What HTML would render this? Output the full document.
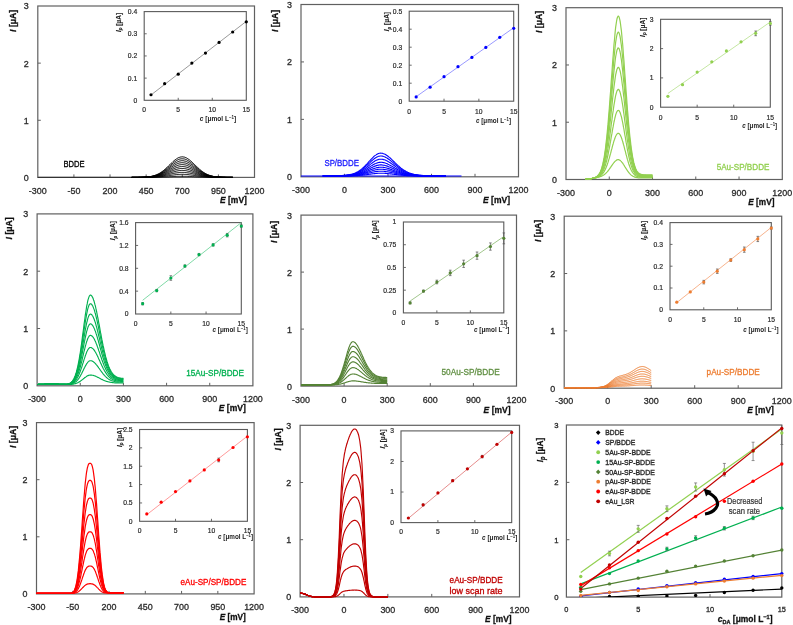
<!DOCTYPE html><html><head><meta charset="utf-8"><style>html,body{margin:0;padding:0;background:#fff;}svg{display:block;filter:blur(0.3px);font-family:"Liberation Sans",sans-serif;}</style></head><body>
<svg width="793" height="625" viewBox="0 0 793 625">
<rect width="793" height="625" fill="#fff"/>
<rect x="37.80" y="6.00" width="216.70" height="171.40" fill="none" stroke="#606060" stroke-width="1.2"/>
<text x="28.80" y="180.84" font-size="9.60" fill="#2c2c2c" font-weight="normal" font-style="normal" text-anchor="end" textLength="4.97" lengthAdjust="spacingAndGlyphs" stroke="#2c2c2c" stroke-width="0.32">0</text>
<line x1="37.80" y1="120.27" x2="40.80" y2="120.27" stroke="#606060" stroke-width="1"/>
<text x="28.80" y="123.70" font-size="9.60" fill="#2c2c2c" font-weight="normal" font-style="normal" text-anchor="end" textLength="4.97" lengthAdjust="spacingAndGlyphs" stroke="#2c2c2c" stroke-width="0.32">1</text>
<line x1="37.80" y1="63.13" x2="40.80" y2="63.13" stroke="#606060" stroke-width="1"/>
<text x="28.80" y="66.57" font-size="9.60" fill="#2c2c2c" font-weight="normal" font-style="normal" text-anchor="end" textLength="4.97" lengthAdjust="spacingAndGlyphs" stroke="#2c2c2c" stroke-width="0.32">2</text>
<text x="28.80" y="9.44" font-size="9.60" fill="#2c2c2c" font-weight="normal" font-style="normal" text-anchor="end" textLength="4.97" lengthAdjust="spacingAndGlyphs" stroke="#2c2c2c" stroke-width="0.32">3</text>
<text x="37.80" y="194.04" font-size="9.60" fill="#2c2c2c" font-weight="normal" font-style="normal" text-anchor="middle" textLength="17.90" lengthAdjust="spacingAndGlyphs" stroke="#2c2c2c" stroke-width="0.32">-300</text>
<line x1="73.92" y1="177.40" x2="73.92" y2="174.40" stroke="#606060" stroke-width="1"/>
<text x="73.92" y="194.04" font-size="9.60" fill="#2c2c2c" font-weight="normal" font-style="normal" text-anchor="middle" textLength="12.94" lengthAdjust="spacingAndGlyphs" stroke="#2c2c2c" stroke-width="0.32">-50</text>
<line x1="110.03" y1="177.40" x2="110.03" y2="174.40" stroke="#606060" stroke-width="1"/>
<text x="110.03" y="194.04" font-size="9.60" fill="#2c2c2c" font-weight="normal" font-style="normal" text-anchor="middle" textLength="14.91" lengthAdjust="spacingAndGlyphs" stroke="#2c2c2c" stroke-width="0.32">200</text>
<line x1="146.15" y1="177.40" x2="146.15" y2="174.40" stroke="#606060" stroke-width="1"/>
<text x="146.15" y="194.04" font-size="9.60" fill="#2c2c2c" font-weight="normal" font-style="normal" text-anchor="middle" textLength="14.91" lengthAdjust="spacingAndGlyphs" stroke="#2c2c2c" stroke-width="0.32">450</text>
<line x1="182.27" y1="177.40" x2="182.27" y2="174.40" stroke="#606060" stroke-width="1"/>
<text x="182.27" y="194.04" font-size="9.60" fill="#2c2c2c" font-weight="normal" font-style="normal" text-anchor="middle" textLength="14.91" lengthAdjust="spacingAndGlyphs" stroke="#2c2c2c" stroke-width="0.32">700</text>
<line x1="218.38" y1="177.40" x2="218.38" y2="174.40" stroke="#606060" stroke-width="1"/>
<text x="218.38" y="194.04" font-size="9.60" fill="#2c2c2c" font-weight="normal" font-style="normal" text-anchor="middle" textLength="14.91" lengthAdjust="spacingAndGlyphs" stroke="#2c2c2c" stroke-width="0.32">950</text>
<text x="254.50" y="194.04" font-size="9.60" fill="#2c2c2c" font-weight="normal" font-style="normal" text-anchor="middle" textLength="19.87" lengthAdjust="spacingAndGlyphs" stroke="#2c2c2c" stroke-width="0.32">1200</text>
<g transform="translate(12.20,20.90) rotate(-90)"><text x="0" y="3.3" font-size="9.2" font-weight="bold" text-anchor="middle" textLength="22" lengthAdjust="spacingAndGlyphs" fill="#111" stroke="#111" stroke-width="0.3"><tspan font-style="italic">I</tspan> [μA]</text></g>
<text x="220.00" y="203.30" font-size="9.2" font-weight="bold" textLength="26.90" lengthAdjust="spacingAndGlyphs" fill="#111" stroke="#111" stroke-width="0.3"><tspan font-style="italic">E</tspan> [mV]</text>
<line x1="37.80" y1="177.30" x2="140.00" y2="177.30" stroke="#222" stroke-width="0.9"/>
<polyline points="131.7,177.4 132.4,177.4 133.1,177.4 133.9,177.4 134.6,177.4 135.3,177.4 136.0,177.4 136.8,177.4 137.5,177.4 138.2,177.3 138.9,177.3 139.6,177.3 140.4,177.3 141.1,177.3 141.8,177.3 142.5,177.2 143.3,177.2 144.0,177.2 144.7,177.1 145.4,177.1 146.1,177.0 146.9,177.0 147.6,176.9 148.3,176.8 149.0,176.7 149.8,176.6 150.5,176.5 151.2,176.4 151.9,176.2 152.7,176.0 153.4,175.8 154.1,175.6 154.8,175.4 155.5,175.1 156.3,174.9 157.0,174.6 157.7,174.2 158.4,173.9 159.2,173.5 159.9,173.0 160.6,172.6 161.3,172.1 162.0,171.6 162.8,171.1 163.5,170.5 164.2,169.9 164.9,169.3 165.7,168.6 166.4,168.0 167.1,167.3 167.8,166.6 168.5,165.9 169.3,165.2 170.0,164.5 170.7,163.8 171.4,163.1 172.2,162.4 172.9,161.7 173.6,161.1 174.3,160.5 175.0,159.9 175.8,159.4 176.5,158.9 177.2,158.4 177.9,158.0 178.7,157.6 179.4,157.4 180.1,157.1 180.8,157.0 181.5,156.9 182.3,156.8 183.0,156.9 183.7,157.0 184.4,157.1 185.2,157.4 185.9,157.6 186.6,158.0 187.3,158.4 188.0,158.9 188.8,159.4 189.5,159.9 190.2,160.5 190.9,161.1 191.7,161.7 192.4,162.4 193.1,163.1 193.8,163.8 194.5,164.5 195.3,165.2 196.0,165.9 196.7,166.6 197.4,167.3 198.2,168.0 198.9,168.6 199.6,169.3 200.3,169.9 201.0,170.5 201.8,171.1 202.5,171.6 203.2,172.1 203.9,172.6 204.7,173.0 205.4,173.5 206.1,173.9 206.8,174.2 207.5,174.6 208.3,174.9 209.0,175.1 209.7,175.4 210.4,175.6 211.2,175.8 211.9,176.0 212.6,176.2 213.3,176.4 214.0,176.5 214.8,176.6 215.5,176.7 216.2,176.8 216.9,176.9 217.7,177.0 218.4,177.0 219.1,177.1 219.8,177.1 220.6,177.2 221.3,177.2 222.0,177.2 222.7,177.3 223.4,177.3 224.2,177.3 224.9,177.3 225.6,177.3 226.3,177.3 227.1,177.4 227.8,177.4 228.5,177.4 229.2,177.4 229.9,177.4 230.7,177.4 231.4,177.4 232.1,177.4 232.8,177.4" fill="none" stroke="#000" stroke-width="1.0" stroke-linejoin="round" opacity="1.0"/>
<polyline points="131.7,177.4 132.4,177.4 133.1,177.4 133.9,177.4 134.6,177.4 135.3,177.4 136.0,177.4 136.8,177.4 137.5,177.4 138.2,177.4 138.9,177.3 139.6,177.3 140.4,177.3 141.1,177.3 141.8,177.3 142.5,177.3 143.3,177.2 144.0,177.2 144.7,177.2 145.4,177.1 146.1,177.1 146.9,177.0 147.6,176.9 148.3,176.9 149.0,176.8 149.8,176.7 150.5,176.6 151.2,176.5 151.9,176.3 152.7,176.2 153.4,176.0 154.1,175.8 154.8,175.6 155.5,175.4 156.3,175.1 157.0,174.8 157.7,174.5 158.4,174.2 159.2,173.8 159.9,173.5 160.6,173.0 161.3,172.6 162.0,172.1 162.8,171.7 163.5,171.1 164.2,170.6 164.9,170.0 165.7,169.5 166.4,168.9 167.1,168.3 167.8,167.6 168.5,167.0 169.3,166.4 170.0,165.7 170.7,165.1 171.4,164.4 172.2,163.8 172.9,163.2 173.6,162.6 174.3,162.1 175.0,161.6 175.8,161.1 176.5,160.6 177.2,160.2 177.9,159.8 178.7,159.5 179.4,159.2 180.1,159.0 180.8,158.9 181.5,158.8 182.3,158.8 183.0,158.8 183.7,158.9 184.4,159.0 185.2,159.2 185.9,159.5 186.6,159.8 187.3,160.2 188.0,160.6 188.8,161.1 189.5,161.6 190.2,162.1 190.9,162.6 191.7,163.2 192.4,163.8 193.1,164.4 193.8,165.1 194.5,165.7 195.3,166.4 196.0,167.0 196.7,167.6 197.4,168.3 198.2,168.9 198.9,169.5 199.6,170.0 200.3,170.6 201.0,171.1 201.8,171.7 202.5,172.1 203.2,172.6 203.9,173.0 204.7,173.5 205.4,173.8 206.1,174.2 206.8,174.5 207.5,174.8 208.3,175.1 209.0,175.4 209.7,175.6 210.4,175.8 211.2,176.0 211.9,176.2 212.6,176.3 213.3,176.5 214.0,176.6 214.8,176.7 215.5,176.8 216.2,176.9 216.9,176.9 217.7,177.0 218.4,177.1 219.1,177.1 219.8,177.2 220.6,177.2 221.3,177.2 222.0,177.3 222.7,177.3 223.4,177.3 224.2,177.3 224.9,177.3 225.6,177.3 226.3,177.4 227.1,177.4 227.8,177.4 228.5,177.4 229.2,177.4 229.9,177.4 230.7,177.4 231.4,177.4 232.1,177.4 232.8,177.4" fill="none" stroke="#000" stroke-width="1.0" stroke-linejoin="round" opacity="1.0"/>
<polyline points="131.7,177.4 132.4,177.4 133.1,177.4 133.9,177.4 134.6,177.4 135.3,177.4 136.0,177.4 136.8,177.4 137.5,177.4 138.2,177.4 138.9,177.4 139.6,177.3 140.4,177.3 141.1,177.3 141.8,177.3 142.5,177.3 143.3,177.2 144.0,177.2 144.7,177.2 145.4,177.1 146.1,177.1 146.9,177.1 147.6,177.0 148.3,176.9 149.0,176.9 149.8,176.8 150.5,176.7 151.2,176.6 151.9,176.4 152.7,176.3 153.4,176.1 154.1,176.0 154.8,175.8 155.5,175.6 156.3,175.3 157.0,175.1 157.7,174.8 158.4,174.5 159.2,174.2 159.9,173.9 160.6,173.5 161.3,173.1 162.0,172.7 162.8,172.3 163.5,171.8 164.2,171.3 164.9,170.8 165.7,170.3 166.4,169.8 167.1,169.2 167.8,168.7 168.5,168.1 169.3,167.5 170.0,166.9 170.7,166.4 171.4,165.8 172.2,165.2 172.9,164.7 173.6,164.2 174.3,163.7 175.0,163.2 175.8,162.8 176.5,162.4 177.2,162.0 177.9,161.7 178.7,161.4 179.4,161.1 180.1,161.0 180.8,160.8 181.5,160.7 182.3,160.7 183.0,160.7 183.7,160.8 184.4,161.0 185.2,161.1 185.9,161.4 186.6,161.7 187.3,162.0 188.0,162.4 188.8,162.8 189.5,163.2 190.2,163.7 190.9,164.2 191.7,164.7 192.4,165.2 193.1,165.8 193.8,166.4 194.5,166.9 195.3,167.5 196.0,168.1 196.7,168.7 197.4,169.2 198.2,169.8 198.9,170.3 199.6,170.8 200.3,171.3 201.0,171.8 201.8,172.3 202.5,172.7 203.2,173.1 203.9,173.5 204.7,173.9 205.4,174.2 206.1,174.5 206.8,174.8 207.5,175.1 208.3,175.3 209.0,175.6 209.7,175.8 210.4,176.0 211.2,176.1 211.9,176.3 212.6,176.4 213.3,176.6 214.0,176.7 214.8,176.8 215.5,176.9 216.2,176.9 216.9,177.0 217.7,177.1 218.4,177.1 219.1,177.1 219.8,177.2 220.6,177.2 221.3,177.2 222.0,177.3 222.7,177.3 223.4,177.3 224.2,177.3 224.9,177.3 225.6,177.4 226.3,177.4 227.1,177.4 227.8,177.4 228.5,177.4 229.2,177.4 229.9,177.4 230.7,177.4 231.4,177.4 232.1,177.4 232.8,177.4" fill="none" stroke="#000" stroke-width="1.0" stroke-linejoin="round" opacity="1.0"/>
<polyline points="131.7,177.4 132.4,177.4 133.1,177.4 133.9,177.4 134.6,177.4 135.3,177.4 136.0,177.4 136.8,177.4 137.5,177.4 138.2,177.4 138.9,177.4 139.6,177.3 140.4,177.3 141.1,177.3 141.8,177.3 142.5,177.3 143.3,177.3 144.0,177.2 144.7,177.2 145.4,177.2 146.1,177.1 146.9,177.1 147.6,177.0 148.3,177.0 149.0,176.9 149.8,176.8 150.5,176.8 151.2,176.7 151.9,176.5 152.7,176.4 153.4,176.3 154.1,176.1 154.8,176.0 155.5,175.8 156.3,175.6 157.0,175.4 157.7,175.1 158.4,174.9 159.2,174.6 159.9,174.3 160.6,174.0 161.3,173.6 162.0,173.2 162.8,172.9 163.5,172.4 164.2,172.0 164.9,171.6 165.7,171.1 166.4,170.7 167.1,170.2 167.8,169.7 168.5,169.2 169.3,168.7 170.0,168.2 170.7,167.6 171.4,167.1 172.2,166.7 172.9,166.2 173.6,165.7 174.3,165.3 175.0,164.9 175.8,164.5 176.5,164.1 177.2,163.8 177.9,163.5 178.7,163.2 179.4,163.0 180.1,162.9 180.8,162.8 181.5,162.7 182.3,162.7 183.0,162.7 183.7,162.8 184.4,162.9 185.2,163.0 185.9,163.2 186.6,163.5 187.3,163.8 188.0,164.1 188.8,164.5 189.5,164.9 190.2,165.3 190.9,165.7 191.7,166.2 192.4,166.7 193.1,167.1 193.8,167.6 194.5,168.2 195.3,168.7 196.0,169.2 196.7,169.7 197.4,170.2 198.2,170.7 198.9,171.1 199.6,171.6 200.3,172.0 201.0,172.4 201.8,172.9 202.5,173.2 203.2,173.6 203.9,174.0 204.7,174.3 205.4,174.6 206.1,174.9 206.8,175.1 207.5,175.4 208.3,175.6 209.0,175.8 209.7,176.0 210.4,176.1 211.2,176.3 211.9,176.4 212.6,176.5 213.3,176.7 214.0,176.8 214.8,176.8 215.5,176.9 216.2,177.0 216.9,177.0 217.7,177.1 218.4,177.1 219.1,177.2 219.8,177.2 220.6,177.2 221.3,177.3 222.0,177.3 222.7,177.3 223.4,177.3 224.2,177.3 224.9,177.3 225.6,177.4 226.3,177.4 227.1,177.4 227.8,177.4 228.5,177.4 229.2,177.4 229.9,177.4 230.7,177.4 231.4,177.4 232.1,177.4 232.8,177.4" fill="none" stroke="#000" stroke-width="1.0" stroke-linejoin="round" opacity="1.0"/>
<polyline points="131.7,177.4 132.4,177.4 133.1,177.4 133.9,177.4 134.6,177.4 135.3,177.4 136.0,177.4 136.8,177.4 137.5,177.4 138.2,177.4 138.9,177.4 139.6,177.4 140.4,177.3 141.1,177.3 141.8,177.3 142.5,177.3 143.3,177.3 144.0,177.3 144.7,177.2 145.4,177.2 146.1,177.2 146.9,177.1 147.6,177.1 148.3,177.0 149.0,177.0 149.8,176.9 150.5,176.8 151.2,176.8 151.9,176.7 152.7,176.6 153.4,176.4 154.1,176.3 154.8,176.2 155.5,176.0 156.3,175.8 157.0,175.6 157.7,175.4 158.4,175.2 159.2,174.9 159.9,174.7 160.6,174.4 161.3,174.1 162.0,173.8 162.8,173.5 163.5,173.1 164.2,172.7 164.9,172.3 165.7,172.0 166.4,171.5 167.1,171.1 167.8,170.7 168.5,170.3 169.3,169.8 170.0,169.4 170.7,168.9 171.4,168.5 172.2,168.1 172.9,167.7 173.6,167.3 174.3,166.9 175.0,166.5 175.8,166.2 176.5,165.9 177.2,165.6 177.9,165.3 178.7,165.1 179.4,164.9 180.1,164.8 180.8,164.7 181.5,164.6 182.3,164.6 183.0,164.6 183.7,164.7 184.4,164.8 185.2,164.9 185.9,165.1 186.6,165.3 187.3,165.6 188.0,165.9 188.8,166.2 189.5,166.5 190.2,166.9 190.9,167.3 191.7,167.7 192.4,168.1 193.1,168.5 193.8,168.9 194.5,169.4 195.3,169.8 196.0,170.3 196.7,170.7 197.4,171.1 198.2,171.5 198.9,172.0 199.6,172.3 200.3,172.7 201.0,173.1 201.8,173.5 202.5,173.8 203.2,174.1 203.9,174.4 204.7,174.7 205.4,174.9 206.1,175.2 206.8,175.4 207.5,175.6 208.3,175.8 209.0,176.0 209.7,176.2 210.4,176.3 211.2,176.4 211.9,176.6 212.6,176.7 213.3,176.8 214.0,176.8 214.8,176.9 215.5,177.0 216.2,177.0 216.9,177.1 217.7,177.1 218.4,177.2 219.1,177.2 219.8,177.2 220.6,177.3 221.3,177.3 222.0,177.3 222.7,177.3 223.4,177.3 224.2,177.3 224.9,177.4 225.6,177.4 226.3,177.4 227.1,177.4 227.8,177.4 228.5,177.4 229.2,177.4 229.9,177.4 230.7,177.4 231.4,177.4 232.1,177.4 232.8,177.4" fill="none" stroke="#000" stroke-width="1.0" stroke-linejoin="round" opacity="1.0"/>
<polyline points="131.7,177.4 132.4,177.4 133.1,177.4 133.9,177.4 134.6,177.4 135.3,177.4 136.0,177.4 136.8,177.4 137.5,177.4 138.2,177.4 138.9,177.4 139.6,177.4 140.4,177.4 141.1,177.3 141.8,177.3 142.5,177.3 143.3,177.3 144.0,177.3 144.7,177.3 145.4,177.2 146.1,177.2 146.9,177.2 147.6,177.1 148.3,177.1 149.0,177.0 149.8,177.0 150.5,176.9 151.2,176.9 151.9,176.8 152.7,176.7 153.4,176.6 154.1,176.5 154.8,176.3 155.5,176.2 156.3,176.1 157.0,175.9 157.7,175.7 158.4,175.5 159.2,175.3 159.9,175.1 160.6,174.9 161.3,174.6 162.0,174.3 162.8,174.1 163.5,173.8 164.2,173.4 164.9,173.1 165.7,172.8 166.4,172.4 167.1,172.1 167.8,171.7 168.5,171.3 169.3,171.0 170.0,170.6 170.7,170.2 171.4,169.9 172.2,169.5 172.9,169.1 173.6,168.8 174.3,168.5 175.0,168.2 175.8,167.9 176.5,167.6 177.2,167.4 177.9,167.2 178.7,167.0 179.4,166.8 180.1,166.7 180.8,166.6 181.5,166.6 182.3,166.5 183.0,166.6 183.7,166.6 184.4,166.7 185.2,166.8 185.9,167.0 186.6,167.2 187.3,167.4 188.0,167.6 188.8,167.9 189.5,168.2 190.2,168.5 190.9,168.8 191.7,169.1 192.4,169.5 193.1,169.9 193.8,170.2 194.5,170.6 195.3,171.0 196.0,171.3 196.7,171.7 197.4,172.1 198.2,172.4 198.9,172.8 199.6,173.1 200.3,173.4 201.0,173.8 201.8,174.1 202.5,174.3 203.2,174.6 203.9,174.9 204.7,175.1 205.4,175.3 206.1,175.5 206.8,175.7 207.5,175.9 208.3,176.1 209.0,176.2 209.7,176.3 210.4,176.5 211.2,176.6 211.9,176.7 212.6,176.8 213.3,176.9 214.0,176.9 214.8,177.0 215.5,177.0 216.2,177.1 216.9,177.1 217.7,177.2 218.4,177.2 219.1,177.2 219.8,177.3 220.6,177.3 221.3,177.3 222.0,177.3 222.7,177.3 223.4,177.3 224.2,177.4 224.9,177.4 225.6,177.4 226.3,177.4 227.1,177.4 227.8,177.4 228.5,177.4 229.2,177.4 229.9,177.4 230.7,177.4 231.4,177.4 232.1,177.4 232.8,177.4" fill="none" stroke="#000" stroke-width="1.0" stroke-linejoin="round" opacity="1.0"/>
<polyline points="131.7,177.4 132.4,177.4 133.1,177.4 133.9,177.4 134.6,177.4 135.3,177.4 136.0,177.4 136.8,177.4 137.5,177.4 138.2,177.4 138.9,177.4 139.6,177.4 140.4,177.4 141.1,177.4 141.8,177.3 142.5,177.3 143.3,177.3 144.0,177.3 144.7,177.3 145.4,177.3 146.1,177.2 146.9,177.2 147.6,177.2 148.3,177.1 149.0,177.1 149.8,177.1 150.5,177.0 151.2,176.9 151.9,176.9 152.7,176.8 153.4,176.7 154.1,176.6 154.8,176.5 155.5,176.4 156.3,176.3 157.0,176.2 157.7,176.0 158.4,175.9 159.2,175.7 159.9,175.5 160.6,175.3 161.3,175.1 162.0,174.9 162.8,174.7 163.5,174.4 164.2,174.2 164.9,173.9 165.7,173.6 166.4,173.3 167.1,173.0 167.8,172.7 168.5,172.4 169.3,172.1 170.0,171.8 170.7,171.5 171.4,171.2 172.2,170.9 172.9,170.6 173.6,170.3 174.3,170.1 175.0,169.8 175.8,169.6 176.5,169.4 177.2,169.2 177.9,169.0 178.7,168.8 179.4,168.7 180.1,168.6 180.8,168.5 181.5,168.5 182.3,168.5 183.0,168.5 183.7,168.5 184.4,168.6 185.2,168.7 185.9,168.8 186.6,169.0 187.3,169.2 188.0,169.4 188.8,169.6 189.5,169.8 190.2,170.1 190.9,170.3 191.7,170.6 192.4,170.9 193.1,171.2 193.8,171.5 194.5,171.8 195.3,172.1 196.0,172.4 196.7,172.7 197.4,173.0 198.2,173.3 198.9,173.6 199.6,173.9 200.3,174.2 201.0,174.4 201.8,174.7 202.5,174.9 203.2,175.1 203.9,175.3 204.7,175.5 205.4,175.7 206.1,175.9 206.8,176.0 207.5,176.2 208.3,176.3 209.0,176.4 209.7,176.5 210.4,176.6 211.2,176.7 211.9,176.8 212.6,176.9 213.3,176.9 214.0,177.0 214.8,177.1 215.5,177.1 216.2,177.1 216.9,177.2 217.7,177.2 218.4,177.2 219.1,177.3 219.8,177.3 220.6,177.3 221.3,177.3 222.0,177.3 222.7,177.3 223.4,177.4 224.2,177.4 224.9,177.4 225.6,177.4 226.3,177.4 227.1,177.4 227.8,177.4 228.5,177.4 229.2,177.4 229.9,177.4 230.7,177.4 231.4,177.4 232.1,177.4 232.8,177.4" fill="none" stroke="#000" stroke-width="1.0" stroke-linejoin="round" opacity="1.0"/>
<polyline points="131.7,177.4 132.4,177.4 133.1,177.4 133.9,177.4 134.6,177.4 135.3,177.4 136.0,177.4 136.8,177.4 137.5,177.4 138.2,177.4 138.9,177.4 139.6,177.4 140.4,177.4 141.1,177.4 141.8,177.4 142.5,177.3 143.3,177.3 144.0,177.3 144.7,177.3 145.4,177.3 146.1,177.3 146.9,177.3 147.6,177.2 148.3,177.2 149.0,177.2 149.8,177.1 150.5,177.1 151.2,177.0 151.9,177.0 152.7,176.9 153.4,176.9 154.1,176.8 154.8,176.7 155.5,176.6 156.3,176.5 157.0,176.4 157.7,176.3 158.4,176.2 159.2,176.1 159.9,175.9 160.6,175.8 161.3,175.6 162.0,175.4 162.8,175.3 163.5,175.1 164.2,174.9 164.9,174.6 165.7,174.4 166.4,174.2 167.1,174.0 167.8,173.7 168.5,173.5 169.3,173.3 170.0,173.0 170.7,172.8 171.4,172.6 172.2,172.3 172.9,172.1 173.6,171.9 174.3,171.7 175.0,171.5 175.8,171.3 176.5,171.1 177.2,171.0 177.9,170.8 178.7,170.7 179.4,170.6 180.1,170.5 180.8,170.5 181.5,170.4 182.3,170.4 183.0,170.4 183.7,170.5 184.4,170.5 185.2,170.6 185.9,170.7 186.6,170.8 187.3,171.0 188.0,171.1 188.8,171.3 189.5,171.5 190.2,171.7 190.9,171.9 191.7,172.1 192.4,172.3 193.1,172.6 193.8,172.8 194.5,173.0 195.3,173.3 196.0,173.5 196.7,173.7 197.4,174.0 198.2,174.2 198.9,174.4 199.6,174.6 200.3,174.9 201.0,175.1 201.8,175.3 202.5,175.4 203.2,175.6 203.9,175.8 204.7,175.9 205.4,176.1 206.1,176.2 206.8,176.3 207.5,176.4 208.3,176.5 209.0,176.6 209.7,176.7 210.4,176.8 211.2,176.9 211.9,176.9 212.6,177.0 213.3,177.0 214.0,177.1 214.8,177.1 215.5,177.2 216.2,177.2 216.9,177.2 217.7,177.3 218.4,177.3 219.1,177.3 219.8,177.3 220.6,177.3 221.3,177.3 222.0,177.3 222.7,177.4 223.4,177.4 224.2,177.4 224.9,177.4 225.6,177.4 226.3,177.4 227.1,177.4 227.8,177.4 228.5,177.4 229.2,177.4 229.9,177.4 230.7,177.4 231.4,177.4 232.1,177.4 232.8,177.4" fill="none" stroke="#000" stroke-width="1.0" stroke-linejoin="round" opacity="1.0"/>
<polyline points="131.7,177.4 132.4,177.4 133.1,177.4 133.9,177.4 134.6,177.4 135.3,177.4 136.0,177.4 136.8,177.4 137.5,177.4 138.2,177.4 138.9,177.4 139.6,177.4 140.4,177.4 141.1,177.4 141.8,177.4 142.5,177.4 143.3,177.4 144.0,177.3 144.7,177.3 145.4,177.3 146.1,177.3 146.9,177.3 147.6,177.3 148.3,177.3 149.0,177.2 149.8,177.2 150.5,177.2 151.2,177.1 151.9,177.1 152.7,177.1 153.4,177.0 154.1,177.0 154.8,176.9 155.5,176.8 156.3,176.8 157.0,176.7 157.7,176.6 158.4,176.5 159.2,176.4 159.9,176.3 160.6,176.2 161.3,176.1 162.0,176.0 162.8,175.9 163.5,175.7 164.2,175.6 164.9,175.4 165.7,175.3 166.4,175.1 167.1,174.9 167.8,174.8 168.5,174.6 169.3,174.4 170.0,174.2 170.7,174.1 171.4,173.9 172.2,173.7 172.9,173.6 173.6,173.4 174.3,173.3 175.0,173.1 175.8,173.0 176.5,172.9 177.2,172.8 177.9,172.7 178.7,172.6 179.4,172.5 180.1,172.4 180.8,172.4 181.5,172.4 182.3,172.4 183.0,172.4 183.7,172.4 184.4,172.4 185.2,172.5 185.9,172.6 186.6,172.7 187.3,172.8 188.0,172.9 188.8,173.0 189.5,173.1 190.2,173.3 190.9,173.4 191.7,173.6 192.4,173.7 193.1,173.9 193.8,174.1 194.5,174.2 195.3,174.4 196.0,174.6 196.7,174.8 197.4,174.9 198.2,175.1 198.9,175.3 199.6,175.4 200.3,175.6 201.0,175.7 201.8,175.9 202.5,176.0 203.2,176.1 203.9,176.2 204.7,176.3 205.4,176.4 206.1,176.5 206.8,176.6 207.5,176.7 208.3,176.8 209.0,176.8 209.7,176.9 210.4,177.0 211.2,177.0 211.9,177.1 212.6,177.1 213.3,177.1 214.0,177.2 214.8,177.2 215.5,177.2 216.2,177.3 216.9,177.3 217.7,177.3 218.4,177.3 219.1,177.3 219.8,177.3 220.6,177.3 221.3,177.4 222.0,177.4 222.7,177.4 223.4,177.4 224.2,177.4 224.9,177.4 225.6,177.4 226.3,177.4 227.1,177.4 227.8,177.4 228.5,177.4 229.2,177.4 229.9,177.4 230.7,177.4 231.4,177.4 232.1,177.4 232.8,177.4" fill="none" stroke="#000" stroke-width="1.0" stroke-linejoin="round" opacity="1.0"/>
<polyline points="131.7,177.4 132.4,177.4 133.1,177.4 133.9,177.4 134.6,177.4 135.3,177.4 136.0,177.4 136.8,177.4 137.5,177.4 138.2,177.4 138.9,177.4 139.6,177.4 140.4,177.4 141.1,177.4 141.8,177.4 142.5,177.4 143.3,177.4 144.0,177.4 144.7,177.4 145.4,177.4 146.1,177.3 146.9,177.3 147.6,177.3 148.3,177.3 149.0,177.3 149.8,177.3 150.5,177.3 151.2,177.2 151.9,177.2 152.7,177.2 153.4,177.2 154.1,177.1 154.8,177.1 155.5,177.1 156.3,177.0 157.0,177.0 157.7,176.9 158.4,176.9 159.2,176.8 159.9,176.7 160.6,176.7 161.3,176.6 162.0,176.5 162.8,176.4 163.5,176.4 164.2,176.3 164.9,176.2 165.7,176.1 166.4,176.0 167.1,175.9 167.8,175.8 168.5,175.7 169.3,175.6 170.0,175.5 170.7,175.4 171.4,175.3 172.2,175.2 172.9,175.1 173.6,175.0 174.3,174.9 175.0,174.8 175.8,174.7 176.5,174.6 177.2,174.5 177.9,174.5 178.7,174.4 179.4,174.4 180.1,174.4 180.8,174.3 181.5,174.3 182.3,174.3 183.0,174.3 183.7,174.3 184.4,174.4 185.2,174.4 185.9,174.4 186.6,174.5 187.3,174.5 188.0,174.6 188.8,174.7 189.5,174.8 190.2,174.9 190.9,175.0 191.7,175.1 192.4,175.2 193.1,175.3 193.8,175.4 194.5,175.5 195.3,175.6 196.0,175.7 196.7,175.8 197.4,175.9 198.2,176.0 198.9,176.1 199.6,176.2 200.3,176.3 201.0,176.4 201.8,176.4 202.5,176.5 203.2,176.6 203.9,176.7 204.7,176.7 205.4,176.8 206.1,176.9 206.8,176.9 207.5,177.0 208.3,177.0 209.0,177.1 209.7,177.1 210.4,177.1 211.2,177.2 211.9,177.2 212.6,177.2 213.3,177.2 214.0,177.3 214.8,177.3 215.5,177.3 216.2,177.3 216.9,177.3 217.7,177.3 218.4,177.3 219.1,177.4 219.8,177.4 220.6,177.4 221.3,177.4 222.0,177.4 222.7,177.4 223.4,177.4 224.2,177.4 224.9,177.4 225.6,177.4 226.3,177.4 227.1,177.4 227.8,177.4 228.5,177.4 229.2,177.4 229.9,177.4 230.7,177.4 231.4,177.4 232.1,177.4 232.8,177.4" fill="none" stroke="#000" stroke-width="1.0" stroke-linejoin="round" opacity="1.0"/>
<polyline points="131.7,177.4 132.4,177.4 133.1,177.4 133.9,177.4 134.6,177.4 135.3,177.4 136.0,177.4 136.8,177.4 137.5,177.4 138.2,177.4 138.9,177.4 139.6,177.4 140.4,177.4 141.1,177.4 141.8,177.4 142.5,177.4 143.3,177.4 144.0,177.4 144.7,177.4 145.4,177.4 146.1,177.4 146.9,177.4 147.6,177.4 148.3,177.4 149.0,177.4 149.8,177.4 150.5,177.3 151.2,177.3 151.9,177.3 152.7,177.3 153.4,177.3 154.1,177.3 154.8,177.3 155.5,177.3 156.3,177.3 157.0,177.2 157.7,177.2 158.4,177.2 159.2,177.2 159.9,177.2 160.6,177.1 161.3,177.1 162.0,177.1 162.8,177.0 163.5,177.0 164.2,177.0 164.9,176.9 165.7,176.9 166.4,176.9 167.1,176.8 167.8,176.8 168.5,176.8 169.3,176.7 170.0,176.7 170.7,176.6 171.4,176.6 172.2,176.6 172.9,176.5 173.6,176.5 174.3,176.5 175.0,176.4 175.8,176.4 176.5,176.4 177.2,176.3 177.9,176.3 178.7,176.3 179.4,176.3 180.1,176.3 180.8,176.3 181.5,176.3 182.3,176.3 183.0,176.3 183.7,176.3 184.4,176.3 185.2,176.3 185.9,176.3 186.6,176.3 187.3,176.3 188.0,176.4 188.8,176.4 189.5,176.4 190.2,176.5 190.9,176.5 191.7,176.5 192.4,176.6 193.1,176.6 193.8,176.6 194.5,176.7 195.3,176.7 196.0,176.8 196.7,176.8 197.4,176.8 198.2,176.9 198.9,176.9 199.6,176.9 200.3,177.0 201.0,177.0 201.8,177.0 202.5,177.1 203.2,177.1 203.9,177.1 204.7,177.2 205.4,177.2 206.1,177.2 206.8,177.2 207.5,177.2 208.3,177.3 209.0,177.3 209.7,177.3 210.4,177.3 211.2,177.3 211.9,177.3 212.6,177.3 213.3,177.3 214.0,177.3 214.8,177.4 215.5,177.4 216.2,177.4 216.9,177.4 217.7,177.4 218.4,177.4 219.1,177.4 219.8,177.4 220.6,177.4 221.3,177.4 222.0,177.4 222.7,177.4 223.4,177.4 224.2,177.4 224.9,177.4 225.6,177.4 226.3,177.4 227.1,177.4 227.8,177.4 228.5,177.4 229.2,177.4 229.9,177.4 230.7,177.4 231.4,177.4 232.1,177.4 232.8,177.4" fill="none" stroke="#000" stroke-width="1.0" stroke-linejoin="round" opacity="1.0"/>
<text x="63.50" y="167.24" font-size="9.60" fill="#000" font-weight="normal" font-style="normal" text-anchor="start" textLength="21.10" lengthAdjust="spacingAndGlyphs" stroke="#000" stroke-width="0.32">BDDE</text>
<rect x="144.20" y="11.60" width="102.10" height="88.70" fill="none" stroke="#5a5a5a" stroke-width="1.1"/>
<text x="137.20" y="102.70" font-size="6.70" fill="#2c2c2c" font-weight="normal" font-style="normal" text-anchor="end" textLength="3.77" lengthAdjust="spacingAndGlyphs" stroke="#2c2c2c" stroke-width="0.2">0</text>
<line x1="144.20" y1="78.12" x2="146.70" y2="78.12" stroke="#5a5a5a" stroke-width="0.9"/>
<text x="137.20" y="80.52" font-size="6.70" fill="#2c2c2c" font-weight="normal" font-style="normal" text-anchor="end" textLength="9.42" lengthAdjust="spacingAndGlyphs" stroke="#2c2c2c" stroke-width="0.2">0.1</text>
<line x1="144.20" y1="55.95" x2="146.70" y2="55.95" stroke="#5a5a5a" stroke-width="0.9"/>
<text x="137.20" y="58.35" font-size="6.70" fill="#2c2c2c" font-weight="normal" font-style="normal" text-anchor="end" textLength="9.42" lengthAdjust="spacingAndGlyphs" stroke="#2c2c2c" stroke-width="0.2">0.2</text>
<line x1="144.20" y1="33.77" x2="146.70" y2="33.77" stroke="#5a5a5a" stroke-width="0.9"/>
<text x="137.20" y="36.17" font-size="6.70" fill="#2c2c2c" font-weight="normal" font-style="normal" text-anchor="end" textLength="9.42" lengthAdjust="spacingAndGlyphs" stroke="#2c2c2c" stroke-width="0.2">0.3</text>
<text x="137.20" y="14.00" font-size="6.70" fill="#2c2c2c" font-weight="normal" font-style="normal" text-anchor="end" textLength="9.42" lengthAdjust="spacingAndGlyphs" stroke="#2c2c2c" stroke-width="0.2">0.4</text>
<text x="144.20" y="112.00" font-size="6.70" fill="#2c2c2c" font-weight="normal" font-style="normal" text-anchor="middle" textLength="3.75" lengthAdjust="spacingAndGlyphs" stroke="#2c2c2c" stroke-width="0.2">0</text>
<line x1="178.23" y1="100.30" x2="178.23" y2="97.80" stroke="#5a5a5a" stroke-width="0.9"/>
<text x="178.23" y="112.00" font-size="6.70" fill="#2c2c2c" font-weight="normal" font-style="normal" text-anchor="middle" textLength="3.75" lengthAdjust="spacingAndGlyphs" stroke="#2c2c2c" stroke-width="0.2">5</text>
<line x1="212.27" y1="100.30" x2="212.27" y2="97.80" stroke="#5a5a5a" stroke-width="0.9"/>
<text x="212.27" y="112.00" font-size="6.70" fill="#2c2c2c" font-weight="normal" font-style="normal" text-anchor="middle" textLength="7.50" lengthAdjust="spacingAndGlyphs" stroke="#2c2c2c" stroke-width="0.2">10</text>
<text x="246.30" y="112.00" font-size="6.70" fill="#2c2c2c" font-weight="normal" font-style="normal" text-anchor="middle" textLength="7.50" lengthAdjust="spacingAndGlyphs" stroke="#2c2c2c" stroke-width="0.2">15</text>
<line x1="151.01" y1="94.98" x2="246.30" y2="21.36" stroke="#808080" stroke-width="0.8"/>
<circle cx="151.01" cy="94.76" r="1.6" fill="#000"/>
<circle cx="164.62" cy="83.67" r="1.6" fill="#000"/>
<circle cx="178.23" cy="74.13" r="1.6" fill="#000"/>
<circle cx="191.85" cy="63.05" r="1.6" fill="#000"/>
<circle cx="205.46" cy="53.07" r="1.6" fill="#000"/>
<circle cx="219.07" cy="42.42" r="1.6" fill="#000"/>
<circle cx="232.69" cy="32.00" r="1.6" fill="#000"/>
<circle cx="246.30" cy="21.80" r="1.6" fill="#000"/>
<g transform="translate(118.50,22.50) rotate(-90)"><text x="0" y="2.4" font-size="6.8" font-weight="bold" text-anchor="middle" textLength="19.2" lengthAdjust="spacingAndGlyphs" fill="#222" stroke="#222" stroke-width="0.1"><tspan font-style="italic">I</tspan><tspan font-size="4.6" dy="1.5" font-style="italic">p</tspan><tspan dy="-1.5"> [μA]</tspan></text></g>
<text x="199.80" y="120.80" font-size="6.8" font-weight="bold" textLength="36.40" lengthAdjust="spacingAndGlyphs" fill="#222"><tspan font-style="italic">c</tspan> [μmol L<tspan font-size="4.6" dy="-2.2">−1</tspan><tspan dy="2.2">]</tspan></text>
<rect x="301.00" y="4.50" width="217.50" height="172.30" fill="none" stroke="#606060" stroke-width="1.2"/>
<text x="292.00" y="180.24" font-size="9.60" fill="#2c2c2c" font-weight="normal" font-style="normal" text-anchor="end" textLength="4.97" lengthAdjust="spacingAndGlyphs" stroke="#2c2c2c" stroke-width="0.32">0</text>
<line x1="301.00" y1="119.37" x2="304.00" y2="119.37" stroke="#606060" stroke-width="1"/>
<text x="292.00" y="122.80" font-size="9.60" fill="#2c2c2c" font-weight="normal" font-style="normal" text-anchor="end" textLength="4.97" lengthAdjust="spacingAndGlyphs" stroke="#2c2c2c" stroke-width="0.32">1</text>
<line x1="301.00" y1="61.93" x2="304.00" y2="61.93" stroke="#606060" stroke-width="1"/>
<text x="292.00" y="65.37" font-size="9.60" fill="#2c2c2c" font-weight="normal" font-style="normal" text-anchor="end" textLength="4.97" lengthAdjust="spacingAndGlyphs" stroke="#2c2c2c" stroke-width="0.32">2</text>
<text x="292.00" y="7.94" font-size="9.60" fill="#2c2c2c" font-weight="normal" font-style="normal" text-anchor="end" textLength="4.97" lengthAdjust="spacingAndGlyphs" stroke="#2c2c2c" stroke-width="0.32">3</text>
<text x="301.00" y="192.74" font-size="9.60" fill="#2c2c2c" font-weight="normal" font-style="normal" text-anchor="middle" textLength="17.90" lengthAdjust="spacingAndGlyphs" stroke="#2c2c2c" stroke-width="0.32">-300</text>
<line x1="344.50" y1="176.80" x2="344.50" y2="173.80" stroke="#606060" stroke-width="1"/>
<text x="344.50" y="192.74" font-size="9.60" fill="#2c2c2c" font-weight="normal" font-style="normal" text-anchor="middle" textLength="4.97" lengthAdjust="spacingAndGlyphs" stroke="#2c2c2c" stroke-width="0.32">0</text>
<line x1="388.00" y1="176.80" x2="388.00" y2="173.80" stroke="#606060" stroke-width="1"/>
<text x="388.00" y="192.74" font-size="9.60" fill="#2c2c2c" font-weight="normal" font-style="normal" text-anchor="middle" textLength="14.91" lengthAdjust="spacingAndGlyphs" stroke="#2c2c2c" stroke-width="0.32">300</text>
<line x1="431.50" y1="176.80" x2="431.50" y2="173.80" stroke="#606060" stroke-width="1"/>
<text x="431.50" y="192.74" font-size="9.60" fill="#2c2c2c" font-weight="normal" font-style="normal" text-anchor="middle" textLength="14.91" lengthAdjust="spacingAndGlyphs" stroke="#2c2c2c" stroke-width="0.32">600</text>
<line x1="475.00" y1="176.80" x2="475.00" y2="173.80" stroke="#606060" stroke-width="1"/>
<text x="475.00" y="192.74" font-size="9.60" fill="#2c2c2c" font-weight="normal" font-style="normal" text-anchor="middle" textLength="14.91" lengthAdjust="spacingAndGlyphs" stroke="#2c2c2c" stroke-width="0.32">900</text>
<text x="518.50" y="192.74" font-size="9.60" fill="#2c2c2c" font-weight="normal" font-style="normal" text-anchor="middle" textLength="19.87" lengthAdjust="spacingAndGlyphs" stroke="#2c2c2c" stroke-width="0.32">1200</text>
<g transform="translate(275.00,21.00) rotate(-90)"><text x="0" y="3.3" font-size="9.2" font-weight="bold" text-anchor="middle" textLength="22" lengthAdjust="spacingAndGlyphs" fill="#111" stroke="#111" stroke-width="0.3"><tspan font-style="italic">I</tspan> [μA]</text></g>
<text x="483.00" y="203.30" font-size="9.2" font-weight="bold" textLength="27.00" lengthAdjust="spacingAndGlyphs" fill="#111" stroke="#111" stroke-width="0.3"><tspan font-style="italic">E</tspan> [mV]</text>
<line x1="301.00" y1="176.00" x2="461.50" y2="176.00" stroke="#0000ff" stroke-width="1.1"/>
<polyline points="322.8,175.9 323.5,175.9 324.2,175.9 324.9,175.9 325.6,175.8 326.4,175.8 327.1,175.8 327.8,175.8 328.6,175.8 329.3,175.8 330.0,175.8 330.7,175.8 331.4,175.8 332.2,175.8 332.9,175.8 333.6,175.7 334.4,175.7 335.1,175.7 335.8,175.7 336.5,175.7 337.2,175.7 338.0,175.6 338.7,175.6 339.4,175.6 340.1,175.6 340.9,175.5 341.6,175.5 342.3,175.5 343.1,175.4 343.8,175.4 344.5,175.3 345.2,175.3 345.9,175.2 346.7,175.1 347.4,175.0 348.1,174.9 348.9,174.8 349.6,174.7 350.3,174.5 351.0,174.3 351.8,174.2 352.5,174.0 353.2,173.7 353.9,173.5 354.6,173.2 355.4,172.9 356.1,172.6 356.8,172.2 357.6,171.8 358.3,171.4 359.0,170.9 359.7,170.5 360.4,169.9 361.2,169.4 361.9,168.8 362.6,168.2 363.4,167.5 364.1,166.8 364.8,166.1 365.5,165.4 366.2,164.6 367.0,163.8 367.7,163.0 368.4,162.3 369.1,161.4 369.9,160.7 370.6,159.9 371.3,159.1 372.1,158.3 372.8,157.6 373.5,156.9 374.2,156.2 374.9,155.6 375.7,155.1 376.4,154.6 377.1,154.2 377.9,153.8 378.6,153.5 379.3,153.3 380.0,153.2 380.8,153.1 381.5,153.2 382.2,153.3 382.9,153.4 383.6,153.7 384.4,154.0 385.1,154.3 385.8,154.7 386.6,155.2 387.3,155.7 388.0,156.2 388.7,156.8 389.4,157.4 390.2,158.0 390.9,158.7 391.6,159.4 392.4,160.1 393.1,160.8 393.8,161.5 394.5,162.2 395.2,162.9 396.0,163.6 396.7,164.3 397.4,164.9 398.1,165.6 398.9,166.2 399.6,166.9 400.3,167.5 401.1,168.1 401.8,168.6 402.5,169.1 403.2,169.7 403.9,170.1 404.7,170.6 405.4,171.0 406.1,171.4 406.9,171.8 407.6,172.2 408.3,172.5 409.0,172.8 409.8,173.1 410.5,173.3 411.2,173.6 411.9,173.8 412.6,174.0 413.4,174.2 414.1,174.4 414.8,174.5 415.5,174.7 416.3,174.8 417.0,174.9 417.7,175.0 418.4,175.1 419.2,175.2 419.9,175.2 420.6,175.3 421.4,175.4 422.1,175.4 422.8,175.5 423.5,175.5 424.2,175.6 425.0,175.6 425.7,175.6 426.4,175.6 427.1,175.7 427.9,175.7 428.6,175.7 429.3,175.7 430.1,175.7 430.8,175.8 431.5,175.8 432.2,175.8 433.0,175.8 433.7,175.8 434.4,175.8 435.1,175.8 435.9,175.8 436.6,175.8 437.3,175.9 438.0,175.9 438.8,175.9 439.5,175.9 440.2,175.9 440.9,175.9 441.6,175.9 442.4,175.9 443.1,175.9 443.8,175.9 444.6,175.9 445.3,175.9 446.0,175.9" fill="none" stroke="#0000ff" stroke-width="1.1" stroke-linejoin="round" opacity="1.0"/>
<polyline points="322.8,175.9 323.5,175.9 324.2,175.9 324.9,175.9 325.6,175.9 326.4,175.9 327.1,175.9 327.8,175.9 328.6,175.9 329.3,175.8 330.0,175.8 330.7,175.8 331.4,175.8 332.2,175.8 332.9,175.8 333.6,175.8 334.4,175.8 335.1,175.8 335.8,175.8 336.5,175.7 337.2,175.7 338.0,175.7 338.7,175.7 339.4,175.7 340.1,175.6 340.9,175.6 341.6,175.6 342.3,175.5 343.1,175.5 343.8,175.5 344.5,175.4 345.2,175.4 345.9,175.3 346.7,175.2 347.4,175.1 348.1,175.1 348.9,175.0 349.6,174.8 350.3,174.7 351.0,174.6 351.8,174.4 352.5,174.2 353.2,174.0 353.9,173.8 354.6,173.6 355.4,173.3 356.1,173.0 356.8,172.7 357.6,172.4 358.3,172.0 359.0,171.6 359.7,171.2 360.4,170.7 361.2,170.2 361.9,169.7 362.6,169.1 363.4,168.6 364.1,168.0 364.8,167.4 365.5,166.7 366.2,166.0 367.0,165.4 367.7,164.7 368.4,164.0 369.1,163.3 369.9,162.6 370.6,161.9 371.3,161.2 372.1,160.5 372.8,159.9 373.5,159.3 374.2,158.7 374.9,158.2 375.7,157.7 376.4,157.3 377.1,156.9 377.9,156.6 378.6,156.3 379.3,156.2 380.0,156.0 380.8,156.0 381.5,156.0 382.2,156.1 382.9,156.3 383.6,156.5 384.4,156.7 385.1,157.0 385.8,157.4 386.6,157.8 387.3,158.2 388.0,158.7 388.7,159.2 389.4,159.7 390.2,160.3 390.9,160.9 391.6,161.5 392.4,162.1 393.1,162.7 393.8,163.3 394.5,163.9 395.2,164.5 396.0,165.1 396.7,165.7 397.4,166.3 398.1,166.9 398.9,167.5 399.6,168.0 400.3,168.6 401.1,169.1 401.8,169.5 402.5,170.0 403.2,170.5 403.9,170.9 404.7,171.3 405.4,171.7 406.1,172.0 406.9,172.3 407.6,172.7 408.3,172.9 409.0,173.2 409.8,173.5 410.5,173.7 411.2,173.9 411.9,174.1 412.6,174.3 413.4,174.4 414.1,174.6 414.8,174.7 415.5,174.8 416.3,174.9 417.0,175.0 417.7,175.1 418.4,175.2 419.2,175.3 419.9,175.4 420.6,175.4 421.4,175.5 422.1,175.5 422.8,175.6 423.5,175.6 424.2,175.6 425.0,175.7 425.7,175.7 426.4,175.7 427.1,175.7 427.9,175.7 428.6,175.8 429.3,175.8 430.1,175.8 430.8,175.8 431.5,175.8 432.2,175.8 433.0,175.8 433.7,175.8 434.4,175.9 435.1,175.9 435.9,175.9 436.6,175.9 437.3,175.9 438.0,175.9 438.8,175.9 439.5,175.9 440.2,175.9 440.9,175.9 441.6,175.9 442.4,175.9 443.1,175.9 443.8,175.9 444.6,175.9 445.3,175.9 446.0,175.9" fill="none" stroke="#0000ff" stroke-width="1.1" stroke-linejoin="round" opacity="1.0"/>
<polyline points="322.8,175.9 323.5,175.9 324.2,175.9 324.9,175.9 325.6,175.9 326.4,175.9 327.1,175.9 327.8,175.9 328.6,175.9 329.3,175.9 330.0,175.9 330.7,175.9 331.4,175.9 332.2,175.9 332.9,175.9 333.6,175.8 334.4,175.8 335.1,175.8 335.8,175.8 336.5,175.8 337.2,175.8 338.0,175.8 338.7,175.8 339.4,175.7 340.1,175.7 340.9,175.7 341.6,175.7 342.3,175.6 343.1,175.6 343.8,175.6 344.5,175.5 345.2,175.5 345.9,175.4 346.7,175.4 347.4,175.3 348.1,175.2 348.9,175.1 349.6,175.0 350.3,174.9 351.0,174.8 351.8,174.7 352.5,174.5 353.2,174.4 353.9,174.2 354.6,174.0 355.4,173.7 356.1,173.5 356.8,173.2 357.6,172.9 358.3,172.6 359.0,172.3 359.7,171.9 360.4,171.5 361.2,171.1 361.9,170.7 362.6,170.2 363.4,169.8 364.1,169.3 364.8,168.7 365.5,168.2 366.2,167.6 367.0,167.1 367.7,166.5 368.4,165.9 369.1,165.3 369.9,164.7 370.6,164.1 371.3,163.6 372.1,163.0 372.8,162.5 373.5,161.9 374.2,161.5 374.9,161.0 375.7,160.6 376.4,160.2 377.1,159.9 377.9,159.7 378.6,159.4 379.3,159.3 380.0,159.2 380.8,159.2 381.5,159.2 382.2,159.3 382.9,159.4 383.6,159.6 384.4,159.8 385.1,160.0 385.8,160.3 386.6,160.7 387.3,161.0 388.0,161.4 388.7,161.9 389.4,162.3 390.2,162.8 390.9,163.3 391.6,163.8 392.4,164.3 393.1,164.8 393.8,165.3 394.5,165.8 395.2,166.3 396.0,166.9 396.7,167.4 397.4,167.9 398.1,168.4 398.9,168.8 399.6,169.3 400.3,169.7 401.1,170.2 401.8,170.6 402.5,171.0 403.2,171.3 403.9,171.7 404.7,172.0 405.4,172.4 406.1,172.7 406.9,172.9 407.6,173.2 408.3,173.4 409.0,173.7 409.8,173.9 410.5,174.1 411.2,174.2 411.9,174.4 412.6,174.6 413.4,174.7 414.1,174.8 414.8,174.9 415.5,175.0 416.3,175.1 417.0,175.2 417.7,175.3 418.4,175.4 419.2,175.4 419.9,175.5 420.6,175.5 421.4,175.6 422.1,175.6 422.8,175.6 423.5,175.7 424.2,175.7 425.0,175.7 425.7,175.7 426.4,175.8 427.1,175.8 427.9,175.8 428.6,175.8 429.3,175.8 430.1,175.8 430.8,175.9 431.5,175.9 432.2,175.9 433.0,175.9 433.7,175.9 434.4,175.9 435.1,175.9 435.9,175.9 436.6,175.9 437.3,175.9 438.0,175.9 438.8,175.9 439.5,175.9 440.2,175.9 440.9,175.9 441.6,175.9 442.4,176.0 443.1,176.0 443.8,176.0 444.6,176.0 445.3,176.0 446.0,176.0" fill="none" stroke="#0000ff" stroke-width="1.1" stroke-linejoin="round" opacity="1.0"/>
<polyline points="322.8,176.0 323.5,176.0 324.2,176.0 324.9,176.0 325.6,176.0 326.4,175.9 327.1,175.9 327.8,175.9 328.6,175.9 329.3,175.9 330.0,175.9 330.7,175.9 331.4,175.9 332.2,175.9 332.9,175.9 333.6,175.9 334.4,175.9 335.1,175.9 335.8,175.9 336.5,175.9 337.2,175.8 338.0,175.8 338.7,175.8 339.4,175.8 340.1,175.8 340.9,175.8 341.6,175.7 342.3,175.7 343.1,175.7 343.8,175.7 344.5,175.6 345.2,175.6 345.9,175.6 346.7,175.5 347.4,175.4 348.1,175.4 348.9,175.3 349.6,175.2 350.3,175.2 351.0,175.1 351.8,174.9 352.5,174.8 353.2,174.7 353.9,174.5 354.6,174.4 355.4,174.2 356.1,174.0 356.8,173.8 357.6,173.5 358.3,173.3 359.0,173.0 359.7,172.7 360.4,172.4 361.2,172.1 361.9,171.7 362.6,171.3 363.4,170.9 364.1,170.5 364.8,170.1 365.5,169.7 366.2,169.2 367.0,168.7 367.7,168.3 368.4,167.8 369.1,167.3 369.9,166.8 370.6,166.4 371.3,165.9 372.1,165.4 372.8,165.0 373.5,164.6 374.2,164.2 374.9,163.8 375.7,163.5 376.4,163.2 377.1,162.9 377.9,162.7 378.6,162.5 379.3,162.4 380.0,162.4 380.8,162.3 381.5,162.3 382.2,162.4 382.9,162.5 383.6,162.6 384.4,162.8 385.1,163.0 385.8,163.3 386.6,163.5 387.3,163.8 388.0,164.2 388.7,164.5 389.4,164.9 390.2,165.3 390.9,165.7 391.6,166.1 392.4,166.5 393.1,166.9 393.8,167.3 394.5,167.7 395.2,168.2 396.0,168.6 396.7,169.0 397.4,169.4 398.1,169.8 398.9,170.2 399.6,170.6 400.3,170.9 401.1,171.3 401.8,171.6 402.5,171.9 403.2,172.2 403.9,172.5 404.7,172.8 405.4,173.1 406.1,173.3 406.9,173.5 407.6,173.7 408.3,173.9 409.0,174.1 409.8,174.3 410.5,174.5 411.2,174.6 411.9,174.7 412.6,174.8 413.4,175.0 414.1,175.1 414.8,175.2 415.5,175.2 416.3,175.3 417.0,175.4 417.7,175.4 418.4,175.5 419.2,175.5 419.9,175.6 420.6,175.6 421.4,175.7 422.1,175.7 422.8,175.7 423.5,175.8 424.2,175.8 425.0,175.8 425.7,175.8 426.4,175.8 427.1,175.8 427.9,175.9 428.6,175.9 429.3,175.9 430.1,175.9 430.8,175.9 431.5,175.9 432.2,175.9 433.0,175.9 433.7,175.9 434.4,175.9 435.1,175.9 435.9,175.9 436.6,176.0 437.3,176.0 438.0,176.0 438.8,176.0 439.5,176.0 440.2,176.0 440.9,176.0 441.6,176.0 442.4,176.0 443.1,176.0 443.8,176.0 444.6,176.0 445.3,176.0 446.0,176.0" fill="none" stroke="#0000ff" stroke-width="1.1" stroke-linejoin="round" opacity="1.0"/>
<polyline points="322.8,176.0 323.5,176.0 324.2,176.0 324.9,176.0 325.6,176.0 326.4,176.0 327.1,176.0 327.8,176.0 328.6,176.0 329.3,176.0 330.0,176.0 330.7,176.0 331.4,175.9 332.2,175.9 332.9,175.9 333.6,175.9 334.4,175.9 335.1,175.9 335.8,175.9 336.5,175.9 337.2,175.9 338.0,175.9 338.7,175.9 339.4,175.9 340.1,175.8 340.9,175.8 341.6,175.8 342.3,175.8 343.1,175.8 343.8,175.8 344.5,175.7 345.2,175.7 345.9,175.7 346.7,175.6 347.4,175.6 348.1,175.5 348.9,175.5 349.6,175.4 350.3,175.3 351.0,175.3 351.8,175.2 352.5,175.1 353.2,175.0 353.9,174.8 354.6,174.7 355.4,174.5 356.1,174.4 356.8,174.2 357.6,174.0 358.3,173.8 359.0,173.6 359.7,173.4 360.4,173.1 361.2,172.8 361.9,172.5 362.6,172.2 363.4,171.9 364.1,171.6 364.8,171.2 365.5,170.9 366.2,170.5 367.0,170.1 367.7,169.7 368.4,169.4 369.1,169.0 369.9,168.6 370.6,168.2 371.3,167.8 372.1,167.4 372.8,167.1 373.5,166.7 374.2,166.4 374.9,166.1 375.7,165.9 376.4,165.6 377.1,165.4 377.9,165.2 378.6,165.1 379.3,165.0 380.0,164.9 380.8,164.9 381.5,164.9 382.2,165.0 382.9,165.1 383.6,165.2 384.4,165.3 385.1,165.5 385.8,165.7 386.6,165.9 387.3,166.1 388.0,166.4 388.7,166.7 389.4,167.0 390.2,167.3 390.9,167.6 391.6,167.9 392.4,168.3 393.1,168.6 393.8,169.0 394.5,169.3 395.2,169.7 396.0,170.0 396.7,170.3 397.4,170.7 398.1,171.0 398.9,171.3 399.6,171.6 400.3,171.9 401.1,172.2 401.8,172.5 402.5,172.7 403.2,173.0 403.9,173.2 404.7,173.4 405.4,173.6 406.1,173.8 406.9,174.0 407.6,174.2 408.3,174.3 409.0,174.5 409.8,174.6 410.5,174.8 411.2,174.9 411.9,175.0 412.6,175.1 413.4,175.2 414.1,175.3 414.8,175.3 415.5,175.4 416.3,175.5 417.0,175.5 417.7,175.6 418.4,175.6 419.2,175.7 419.9,175.7 420.6,175.7 421.4,175.8 422.1,175.8 422.8,175.8 423.5,175.8 424.2,175.8 425.0,175.9 425.7,175.9 426.4,175.9 427.1,175.9 427.9,175.9 428.6,175.9 429.3,175.9 430.1,175.9 430.8,175.9 431.5,175.9 432.2,176.0 433.0,176.0 433.7,176.0 434.4,176.0 435.1,176.0 435.9,176.0 436.6,176.0 437.3,176.0 438.0,176.0 438.8,176.0 439.5,176.0 440.2,176.0 440.9,176.0 441.6,176.0 442.4,176.0 443.1,176.0 443.8,176.0 444.6,176.0 445.3,176.0 446.0,176.0" fill="none" stroke="#0000ff" stroke-width="1.1" stroke-linejoin="round" opacity="1.0"/>
<polyline points="322.8,176.0 323.5,176.0 324.2,176.0 324.9,176.0 325.6,176.0 326.4,176.0 327.1,176.0 327.8,176.0 328.6,176.0 329.3,176.0 330.0,176.0 330.7,176.0 331.4,176.0 332.2,176.0 332.9,176.0 333.6,176.0 334.4,176.0 335.1,176.0 335.8,176.0 336.5,175.9 337.2,175.9 338.0,175.9 338.7,175.9 339.4,175.9 340.1,175.9 340.9,175.9 341.6,175.9 342.3,175.9 343.1,175.8 343.8,175.8 344.5,175.8 345.2,175.8 345.9,175.8 346.7,175.7 347.4,175.7 348.1,175.6 348.9,175.6 349.6,175.5 350.3,175.5 351.0,175.4 351.8,175.4 352.5,175.3 353.2,175.2 353.9,175.1 354.6,175.0 355.4,174.9 356.1,174.7 356.8,174.6 357.6,174.4 358.3,174.3 359.0,174.1 359.7,173.9 360.4,173.7 361.2,173.5 361.9,173.3 362.6,173.0 363.4,172.8 364.1,172.5 364.8,172.2 365.5,171.9 366.2,171.7 367.0,171.4 367.7,171.0 368.4,170.7 369.1,170.4 369.9,170.1 370.6,169.8 371.3,169.5 372.1,169.2 372.8,168.9 373.5,168.7 374.2,168.4 374.9,168.2 375.7,168.0 376.4,167.8 377.1,167.6 377.9,167.5 378.6,167.4 379.3,167.3 380.0,167.2 380.8,167.2 381.5,167.2 382.2,167.3 382.9,167.3 383.6,167.4 384.4,167.5 385.1,167.7 385.8,167.8 386.6,168.0 387.3,168.2 388.0,168.4 388.7,168.6 389.4,168.9 390.2,169.1 390.9,169.4 391.6,169.6 392.4,169.9 393.1,170.2 393.8,170.4 394.5,170.7 395.2,171.0 396.0,171.3 396.7,171.5 397.4,171.8 398.1,172.0 398.9,172.3 399.6,172.5 400.3,172.8 401.1,173.0 401.8,173.2 402.5,173.4 403.2,173.6 403.9,173.8 404.7,174.0 405.4,174.1 406.1,174.3 406.9,174.4 407.6,174.6 408.3,174.7 409.0,174.8 409.8,174.9 410.5,175.0 411.2,175.1 411.9,175.2 412.6,175.3 413.4,175.4 414.1,175.4 414.8,175.5 415.5,175.5 416.3,175.6 417.0,175.6 417.7,175.7 418.4,175.7 419.2,175.7 419.9,175.8 420.6,175.8 421.4,175.8 422.1,175.8 422.8,175.9 423.5,175.9 424.2,175.9 425.0,175.9 425.7,175.9 426.4,175.9 427.1,175.9 427.9,175.9 428.6,176.0 429.3,176.0 430.1,176.0 430.8,176.0 431.5,176.0 432.2,176.0 433.0,176.0 433.7,176.0 434.4,176.0 435.1,176.0 435.9,176.0 436.6,176.0 437.3,176.0 438.0,176.0 438.8,176.0 439.5,176.0 440.2,176.0 440.9,176.0 441.6,176.0 442.4,176.0 443.1,176.0 443.8,176.0 444.6,176.0 445.3,176.0 446.0,176.0" fill="none" stroke="#0000ff" stroke-width="1.1" stroke-linejoin="round" opacity="1.0"/>
<polyline points="322.8,176.0 323.5,176.0 324.2,176.0 324.9,176.0 325.6,176.0 326.4,176.0 327.1,176.0 327.8,176.0 328.6,176.0 329.3,176.0 330.0,176.0 330.7,176.0 331.4,176.0 332.2,176.0 332.9,176.0 333.6,176.0 334.4,176.0 335.1,176.0 335.8,176.0 336.5,176.0 337.2,176.0 338.0,176.0 338.7,176.0 339.4,176.0 340.1,175.9 340.9,175.9 341.6,175.9 342.3,175.9 343.1,175.9 343.8,175.9 344.5,175.9 345.2,175.9 345.9,175.8 346.7,175.8 347.4,175.8 348.1,175.7 348.9,175.7 349.6,175.7 350.3,175.6 351.0,175.6 351.8,175.5 352.5,175.5 353.2,175.4 353.9,175.3 354.6,175.2 355.4,175.1 356.1,175.0 356.8,174.9 357.6,174.8 358.3,174.7 359.0,174.6 359.7,174.4 360.4,174.3 361.2,174.1 361.9,173.9 362.6,173.7 363.4,173.5 364.1,173.3 364.8,173.1 365.5,172.9 366.2,172.7 367.0,172.4 367.7,172.2 368.4,172.0 369.1,171.7 369.9,171.5 370.6,171.2 371.3,171.0 372.1,170.8 372.8,170.6 373.5,170.3 374.2,170.2 374.9,170.0 375.7,169.8 376.4,169.7 377.1,169.5 377.9,169.4 378.6,169.3 379.3,169.3 380.0,169.2 380.8,169.2 381.5,169.2 382.2,169.3 382.9,169.3 383.6,169.4 384.4,169.5 385.1,169.6 385.8,169.7 386.6,169.8 387.3,170.0 388.0,170.1 388.7,170.3 389.4,170.5 390.2,170.7 390.9,170.9 391.6,171.1 392.4,171.3 393.1,171.5 393.8,171.7 394.5,171.9 395.2,172.1 396.0,172.3 396.7,172.6 397.4,172.8 398.1,173.0 398.9,173.1 399.6,173.3 400.3,173.5 401.1,173.7 401.8,173.9 402.5,174.0 403.2,174.2 403.9,174.3 404.7,174.5 405.4,174.6 406.1,174.7 406.9,174.8 407.6,174.9 408.3,175.0 409.0,175.1 409.8,175.2 410.5,175.3 411.2,175.4 411.9,175.4 412.6,175.5 413.4,175.5 414.1,175.6 414.8,175.6 415.5,175.7 416.3,175.7 417.0,175.7 417.7,175.8 418.4,175.8 419.2,175.8 419.9,175.9 420.6,175.9 421.4,175.9 422.1,175.9 422.8,175.9 423.5,175.9 424.2,175.9 425.0,176.0 425.7,176.0 426.4,176.0 427.1,176.0 427.9,176.0 428.6,176.0 429.3,176.0 430.1,176.0 430.8,176.0 431.5,176.0 432.2,176.0 433.0,176.0 433.7,176.0 434.4,176.0 435.1,176.0 435.9,176.0 436.6,176.0 437.3,176.0 438.0,176.0 438.8,176.0 439.5,176.0 440.2,176.0 440.9,176.0 441.6,176.0 442.4,176.0 443.1,176.0 443.8,176.0 444.6,176.0 445.3,176.1 446.0,176.1" fill="none" stroke="#0000ff" stroke-width="1.1" stroke-linejoin="round" opacity="1.0"/>
<polyline points="322.8,176.1 323.5,176.1 324.2,176.1 324.9,176.1 325.6,176.1 326.4,176.1 327.1,176.1 327.8,176.0 328.6,176.0 329.3,176.0 330.0,176.0 330.7,176.0 331.4,176.0 332.2,176.0 332.9,176.0 333.6,176.0 334.4,176.0 335.1,176.0 335.8,176.0 336.5,176.0 337.2,176.0 338.0,176.0 338.7,176.0 339.4,176.0 340.1,176.0 340.9,176.0 341.6,176.0 342.3,176.0 343.1,176.0 343.8,176.0 344.5,175.9 345.2,175.9 345.9,175.9 346.7,175.9 347.4,175.9 348.1,175.9 348.9,175.8 349.6,175.8 350.3,175.8 351.0,175.7 351.8,175.7 352.5,175.7 353.2,175.6 353.9,175.6 354.6,175.5 355.4,175.4 356.1,175.4 356.8,175.3 357.6,175.2 358.3,175.1 359.0,175.0 359.7,174.9 360.4,174.8 361.2,174.7 361.9,174.6 362.6,174.4 363.4,174.3 364.1,174.1 364.8,174.0 365.5,173.8 366.2,173.7 367.0,173.5 367.7,173.3 368.4,173.2 369.1,173.0 369.9,172.8 370.6,172.7 371.3,172.5 372.1,172.3 372.8,172.2 373.5,172.0 374.2,171.9 374.9,171.8 375.7,171.6 376.4,171.5 377.1,171.4 377.9,171.4 378.6,171.3 379.3,171.3 380.0,171.2 380.8,171.2 381.5,171.2 382.2,171.3 382.9,171.3 383.6,171.3 384.4,171.4 385.1,171.5 385.8,171.6 386.6,171.7 387.3,171.8 388.0,171.9 388.7,172.0 389.4,172.1 390.2,172.3 390.9,172.4 391.6,172.6 392.4,172.7 393.1,172.8 393.8,173.0 394.5,173.1 395.2,173.3 396.0,173.4 396.7,173.6 397.4,173.7 398.1,173.9 398.9,174.0 399.6,174.1 400.3,174.3 401.1,174.4 401.8,174.5 402.5,174.6 403.2,174.7 403.9,174.8 404.7,174.9 405.4,175.0 406.1,175.1 406.9,175.2 407.6,175.3 408.3,175.3 409.0,175.4 409.8,175.5 410.5,175.5 411.2,175.6 411.9,175.6 412.6,175.7 413.4,175.7 414.1,175.7 414.8,175.8 415.5,175.8 416.3,175.8 417.0,175.9 417.7,175.9 418.4,175.9 419.2,175.9 419.9,175.9 420.6,175.9 421.4,176.0 422.1,176.0 422.8,176.0 423.5,176.0 424.2,176.0 425.0,176.0 425.7,176.0 426.4,176.0 427.1,176.0 427.9,176.0 428.6,176.0 429.3,176.0 430.1,176.0 430.8,176.0 431.5,176.0 432.2,176.0 433.0,176.0 433.7,176.0 434.4,176.0 435.1,176.1 435.9,176.1 436.6,176.1 437.3,176.1 438.0,176.1 438.8,176.1 439.5,176.1 440.2,176.1 440.9,176.1 441.6,176.1 442.4,176.1 443.1,176.1 443.8,176.1 444.6,176.1 445.3,176.1 446.0,176.1" fill="none" stroke="#0000ff" stroke-width="1.1" stroke-linejoin="round" opacity="1.0"/>
<polyline points="322.8,176.1 323.5,176.1 324.2,176.1 324.9,176.1 325.6,176.1 326.4,176.1 327.1,176.1 327.8,176.1 328.6,176.1 329.3,176.1 330.0,176.1 330.7,176.1 331.4,176.1 332.2,176.1 332.9,176.1 333.6,176.1 334.4,176.1 335.1,176.1 335.8,176.1 336.5,176.1 337.2,176.1 338.0,176.1 338.7,176.1 339.4,176.0 340.1,176.0 340.9,176.0 341.6,176.0 342.3,176.0 343.1,176.0 343.8,176.0 344.5,176.0 345.2,176.0 345.9,176.0 346.7,176.0 347.4,176.0 348.1,176.0 348.9,175.9 349.6,175.9 350.3,175.9 351.0,175.9 351.8,175.9 352.5,175.8 353.2,175.8 353.9,175.8 354.6,175.7 355.4,175.7 356.1,175.7 356.8,175.6 357.6,175.6 358.3,175.5 359.0,175.5 359.7,175.4 360.4,175.3 361.2,175.3 361.9,175.2 362.6,175.1 363.4,175.0 364.1,174.9 364.8,174.9 365.5,174.8 366.2,174.7 367.0,174.6 367.7,174.5 368.4,174.4 369.1,174.3 369.9,174.2 370.6,174.1 371.3,174.0 372.1,173.9 372.8,173.8 373.5,173.7 374.2,173.6 374.9,173.6 375.7,173.5 376.4,173.4 377.1,173.4 377.9,173.3 378.6,173.3 379.3,173.3 380.0,173.2 380.8,173.2 381.5,173.2 382.2,173.3 382.9,173.3 383.6,173.3 384.4,173.3 385.1,173.4 385.8,173.4 386.6,173.5 387.3,173.6 388.0,173.6 388.7,173.7 389.4,173.8 390.2,173.9 390.9,173.9 391.6,174.0 392.4,174.1 393.1,174.2 393.8,174.3 394.5,174.4 395.2,174.5 396.0,174.5 396.7,174.6 397.4,174.7 398.1,174.8 398.9,174.9 399.6,175.0 400.3,175.0 401.1,175.1 401.8,175.2 402.5,175.2 403.2,175.3 403.9,175.4 404.7,175.4 405.4,175.5 406.1,175.5 406.9,175.6 407.6,175.6 408.3,175.7 409.0,175.7 409.8,175.7 410.5,175.8 411.2,175.8 411.9,175.8 412.6,175.8 413.4,175.9 414.1,175.9 414.8,175.9 415.5,175.9 416.3,175.9 417.0,176.0 417.7,176.0 418.4,176.0 419.2,176.0 419.9,176.0 420.6,176.0 421.4,176.0 422.1,176.0 422.8,176.0 423.5,176.0 424.2,176.0 425.0,176.0 425.7,176.0 426.4,176.1 427.1,176.1 427.9,176.1 428.6,176.1 429.3,176.1 430.1,176.1 430.8,176.1 431.5,176.1 432.2,176.1 433.0,176.1 433.7,176.1 434.4,176.1 435.1,176.1 435.9,176.1 436.6,176.1 437.3,176.1 438.0,176.1 438.8,176.1 439.5,176.1 440.2,176.1 440.9,176.1 441.6,176.1 442.4,176.1 443.1,176.1 443.8,176.1 444.6,176.1 445.3,176.1 446.0,176.1" fill="none" stroke="#0000ff" stroke-width="1.1" stroke-linejoin="round" opacity="1.0"/>
<text x="324.40" y="165.74" font-size="9.60" fill="#1a1aff" font-weight="normal" font-style="normal" text-anchor="start" textLength="34.50" lengthAdjust="spacingAndGlyphs" stroke="#1a1aff" stroke-width="0.32">SP/BDDE</text>
<rect x="409.20" y="11.20" width="104.50" height="90.00" fill="none" stroke="#5a5a5a" stroke-width="1.1"/>
<text x="402.20" y="103.60" font-size="6.70" fill="#2c2c2c" font-weight="normal" font-style="normal" text-anchor="end" textLength="3.77" lengthAdjust="spacingAndGlyphs" stroke="#2c2c2c" stroke-width="0.2">0</text>
<line x1="409.20" y1="83.20" x2="411.70" y2="83.20" stroke="#5a5a5a" stroke-width="0.9"/>
<text x="402.20" y="85.60" font-size="6.70" fill="#2c2c2c" font-weight="normal" font-style="normal" text-anchor="end" textLength="9.42" lengthAdjust="spacingAndGlyphs" stroke="#2c2c2c" stroke-width="0.2">0.1</text>
<line x1="409.20" y1="65.20" x2="411.70" y2="65.20" stroke="#5a5a5a" stroke-width="0.9"/>
<text x="402.20" y="67.60" font-size="6.70" fill="#2c2c2c" font-weight="normal" font-style="normal" text-anchor="end" textLength="9.42" lengthAdjust="spacingAndGlyphs" stroke="#2c2c2c" stroke-width="0.2">0.2</text>
<line x1="409.20" y1="47.20" x2="411.70" y2="47.20" stroke="#5a5a5a" stroke-width="0.9"/>
<text x="402.20" y="49.60" font-size="6.70" fill="#2c2c2c" font-weight="normal" font-style="normal" text-anchor="end" textLength="9.42" lengthAdjust="spacingAndGlyphs" stroke="#2c2c2c" stroke-width="0.2">0.3</text>
<line x1="409.20" y1="29.20" x2="411.70" y2="29.20" stroke="#5a5a5a" stroke-width="0.9"/>
<text x="402.20" y="31.60" font-size="6.70" fill="#2c2c2c" font-weight="normal" font-style="normal" text-anchor="end" textLength="9.42" lengthAdjust="spacingAndGlyphs" stroke="#2c2c2c" stroke-width="0.2">0.4</text>
<text x="402.20" y="13.60" font-size="6.70" fill="#2c2c2c" font-weight="normal" font-style="normal" text-anchor="end" textLength="9.42" lengthAdjust="spacingAndGlyphs" stroke="#2c2c2c" stroke-width="0.2">0.5</text>
<text x="409.20" y="113.50" font-size="6.70" fill="#2c2c2c" font-weight="normal" font-style="normal" text-anchor="middle" textLength="3.75" lengthAdjust="spacingAndGlyphs" stroke="#2c2c2c" stroke-width="0.2">0</text>
<line x1="444.03" y1="101.20" x2="444.03" y2="98.70" stroke="#5a5a5a" stroke-width="0.9"/>
<text x="444.03" y="113.50" font-size="6.70" fill="#2c2c2c" font-weight="normal" font-style="normal" text-anchor="middle" textLength="3.75" lengthAdjust="spacingAndGlyphs" stroke="#2c2c2c" stroke-width="0.2">5</text>
<line x1="478.87" y1="101.20" x2="478.87" y2="98.70" stroke="#5a5a5a" stroke-width="0.9"/>
<text x="478.87" y="113.50" font-size="6.70" fill="#2c2c2c" font-weight="normal" font-style="normal" text-anchor="middle" textLength="7.50" lengthAdjust="spacingAndGlyphs" stroke="#2c2c2c" stroke-width="0.2">10</text>
<text x="513.70" y="113.50" font-size="6.70" fill="#2c2c2c" font-weight="normal" font-style="normal" text-anchor="middle" textLength="7.50" lengthAdjust="spacingAndGlyphs" stroke="#2c2c2c" stroke-width="0.2">15</text>
<line x1="416.17" y1="96.70" x2="513.70" y2="27.76" stroke="#8080ff" stroke-width="0.8"/>
<circle cx="416.17" cy="96.88" r="1.6" fill="#0000ff"/>
<circle cx="430.10" cy="87.16" r="1.6" fill="#0000ff"/>
<circle cx="444.03" cy="76.72" r="1.6" fill="#0000ff"/>
<circle cx="457.97" cy="66.64" r="1.6" fill="#0000ff"/>
<circle cx="471.90" cy="57.46" r="1.6" fill="#0000ff"/>
<circle cx="485.83" cy="47.38" r="1.6" fill="#0000ff"/>
<circle cx="499.77" cy="37.30" r="1.6" fill="#0000ff"/>
<circle cx="513.70" cy="28.30" r="1.6" fill="#0000ff"/>
<g transform="translate(386.80,21.60) rotate(-90)"><text x="0" y="2.4" font-size="6.8" font-weight="bold" text-anchor="middle" textLength="19.2" lengthAdjust="spacingAndGlyphs" fill="#222" stroke="#222" stroke-width="0.1"><tspan font-style="italic">I</tspan><tspan font-size="4.6" dy="1.5" font-style="italic">p</tspan><tspan dy="-1.5"> [μA]</tspan></text></g>
<text x="476.00" y="123.10" font-size="6.8" font-weight="bold" textLength="35.00" lengthAdjust="spacingAndGlyphs" fill="#222"><tspan font-style="italic">c</tspan> [μmol L<tspan font-size="4.6" dy="-2.2">−1</tspan><tspan dy="2.2">]</tspan></text>
<rect x="566.00" y="7.70" width="216.30" height="171.80" fill="none" stroke="#606060" stroke-width="1.2"/>
<text x="557.00" y="182.94" font-size="9.60" fill="#2c2c2c" font-weight="normal" font-style="normal" text-anchor="end" textLength="4.97" lengthAdjust="spacingAndGlyphs" stroke="#2c2c2c" stroke-width="0.32">0</text>
<line x1="566.00" y1="122.23" x2="569.00" y2="122.23" stroke="#606060" stroke-width="1"/>
<text x="557.00" y="125.67" font-size="9.60" fill="#2c2c2c" font-weight="normal" font-style="normal" text-anchor="end" textLength="4.97" lengthAdjust="spacingAndGlyphs" stroke="#2c2c2c" stroke-width="0.32">1</text>
<line x1="566.00" y1="64.97" x2="569.00" y2="64.97" stroke="#606060" stroke-width="1"/>
<text x="557.00" y="68.40" font-size="9.60" fill="#2c2c2c" font-weight="normal" font-style="normal" text-anchor="end" textLength="4.97" lengthAdjust="spacingAndGlyphs" stroke="#2c2c2c" stroke-width="0.32">2</text>
<text x="557.00" y="11.14" font-size="9.60" fill="#2c2c2c" font-weight="normal" font-style="normal" text-anchor="end" textLength="4.97" lengthAdjust="spacingAndGlyphs" stroke="#2c2c2c" stroke-width="0.32">3</text>
<text x="566.00" y="195.84" font-size="9.60" fill="#2c2c2c" font-weight="normal" font-style="normal" text-anchor="middle" textLength="17.90" lengthAdjust="spacingAndGlyphs" stroke="#2c2c2c" stroke-width="0.32">-300</text>
<line x1="609.26" y1="179.50" x2="609.26" y2="176.50" stroke="#606060" stroke-width="1"/>
<text x="609.26" y="195.84" font-size="9.60" fill="#2c2c2c" font-weight="normal" font-style="normal" text-anchor="middle" textLength="4.97" lengthAdjust="spacingAndGlyphs" stroke="#2c2c2c" stroke-width="0.32">0</text>
<line x1="652.52" y1="179.50" x2="652.52" y2="176.50" stroke="#606060" stroke-width="1"/>
<text x="652.52" y="195.84" font-size="9.60" fill="#2c2c2c" font-weight="normal" font-style="normal" text-anchor="middle" textLength="14.91" lengthAdjust="spacingAndGlyphs" stroke="#2c2c2c" stroke-width="0.32">300</text>
<line x1="695.78" y1="179.50" x2="695.78" y2="176.50" stroke="#606060" stroke-width="1"/>
<text x="695.78" y="195.84" font-size="9.60" fill="#2c2c2c" font-weight="normal" font-style="normal" text-anchor="middle" textLength="14.91" lengthAdjust="spacingAndGlyphs" stroke="#2c2c2c" stroke-width="0.32">600</text>
<line x1="739.04" y1="179.50" x2="739.04" y2="176.50" stroke="#606060" stroke-width="1"/>
<text x="739.04" y="195.84" font-size="9.60" fill="#2c2c2c" font-weight="normal" font-style="normal" text-anchor="middle" textLength="14.91" lengthAdjust="spacingAndGlyphs" stroke="#2c2c2c" stroke-width="0.32">900</text>
<text x="782.30" y="195.84" font-size="9.60" fill="#2c2c2c" font-weight="normal" font-style="normal" text-anchor="middle" textLength="19.87" lengthAdjust="spacingAndGlyphs" stroke="#2c2c2c" stroke-width="0.32">1200</text>
<g transform="translate(538.60,22.00) rotate(-90)"><text x="0" y="3.3" font-size="9.2" font-weight="bold" text-anchor="middle" textLength="22" lengthAdjust="spacingAndGlyphs" fill="#111" stroke="#111" stroke-width="0.3"><tspan font-style="italic">I</tspan> [μA]</text></g>
<text x="748.30" y="205.20" font-size="9.2" font-weight="bold" textLength="26.10" lengthAdjust="spacingAndGlyphs" fill="#111" stroke="#111" stroke-width="0.3"><tspan font-style="italic">E</tspan> [mV]</text>
<polyline points="585.5,179.2 585.9,179.2 586.3,179.1 586.8,179.1 587.2,179.1 587.6,179.0 588.1,179.0 588.5,179.0 588.9,178.9 589.4,178.9 589.8,178.8 590.2,178.8 590.7,178.7 591.1,178.6 591.5,178.6 592.0,178.5 592.4,178.4 592.8,178.4 593.3,178.3 593.7,178.2 594.1,178.1 594.6,178.1 595.0,178.0 595.4,177.9 595.8,177.8 596.3,177.7 596.7,177.6 597.1,177.5 597.6,177.4 598.0,177.3 598.4,177.2 598.9,177.1 599.3,177.0 599.7,176.8 600.2,176.7 600.6,176.5 601.0,176.4 601.5,176.2 601.9,176.0 602.3,175.8 602.8,175.6 603.2,175.3 603.6,175.1 604.1,174.8 604.5,174.4 604.9,174.1 605.4,173.7 605.8,173.3 606.2,172.9 606.7,172.5 607.1,172.0 607.5,171.5 608.0,171.0 608.4,170.4 608.8,169.8 609.3,169.2 609.7,168.6 610.1,168.0 610.6,167.4 611.0,166.7 611.4,166.1 611.9,165.5 612.3,164.8 612.7,164.2 613.2,163.6 613.6,163.0 614.0,162.5 614.5,162.0 614.9,161.5 615.3,161.1 615.7,160.7 616.2,160.4 616.6,160.1 617.0,159.9 617.5,159.7 617.9,159.7 618.3,159.7 618.8,159.7 619.2,159.9 619.6,160.1 620.1,160.3 620.5,160.7 620.9,161.1 621.4,161.5 621.8,162.1 622.2,162.6 622.7,163.2 623.1,163.8 623.5,164.5 624.0,165.2 624.4,165.9 624.8,166.6 625.3,167.3 625.7,168.0 626.1,168.7 626.6,169.4 627.0,170.0 627.4,170.7 627.9,171.3 628.3,171.9 628.7,172.5 629.2,173.0 629.6,173.5 630.0,174.0 630.5,174.4 630.9,174.8 631.3,175.2 631.8,175.5 632.2,175.8 632.6,176.1 633.1,176.3 633.5,176.5 633.9,176.7 634.4,176.9 634.8,177.1 635.2,177.2 635.6,177.3 636.1,177.4 636.5,177.5 636.9,177.6 637.4,177.7 637.8,177.7 638.2,177.8 638.7,177.8 639.1,177.8 639.5,177.9 640.0,177.9 640.4,177.9 640.8,177.9 641.3,177.9 641.7,177.9 642.1,177.9 642.6,177.9 643.0,177.9 643.4,177.9 643.9,178.0 644.3,178.0 644.7,178.0 645.2,178.0 645.6,178.0 646.0,178.0 646.5,178.0 646.9,178.0 647.3,178.0 647.8,178.0 648.2,178.0 648.6,178.0 649.1,178.0 649.5,177.9 649.9,177.9 650.4,177.9 650.8,177.9 651.2,177.9 651.7,177.9 652.1,177.9 652.5,177.9" fill="none" stroke="#92d050" stroke-width="1.2" stroke-linejoin="round" opacity="1.0"/>
<polyline points="585.5,179.2 585.9,179.2 586.3,179.1 586.8,179.1 587.2,179.1 587.6,179.0 588.1,179.0 588.5,179.0 588.9,178.9 589.4,178.9 589.8,178.8 590.2,178.8 590.7,178.7 591.1,178.6 591.5,178.6 592.0,178.5 592.4,178.4 592.8,178.3 593.3,178.3 593.7,178.2 594.1,178.1 594.6,178.0 595.0,177.9 595.4,177.8 595.8,177.7 596.3,177.6 596.7,177.4 597.1,177.3 597.6,177.1 598.0,177.0 598.4,176.8 598.9,176.6 599.3,176.4 599.7,176.1 600.2,175.9 600.6,175.6 601.0,175.2 601.5,174.9 601.9,174.4 602.3,174.0 602.8,173.5 603.2,172.9 603.6,172.3 604.1,171.6 604.5,170.9 604.9,170.1 605.4,169.2 605.8,168.2 606.2,167.2 606.7,166.1 607.1,165.0 607.5,163.7 608.0,162.4 608.4,161.0 608.8,159.6 609.3,158.1 609.7,156.6 610.1,155.0 610.6,153.4 611.0,151.8 611.4,150.1 611.9,148.5 612.3,146.9 612.7,145.3 613.2,143.7 613.6,142.2 614.0,140.8 614.5,139.5 614.9,138.2 615.3,137.1 615.7,136.1 616.2,135.3 616.6,134.5 617.0,134.0 617.5,133.6 617.9,133.4 618.3,133.3 618.8,133.4 619.2,133.7 619.6,134.2 620.1,134.8 620.5,135.6 620.9,136.5 621.4,137.6 621.8,138.7 622.2,140.1 622.7,141.5 623.1,143.0 623.5,144.5 624.0,146.1 624.4,147.8 624.8,149.5 625.3,151.2 625.7,152.9 626.1,154.5 626.6,156.2 627.0,157.8 627.4,159.4 627.9,160.9 628.3,162.3 628.7,163.7 629.2,165.0 629.6,166.2 630.0,167.3 630.5,168.4 630.9,169.4 631.3,170.3 631.8,171.1 632.2,171.9 632.6,172.5 633.1,173.2 633.5,173.7 633.9,174.2 634.4,174.7 634.8,175.1 635.2,175.4 635.6,175.7 636.1,176.0 636.5,176.2 636.9,176.4 637.4,176.6 637.8,176.7 638.2,176.8 638.7,176.9 639.1,177.0 639.5,177.1 640.0,177.2 640.4,177.2 640.8,177.2 641.3,177.3 641.7,177.3 642.1,177.3 642.6,177.3 643.0,177.4 643.4,177.4 643.9,177.4 644.3,177.4 644.7,177.4 645.2,177.4 645.6,177.4 646.0,177.4 646.5,177.4 646.9,177.4 647.3,177.4 647.8,177.4 648.2,177.4 648.6,177.4 649.1,177.4 649.5,177.4 649.9,177.4 650.4,177.4 650.8,177.4 651.2,177.4 651.7,177.4 652.1,177.4 652.5,177.4" fill="none" stroke="#92d050" stroke-width="1.2" stroke-linejoin="round" opacity="1.0"/>
<polyline points="585.5,179.2 585.9,179.2 586.3,179.1 586.8,179.1 587.2,179.1 587.6,179.0 588.1,179.0 588.5,179.0 588.9,178.9 589.4,178.9 589.8,178.8 590.2,178.7 590.7,178.7 591.1,178.6 591.5,178.6 592.0,178.5 592.4,178.4 592.8,178.3 593.3,178.2 593.7,178.1 594.1,178.0 594.6,177.9 595.0,177.8 595.4,177.7 595.8,177.6 596.3,177.4 596.7,177.3 597.1,177.1 597.6,176.9 598.0,176.7 598.4,176.4 598.9,176.1 599.3,175.8 599.7,175.5 600.2,175.1 600.6,174.7 601.0,174.2 601.5,173.7 601.9,173.1 602.3,172.4 602.8,171.7 603.2,170.8 603.6,169.9 604.1,168.9 604.5,167.8 604.9,166.6 605.4,165.2 605.8,163.8 606.2,162.3 606.7,160.6 607.1,158.8 607.5,157.0 608.0,155.0 608.4,152.9 608.8,150.7 609.3,148.4 609.7,146.1 610.1,143.7 610.6,141.2 611.0,138.7 611.4,136.2 611.9,133.7 612.3,131.2 612.7,128.8 613.2,126.4 613.6,124.1 614.0,122.0 614.5,119.9 614.9,118.0 615.3,116.3 615.7,114.8 616.2,113.4 616.6,112.3 617.0,111.5 617.5,110.8 617.9,110.5 618.3,110.4 618.8,110.5 619.2,110.9 619.6,111.6 620.1,112.5 620.5,113.7 620.9,115.1 621.4,116.7 621.8,118.5 622.2,120.4 622.7,122.6 623.1,124.8 623.5,127.2 624.0,129.6 624.4,132.1 624.8,134.6 625.3,137.2 625.7,139.7 626.1,142.2 626.6,144.7 627.0,147.1 627.4,149.5 627.9,151.8 628.3,153.9 628.7,156.0 629.2,158.0 629.6,159.8 630.0,161.5 630.5,163.2 630.9,164.6 631.3,166.0 631.8,167.3 632.2,168.4 632.6,169.5 633.1,170.4 633.5,171.3 633.9,172.0 634.4,172.7 634.8,173.3 635.2,173.8 635.6,174.3 636.1,174.7 636.5,175.0 636.9,175.3 637.4,175.6 637.8,175.8 638.2,176.0 638.7,176.2 639.1,176.3 639.5,176.4 640.0,176.5 640.4,176.6 640.8,176.7 641.3,176.7 641.7,176.8 642.1,176.8 642.6,176.8 643.0,176.8 643.4,176.9 643.9,176.9 644.3,176.9 644.7,176.9 645.2,176.9 645.6,176.9 646.0,176.9 646.5,176.9 646.9,176.9 647.3,176.9 647.8,176.9 648.2,176.9 648.6,176.9 649.1,176.9 649.5,176.9 649.9,176.9 650.4,176.9 650.8,176.9 651.2,176.9 651.7,176.9 652.1,176.9 652.5,176.9" fill="none" stroke="#92d050" stroke-width="1.2" stroke-linejoin="round" opacity="1.0"/>
<polyline points="585.5,179.2 585.9,179.2 586.3,179.1 586.8,179.1 587.2,179.1 587.6,179.0 588.1,179.0 588.5,179.0 588.9,178.9 589.4,178.9 589.8,178.8 590.2,178.7 590.7,178.7 591.1,178.6 591.5,178.5 592.0,178.5 592.4,178.4 592.8,178.3 593.3,178.2 593.7,178.1 594.1,178.0 594.6,177.9 595.0,177.7 595.4,177.6 595.8,177.5 596.3,177.3 596.7,177.1 597.1,176.9 597.6,176.6 598.0,176.4 598.4,176.1 598.9,175.7 599.3,175.4 599.7,174.9 600.2,174.5 600.6,173.9 601.0,173.3 601.5,172.6 601.9,171.8 602.3,171.0 602.8,170.0 603.2,168.9 603.6,167.7 604.1,166.4 604.5,165.0 604.9,163.4 605.4,161.6 605.8,159.8 606.2,157.7 606.7,155.6 607.1,153.3 607.5,150.8 608.0,148.2 608.4,145.4 608.8,142.6 609.3,139.6 609.7,136.5 610.1,133.3 610.6,130.1 611.0,126.8 611.4,123.5 611.9,120.3 612.3,117.0 612.7,113.8 613.2,110.7 613.6,107.6 614.0,104.8 614.5,102.1 614.9,99.6 615.3,97.3 615.7,95.3 616.2,93.5 616.6,92.1 617.0,90.9 617.5,90.1 617.9,89.6 618.3,89.4 618.8,89.6 619.2,90.2 619.6,91.1 620.1,92.3 620.5,93.8 620.9,95.6 621.4,97.7 621.8,100.0 622.2,102.5 622.7,105.3 623.1,108.2 623.5,111.3 624.0,114.5 624.4,117.7 624.8,121.1 625.3,124.4 625.7,127.7 626.1,131.0 626.6,134.3 627.0,137.4 627.4,140.5 627.9,143.5 628.3,146.3 628.7,149.0 629.2,151.6 629.6,154.0 630.0,156.3 630.5,158.4 630.9,160.3 631.3,162.1 631.8,163.8 632.2,165.3 632.6,166.7 633.1,167.9 633.5,169.0 633.9,170.0 634.4,170.9 634.8,171.7 635.2,172.4 635.6,173.0 636.1,173.5 636.5,174.0 636.9,174.4 637.4,174.7 637.8,175.0 638.2,175.3 638.7,175.5 639.1,175.7 639.5,175.8 640.0,175.9 640.4,176.0 640.8,176.1 641.3,176.2 641.7,176.3 642.1,176.3 642.6,176.3 643.0,176.4 643.4,176.4 643.9,176.4 644.3,176.4 644.7,176.4 645.2,176.5 645.6,176.5 646.0,176.5 646.5,176.5 646.9,176.5 647.3,176.5 647.8,176.5 648.2,176.5 648.6,176.5 649.1,176.5 649.5,176.5 649.9,176.5 650.4,176.5 650.8,176.5 651.2,176.5 651.7,176.5 652.1,176.5 652.5,176.5" fill="none" stroke="#92d050" stroke-width="1.2" stroke-linejoin="round" opacity="1.0"/>
<polyline points="585.5,179.2 585.9,179.2 586.3,179.1 586.8,179.1 587.2,179.1 587.6,179.0 588.1,179.0 588.5,179.0 588.9,178.9 589.4,178.9 589.8,178.8 590.2,178.7 590.7,178.7 591.1,178.6 591.5,178.5 592.0,178.5 592.4,178.4 592.8,178.3 593.3,178.2 593.7,178.1 594.1,177.9 594.6,177.8 595.0,177.7 595.4,177.5 595.8,177.3 596.3,177.1 596.7,176.9 597.1,176.7 597.6,176.4 598.0,176.1 598.4,175.7 598.9,175.3 599.3,174.9 599.7,174.3 600.2,173.8 600.6,173.1 601.0,172.3 601.5,171.5 601.9,170.5 602.3,169.4 602.8,168.2 603.2,166.9 603.6,165.4 604.1,163.8 604.5,162.0 604.9,160.0 605.4,157.8 605.8,155.5 606.2,153.0 606.7,150.3 607.1,147.4 607.5,144.3 608.0,141.0 608.4,137.6 608.8,134.0 609.3,130.3 609.7,126.4 610.1,122.5 610.6,118.4 611.0,114.3 611.4,110.2 611.9,106.0 612.3,101.9 612.7,97.9 613.2,94.0 613.6,90.2 614.0,86.6 614.5,83.2 614.9,80.1 615.3,77.2 615.7,74.7 616.2,72.5 616.6,70.7 617.0,69.2 617.5,68.2 617.9,67.6 618.3,67.4 618.8,67.6 619.2,68.3 619.6,69.4 620.1,70.9 620.5,72.7 620.9,75.0 621.4,77.6 621.8,80.5 622.2,83.7 622.7,87.1 623.1,90.8 623.5,94.6 624.0,98.5 624.4,102.6 624.8,106.7 625.3,110.9 625.7,115.1 626.1,119.2 626.6,123.2 627.0,127.2 627.4,131.0 627.9,134.7 628.3,138.3 628.7,141.7 629.2,144.9 629.6,147.9 630.0,150.7 630.5,153.4 630.9,155.8 631.3,158.0 631.8,160.1 632.2,162.0 632.6,163.7 633.1,165.3 633.5,166.7 633.9,167.9 634.4,169.0 634.8,170.0 635.2,170.9 635.6,171.6 636.1,172.3 636.5,172.9 636.9,173.4 637.4,173.8 637.8,174.2 638.2,174.5 638.7,174.8 639.1,175.0 639.5,175.2 640.0,175.3 640.4,175.5 640.8,175.6 641.3,175.7 641.7,175.7 642.1,175.8 642.6,175.8 643.0,175.9 643.4,175.9 643.9,175.9 644.3,176.0 644.7,176.0 645.2,176.0 645.6,176.0 646.0,176.0 646.5,176.0 646.9,176.0 647.3,176.0 647.8,176.0 648.2,176.0 648.6,176.0 649.1,176.0 649.5,176.0 649.9,176.0 650.4,176.0 650.8,176.0 651.2,176.0 651.7,176.0 652.1,176.0 652.5,176.0" fill="none" stroke="#92d050" stroke-width="1.2" stroke-linejoin="round" opacity="1.0"/>
<polyline points="585.5,179.2 585.9,179.2 586.3,179.1 586.8,179.1 587.2,179.1 587.6,179.0 588.1,179.0 588.5,179.0 588.9,178.9 589.4,178.9 589.8,178.8 590.2,178.7 590.7,178.7 591.1,178.6 591.5,178.5 592.0,178.4 592.4,178.3 592.8,178.3 593.3,178.1 593.7,178.0 594.1,177.9 594.6,177.8 595.0,177.6 595.4,177.4 595.8,177.2 596.3,177.0 596.7,176.8 597.1,176.5 597.6,176.2 598.0,175.8 598.4,175.4 598.9,175.0 599.3,174.4 599.7,173.8 600.2,173.1 600.6,172.4 601.0,171.5 601.5,170.5 601.9,169.4 602.3,168.1 602.8,166.7 603.2,165.1 603.6,163.4 604.1,161.5 604.5,159.3 604.9,157.0 605.4,154.5 605.8,151.7 606.2,148.8 606.7,145.6 607.1,142.2 607.5,138.5 608.0,134.7 608.4,130.7 608.8,126.4 609.3,122.0 609.7,117.5 610.1,112.8 610.6,108.1 611.0,103.2 611.4,98.4 611.9,93.5 612.3,88.7 612.7,83.9 613.2,79.3 613.6,74.8 614.0,70.6 614.5,66.6 614.9,62.9 615.3,59.5 615.7,56.5 616.2,54.0 616.6,51.8 617.0,50.1 617.5,48.9 617.9,48.1 618.3,47.9 618.8,48.2 619.2,48.9 619.6,50.2 620.1,52.0 620.5,54.2 620.9,56.8 621.4,59.8 621.8,63.3 622.2,67.0 622.7,71.0 623.1,75.3 623.5,79.8 624.0,84.5 624.4,89.3 624.8,94.1 625.3,99.0 625.7,103.9 626.1,108.7 626.6,113.5 627.0,118.1 627.4,122.6 627.9,127.0 628.3,131.2 628.7,135.2 629.2,138.9 629.6,142.5 630.0,145.8 630.5,148.9 630.9,151.8 631.3,154.4 631.8,156.9 632.2,159.1 632.6,161.1 633.1,162.9 633.5,164.6 633.9,166.0 634.4,167.3 634.8,168.5 635.2,169.5 635.6,170.4 636.1,171.2 636.5,171.9 636.9,172.5 637.4,173.0 637.8,173.4 638.2,173.8 638.7,174.1 639.1,174.4 639.5,174.6 640.0,174.8 640.4,175.0 640.8,175.1 641.3,175.2 641.7,175.3 642.1,175.3 642.6,175.4 643.0,175.5 643.4,175.5 643.9,175.5 644.3,175.5 644.7,175.6 645.2,175.6 645.6,175.6 646.0,175.6 646.5,175.6 646.9,175.6 647.3,175.6 647.8,175.6 648.2,175.6 648.6,175.6 649.1,175.6 649.5,175.6 649.9,175.6 650.4,175.6 650.8,175.6 651.2,175.6 651.7,175.6 652.1,175.6 652.5,175.6" fill="none" stroke="#92d050" stroke-width="1.2" stroke-linejoin="round" opacity="1.0"/>
<polyline points="585.5,179.2 585.9,179.2 586.3,179.1 586.8,179.1 587.2,179.1 587.6,179.0 588.1,179.0 588.5,178.9 588.9,178.9 589.4,178.8 589.8,178.8 590.2,178.7 590.7,178.7 591.1,178.6 591.5,178.5 592.0,178.4 592.4,178.3 592.8,178.2 593.3,178.1 593.7,178.0 594.1,177.9 594.6,177.7 595.0,177.6 595.4,177.4 595.8,177.2 596.3,176.9 596.7,176.7 597.1,176.4 597.6,176.0 598.0,175.6 598.4,175.2 598.9,174.7 599.3,174.1 599.7,173.4 600.2,172.6 600.6,171.8 601.0,170.8 601.5,169.7 601.9,168.4 602.3,167.0 602.8,165.4 603.2,163.7 603.6,161.7 604.1,159.6 604.5,157.2 604.9,154.6 605.4,151.8 605.8,148.7 606.2,145.4 606.7,141.8 607.1,138.0 607.5,133.9 608.0,129.6 608.4,125.1 608.8,120.3 609.3,115.4 609.7,110.3 610.1,105.0 610.6,99.7 611.0,94.3 611.4,88.8 611.9,83.3 612.3,77.9 612.7,72.6 613.2,67.4 613.6,62.4 614.0,57.6 614.5,53.2 614.9,49.0 615.3,45.2 615.7,41.9 616.2,38.9 616.6,36.5 617.0,34.6 617.5,33.2 617.9,32.4 618.3,32.1 618.8,32.4 619.2,33.3 619.6,34.7 620.1,36.7 620.5,39.1 620.9,42.1 621.4,45.5 621.8,49.3 622.2,53.5 622.7,58.0 623.1,62.8 623.5,67.9 624.0,73.1 624.4,78.5 624.8,83.9 625.3,89.4 625.7,94.8 626.1,100.3 626.6,105.6 627.0,110.8 627.4,115.9 627.9,120.8 628.3,125.4 628.7,129.9 629.2,134.1 629.6,138.1 630.0,141.8 630.5,145.3 630.9,148.5 631.3,151.5 631.8,154.2 632.2,156.7 632.6,159.0 633.1,161.0 633.5,162.9 633.9,164.5 634.4,166.0 634.8,167.3 635.2,168.4 635.6,169.5 636.1,170.3 636.5,171.1 636.9,171.8 637.4,172.3 637.8,172.8 638.2,173.2 638.7,173.6 639.1,173.9 639.5,174.2 640.0,174.4 640.4,174.5 640.8,174.7 641.3,174.8 641.7,174.9 642.1,175.0 642.6,175.0 643.0,175.1 643.4,175.1 643.9,175.2 644.3,175.2 644.7,175.2 645.2,175.2 645.6,175.2 646.0,175.3 646.5,175.3 646.9,175.3 647.3,175.3 647.8,175.3 648.2,175.3 648.6,175.3 649.1,175.3 649.5,175.3 649.9,175.3 650.4,175.3 650.8,175.3 651.2,175.3 651.7,175.3 652.1,175.3 652.5,175.3" fill="none" stroke="#92d050" stroke-width="1.2" stroke-linejoin="round" opacity="1.0"/>
<polyline points="585.5,179.2 585.9,179.2 586.3,179.1 586.8,179.1 587.2,179.1 587.6,179.0 588.1,179.0 588.5,178.9 588.9,178.9 589.4,178.8 589.8,178.8 590.2,178.7 590.7,178.7 591.1,178.6 591.5,178.5 592.0,178.4 592.4,178.3 592.8,178.2 593.3,178.1 593.7,178.0 594.1,177.8 594.6,177.7 595.0,177.5 595.4,177.3 595.8,177.1 596.3,176.8 596.7,176.5 597.1,176.2 597.6,175.8 598.0,175.4 598.4,174.9 598.9,174.3 599.3,173.7 599.7,173.0 600.2,172.1 600.6,171.2 601.0,170.1 601.5,168.8 601.9,167.5 602.3,165.9 602.8,164.2 603.2,162.2 603.6,160.1 604.1,157.7 604.5,155.0 604.9,152.1 605.4,149.0 605.8,145.6 606.2,141.9 606.7,137.9 607.1,133.7 607.5,129.2 608.0,124.4 608.4,119.4 608.8,114.1 609.3,108.6 609.7,102.9 610.1,97.1 610.6,91.2 611.0,85.1 611.4,79.1 611.9,73.0 612.3,67.0 612.7,61.1 613.2,55.3 613.6,49.7 614.0,44.4 614.5,39.5 614.9,34.9 615.3,30.6 615.7,26.9 616.2,23.7 616.6,21.0 617.0,18.8 617.5,17.3 617.9,16.4 618.3,16.1 618.8,16.4 619.2,17.4 619.6,18.9 620.1,21.1 620.5,23.8 620.9,27.1 621.4,30.9 621.8,35.1 622.2,39.8 622.7,44.8 623.1,50.1 623.5,55.7 624.0,61.5 624.4,67.5 624.8,73.5 625.3,79.6 625.7,85.6 626.1,91.6 626.6,97.6 627.0,103.4 627.4,109.0 627.9,114.4 628.3,119.6 628.7,124.5 629.2,129.2 629.6,133.7 630.0,137.8 630.5,141.7 630.9,145.2 631.3,148.5 631.8,151.6 632.2,154.3 632.6,156.8 633.1,159.1 633.5,161.2 633.9,163.0 634.4,164.6 634.8,166.1 635.2,167.3 635.6,168.5 636.1,169.4 636.5,170.3 636.9,171.0 637.4,171.7 637.8,172.2 638.2,172.7 638.7,173.1 639.1,173.4 639.5,173.7 640.0,173.9 640.4,174.1 640.8,174.3 641.3,174.4 641.7,174.5 642.1,174.6 642.6,174.7 643.0,174.7 643.4,174.8 643.9,174.8 644.3,174.9 644.7,174.9 645.2,174.9 645.6,174.9 646.0,174.9 646.5,174.9 646.9,174.9 647.3,174.9 647.8,174.9 648.2,174.9 648.6,174.9 649.1,174.9 649.5,174.9 649.9,174.9 650.4,174.9 650.8,174.9 651.2,174.9 651.7,174.9 652.1,174.9 652.5,174.9" fill="none" stroke="#92d050" stroke-width="1.2" stroke-linejoin="round" opacity="1.0"/>
<text x="716.70" y="169.64" font-size="9.60" fill="#92d050" font-weight="normal" font-style="normal" text-anchor="start" textLength="52.70" lengthAdjust="spacingAndGlyphs" stroke="#92d050" stroke-width="0.32">5Au-SP/BDDE</text>
<rect x="660.60" y="19.30" width="109.70" height="87.90" fill="none" stroke="#5a5a5a" stroke-width="1.1"/>
<text x="653.60" y="109.60" font-size="6.70" fill="#2c2c2c" font-weight="normal" font-style="normal" text-anchor="end" textLength="3.77" lengthAdjust="spacingAndGlyphs" stroke="#2c2c2c" stroke-width="0.2">0</text>
<line x1="660.60" y1="77.90" x2="663.10" y2="77.90" stroke="#5a5a5a" stroke-width="0.9"/>
<text x="653.60" y="80.30" font-size="6.70" fill="#2c2c2c" font-weight="normal" font-style="normal" text-anchor="end" textLength="3.77" lengthAdjust="spacingAndGlyphs" stroke="#2c2c2c" stroke-width="0.2">1</text>
<line x1="660.60" y1="48.60" x2="663.10" y2="48.60" stroke="#5a5a5a" stroke-width="0.9"/>
<text x="653.60" y="51.00" font-size="6.70" fill="#2c2c2c" font-weight="normal" font-style="normal" text-anchor="end" textLength="3.77" lengthAdjust="spacingAndGlyphs" stroke="#2c2c2c" stroke-width="0.2">2</text>
<text x="653.60" y="21.70" font-size="6.70" fill="#2c2c2c" font-weight="normal" font-style="normal" text-anchor="end" textLength="3.77" lengthAdjust="spacingAndGlyphs" stroke="#2c2c2c" stroke-width="0.2">3</text>
<text x="660.60" y="119.50" font-size="6.70" fill="#2c2c2c" font-weight="normal" font-style="normal" text-anchor="middle" textLength="3.75" lengthAdjust="spacingAndGlyphs" stroke="#2c2c2c" stroke-width="0.2">0</text>
<line x1="697.17" y1="107.20" x2="697.17" y2="104.70" stroke="#5a5a5a" stroke-width="0.9"/>
<text x="697.17" y="119.50" font-size="6.70" fill="#2c2c2c" font-weight="normal" font-style="normal" text-anchor="middle" textLength="3.75" lengthAdjust="spacingAndGlyphs" stroke="#2c2c2c" stroke-width="0.2">5</text>
<line x1="733.73" y1="107.20" x2="733.73" y2="104.70" stroke="#5a5a5a" stroke-width="0.9"/>
<text x="733.73" y="119.50" font-size="6.70" fill="#2c2c2c" font-weight="normal" font-style="normal" text-anchor="middle" textLength="7.50" lengthAdjust="spacingAndGlyphs" stroke="#2c2c2c" stroke-width="0.2">10</text>
<text x="770.30" y="119.50" font-size="6.70" fill="#2c2c2c" font-weight="normal" font-style="normal" text-anchor="middle" textLength="7.50" lengthAdjust="spacingAndGlyphs" stroke="#2c2c2c" stroke-width="0.2">15</text>
<line x1="667.91" y1="93.43" x2="770.30" y2="21.94" stroke="#b5e08a" stroke-width="0.8"/>
<line x1="755.67" y1="31.02" x2="755.67" y2="35.71" stroke="#555" stroke-width="0.7"/>
<line x1="754.37" y1="31.02" x2="756.97" y2="31.02" stroke="#555" stroke-width="0.7"/>
<line x1="754.37" y1="35.71" x2="756.97" y2="35.71" stroke="#555" stroke-width="0.7"/>
<line x1="770.30" y1="21.64" x2="770.30" y2="25.16" stroke="#555" stroke-width="0.7"/>
<line x1="769.00" y1="21.64" x2="771.60" y2="21.64" stroke="#555" stroke-width="0.7"/>
<line x1="769.00" y1="25.16" x2="771.60" y2="25.16" stroke="#555" stroke-width="0.7"/>
<circle cx="667.91" cy="96.36" r="1.6" fill="#92d050"/>
<circle cx="682.54" cy="84.64" r="1.6" fill="#92d050"/>
<circle cx="697.17" cy="72.04" r="1.6" fill="#92d050"/>
<circle cx="711.79" cy="61.78" r="1.6" fill="#92d050"/>
<circle cx="726.42" cy="50.94" r="1.6" fill="#92d050"/>
<circle cx="741.05" cy="41.86" r="1.6" fill="#92d050"/>
<circle cx="755.67" cy="33.36" r="1.6" fill="#92d050"/>
<circle cx="770.30" cy="23.40" r="1.6" fill="#92d050"/>
<g transform="translate(642.40,27.30) rotate(-90)"><text x="0" y="2.4" font-size="6.8" font-weight="bold" text-anchor="middle" textLength="19.2" lengthAdjust="spacingAndGlyphs" fill="#222" stroke="#222" stroke-width="0.1"><tspan font-style="italic">I</tspan><tspan font-size="4.6" dy="1.5" font-style="italic">p</tspan><tspan dy="-1.5"> [μA]</tspan></text></g>
<text x="742.30" y="128.40" font-size="6.8" font-weight="bold" textLength="34.80" lengthAdjust="spacingAndGlyphs" fill="#222"><tspan font-style="italic">c</tspan> [μmol L<tspan font-size="4.6" dy="-2.2">−1</tspan><tspan dy="2.2">]</tspan></text>
<rect x="37.10" y="213.90" width="215.80" height="171.90" fill="none" stroke="#606060" stroke-width="1.2"/>
<text x="28.10" y="389.24" font-size="9.60" fill="#2c2c2c" font-weight="normal" font-style="normal" text-anchor="end" textLength="4.97" lengthAdjust="spacingAndGlyphs" stroke="#2c2c2c" stroke-width="0.32">0</text>
<line x1="37.10" y1="328.50" x2="40.10" y2="328.50" stroke="#606060" stroke-width="1"/>
<text x="28.10" y="331.94" font-size="9.60" fill="#2c2c2c" font-weight="normal" font-style="normal" text-anchor="end" textLength="4.97" lengthAdjust="spacingAndGlyphs" stroke="#2c2c2c" stroke-width="0.32">1</text>
<line x1="37.10" y1="271.20" x2="40.10" y2="271.20" stroke="#606060" stroke-width="1"/>
<text x="28.10" y="274.64" font-size="9.60" fill="#2c2c2c" font-weight="normal" font-style="normal" text-anchor="end" textLength="4.97" lengthAdjust="spacingAndGlyphs" stroke="#2c2c2c" stroke-width="0.32">2</text>
<text x="28.10" y="217.34" font-size="9.60" fill="#2c2c2c" font-weight="normal" font-style="normal" text-anchor="end" textLength="4.97" lengthAdjust="spacingAndGlyphs" stroke="#2c2c2c" stroke-width="0.32">3</text>
<text x="37.10" y="402.24" font-size="9.60" fill="#2c2c2c" font-weight="normal" font-style="normal" text-anchor="middle" textLength="17.90" lengthAdjust="spacingAndGlyphs" stroke="#2c2c2c" stroke-width="0.32">-300</text>
<line x1="80.26" y1="385.80" x2="80.26" y2="382.80" stroke="#606060" stroke-width="1"/>
<text x="80.26" y="402.24" font-size="9.60" fill="#2c2c2c" font-weight="normal" font-style="normal" text-anchor="middle" textLength="4.97" lengthAdjust="spacingAndGlyphs" stroke="#2c2c2c" stroke-width="0.32">0</text>
<line x1="123.42" y1="385.80" x2="123.42" y2="382.80" stroke="#606060" stroke-width="1"/>
<text x="123.42" y="402.24" font-size="9.60" fill="#2c2c2c" font-weight="normal" font-style="normal" text-anchor="middle" textLength="14.91" lengthAdjust="spacingAndGlyphs" stroke="#2c2c2c" stroke-width="0.32">300</text>
<line x1="166.58" y1="385.80" x2="166.58" y2="382.80" stroke="#606060" stroke-width="1"/>
<text x="166.58" y="402.24" font-size="9.60" fill="#2c2c2c" font-weight="normal" font-style="normal" text-anchor="middle" textLength="14.91" lengthAdjust="spacingAndGlyphs" stroke="#2c2c2c" stroke-width="0.32">600</text>
<line x1="209.74" y1="385.80" x2="209.74" y2="382.80" stroke="#606060" stroke-width="1"/>
<text x="209.74" y="402.24" font-size="9.60" fill="#2c2c2c" font-weight="normal" font-style="normal" text-anchor="middle" textLength="14.91" lengthAdjust="spacingAndGlyphs" stroke="#2c2c2c" stroke-width="0.32">900</text>
<text x="252.90" y="402.24" font-size="9.60" fill="#2c2c2c" font-weight="normal" font-style="normal" text-anchor="middle" textLength="19.87" lengthAdjust="spacingAndGlyphs" stroke="#2c2c2c" stroke-width="0.32">1200</text>
<g transform="translate(9.10,228.40) rotate(-90)"><text x="0" y="3.3" font-size="9.2" font-weight="bold" text-anchor="middle" textLength="22" lengthAdjust="spacingAndGlyphs" fill="#111" stroke="#111" stroke-width="0.3"><tspan font-style="italic">I</tspan> [μA]</text></g>
<text x="218.70" y="411.10" font-size="9.2" font-weight="bold" textLength="27.10" lengthAdjust="spacingAndGlyphs" fill="#111" stroke="#111" stroke-width="0.3"><tspan font-style="italic">E</tspan> [mV]</text>
<polyline points="37.1,384.5 37.5,384.5 38.0,384.5 38.4,384.4 38.8,384.4 39.3,384.4 39.7,384.4 40.1,384.4 40.6,384.3 41.0,384.3 41.4,384.3 41.8,384.3 42.3,384.3 42.7,384.2 43.1,384.2 43.6,384.2 44.0,384.2 44.4,384.2 44.9,384.1 45.3,384.1 45.7,384.1 46.2,384.1 46.6,384.1 47.0,384.1 47.5,384.0 47.9,384.0 48.3,384.0 48.8,384.0 49.2,384.0 49.6,384.0 50.0,384.0 50.5,384.0 50.9,384.0 51.3,384.0 51.8,384.0 52.2,384.0 52.6,384.0 53.1,384.0 53.5,384.0 53.9,384.0 54.4,384.0 54.8,384.0 55.2,384.0 55.7,384.0 56.1,384.1 56.5,384.1 57.0,384.1 57.4,384.1 57.8,384.1 58.2,384.1 58.7,384.2 59.1,384.2 59.5,384.2 60.0,384.2 60.4,384.2 60.8,384.3 61.3,384.3 61.7,384.3 62.1,384.3 62.6,384.3 63.0,384.4 63.4,384.4 63.9,384.4 64.3,384.4 64.7,384.4 65.2,384.4 65.6,384.5 66.0,384.5 66.4,384.5 66.9,384.5 67.3,384.5 67.7,384.5 68.2,384.5 68.6,384.5 69.0,384.5 69.5,384.5 69.9,384.4 70.3,384.4 70.8,384.4 71.2,384.4 71.6,384.3 72.1,384.3 72.5,384.2 72.9,384.2 73.4,384.1 73.8,384.0 74.2,383.9 74.6,383.8 75.1,383.7 75.5,383.6 75.9,383.5 76.4,383.3 76.8,383.1 77.2,383.0 77.7,382.8 78.1,382.5 78.5,382.3 79.0,382.1 79.4,381.8 79.8,381.5 80.3,381.2 80.7,380.9 81.1,380.6 81.6,380.3 82.0,379.9 82.4,379.6 82.8,379.2 83.3,378.9 83.7,378.5 84.1,378.2 84.6,377.8 85.0,377.5 85.4,377.2 85.9,376.9 86.3,376.6 86.7,376.3 87.2,376.0 87.6,375.8 88.0,375.6 88.5,375.4 88.9,375.3 89.3,375.2 89.8,375.1 90.2,375.1 90.6,375.1 91.1,375.1 91.5,375.1 91.9,375.2 92.3,375.2 92.8,375.3 93.2,375.4 93.6,375.5 94.1,375.7 94.5,375.8 94.9,376.0 95.4,376.1 95.8,376.3 96.2,376.5 96.7,376.7 97.1,376.9 97.5,377.2 98.0,377.4 98.4,377.6 98.8,377.8 99.3,378.1 99.7,378.3 100.1,378.5 100.5,378.7 101.0,379.0 101.4,379.2 101.8,379.4 102.3,379.6 102.7,379.8 103.1,380.0 103.6,380.2 104.0,380.4 104.4,380.6 104.9,380.7 105.3,380.9 105.7,381.1 106.2,381.2 106.6,381.4 107.0,381.5 107.5,381.6 107.9,381.7 108.3,381.8 108.7,382.0 109.2,382.0 109.6,382.1 110.0,382.2 110.5,382.3 110.9,382.4 111.3,382.4 111.8,382.5 112.2,382.5 112.6,382.6 113.1,382.6 113.5,382.7 113.9,382.7 114.4,382.8 114.8,382.8 115.2,382.8 115.7,382.8 116.1,382.9 116.5,382.9 116.9,382.9 117.4,382.9 117.8,382.9 118.2,382.9 118.7,382.9 119.1,382.9 119.5,383.0 120.0,383.0 120.4,383.0 120.8,383.0 121.3,383.0 121.7,383.0 122.1,383.0 122.6,383.0 123.0,383.0 123.4,383.0" fill="none" stroke="#00b050" stroke-width="1.15" stroke-linejoin="round" opacity="1.0"/>
<polyline points="37.1,384.5 37.5,384.5 38.0,384.5 38.4,384.4 38.8,384.4 39.3,384.4 39.7,384.4 40.1,384.4 40.6,384.3 41.0,384.3 41.4,384.3 41.8,384.3 42.3,384.3 42.7,384.2 43.1,384.2 43.6,384.2 44.0,384.2 44.4,384.2 44.9,384.1 45.3,384.1 45.7,384.1 46.2,384.1 46.6,384.1 47.0,384.1 47.5,384.0 47.9,384.0 48.3,384.0 48.8,384.0 49.2,384.0 49.6,384.0 50.0,384.0 50.5,384.0 50.9,384.0 51.3,384.0 51.8,384.0 52.2,384.0 52.6,384.0 53.1,384.0 53.5,384.0 53.9,384.0 54.4,384.0 54.8,384.0 55.2,384.0 55.7,384.0 56.1,384.1 56.5,384.1 57.0,384.1 57.4,384.1 57.8,384.1 58.2,384.1 58.7,384.2 59.1,384.2 59.5,384.2 60.0,384.2 60.4,384.2 60.8,384.3 61.3,384.3 61.7,384.3 62.1,384.3 62.6,384.3 63.0,384.4 63.4,384.4 63.9,384.4 64.3,384.4 64.7,384.4 65.2,384.4 65.6,384.4 66.0,384.4 66.4,384.4 66.9,384.4 67.3,384.4 67.7,384.4 68.2,384.4 68.6,384.3 69.0,384.3 69.5,384.3 69.9,384.2 70.3,384.2 70.8,384.1 71.2,384.0 71.6,383.9 72.1,383.8 72.5,383.6 72.9,383.5 73.4,383.3 73.8,383.1 74.2,382.9 74.6,382.6 75.1,382.3 75.5,382.0 75.9,381.7 76.4,381.3 76.8,380.9 77.2,380.4 77.7,379.9 78.1,379.3 78.5,378.8 79.0,378.1 79.4,377.5 79.8,376.8 80.3,376.1 80.7,375.3 81.1,374.5 81.6,373.7 82.0,372.8 82.4,371.9 82.8,371.1 83.3,370.2 83.7,369.3 84.1,368.4 84.6,367.6 85.0,366.7 85.4,365.9 85.9,365.1 86.3,364.4 86.7,363.7 87.2,363.1 87.6,362.5 88.0,362.0 88.5,361.6 88.9,361.2 89.3,361.0 89.8,360.8 90.2,360.7 90.6,360.7 91.1,360.7 91.5,360.8 91.9,361.0 92.3,361.1 92.8,361.4 93.2,361.6 93.6,362.0 94.1,362.3 94.5,362.7 94.9,363.1 95.4,363.6 95.8,364.0 96.2,364.6 96.7,365.1 97.1,365.6 97.5,366.2 98.0,366.8 98.4,367.4 98.8,368.0 99.3,368.6 99.7,369.2 100.1,369.8 100.5,370.4 101.0,371.0 101.4,371.6 101.8,372.2 102.3,372.7 102.7,373.3 103.1,373.8 103.6,374.4 104.0,374.9 104.4,375.4 104.9,375.8 105.3,376.3 105.7,376.7 106.2,377.1 106.6,377.5 107.0,377.9 107.5,378.2 107.9,378.6 108.3,378.9 108.7,379.2 109.2,379.4 109.6,379.7 110.0,379.9 110.5,380.1 110.9,380.3 111.3,380.5 111.8,380.7 112.2,380.8 112.6,381.0 113.1,381.1 113.5,381.2 113.9,381.3 114.4,381.4 114.8,381.5 115.2,381.6 115.7,381.7 116.1,381.7 116.5,381.8 116.9,381.8 117.4,381.9 117.8,381.9 118.2,382.0 118.7,382.0 119.1,382.0 119.5,382.0 120.0,382.1 120.4,382.1 120.8,382.1 121.3,382.1 121.7,382.1 122.1,382.1 122.6,382.1 123.0,382.1 123.4,382.1" fill="none" stroke="#00b050" stroke-width="1.15" stroke-linejoin="round" opacity="1.0"/>
<polyline points="37.1,384.5 37.5,384.5 38.0,384.5 38.4,384.4 38.8,384.4 39.3,384.4 39.7,384.4 40.1,384.4 40.6,384.3 41.0,384.3 41.4,384.3 41.8,384.3 42.3,384.3 42.7,384.2 43.1,384.2 43.6,384.2 44.0,384.2 44.4,384.2 44.9,384.1 45.3,384.1 45.7,384.1 46.2,384.1 46.6,384.1 47.0,384.1 47.5,384.0 47.9,384.0 48.3,384.0 48.8,384.0 49.2,384.0 49.6,384.0 50.0,384.0 50.5,384.0 50.9,384.0 51.3,384.0 51.8,384.0 52.2,384.0 52.6,384.0 53.1,384.0 53.5,384.0 53.9,384.0 54.4,384.0 54.8,384.0 55.2,384.0 55.7,384.0 56.1,384.1 56.5,384.1 57.0,384.1 57.4,384.1 57.8,384.1 58.2,384.1 58.7,384.2 59.1,384.2 59.5,384.2 60.0,384.2 60.4,384.2 60.8,384.3 61.3,384.3 61.7,384.3 62.1,384.3 62.6,384.3 63.0,384.4 63.4,384.4 63.9,384.4 64.3,384.4 64.7,384.4 65.2,384.4 65.6,384.4 66.0,384.4 66.4,384.4 66.9,384.4 67.3,384.3 67.7,384.3 68.2,384.3 68.6,384.2 69.0,384.2 69.5,384.1 69.9,384.0 70.3,383.9 70.8,383.8 71.2,383.7 71.6,383.5 72.1,383.3 72.5,383.1 72.9,382.9 73.4,382.6 73.8,382.3 74.2,381.9 74.6,381.5 75.1,381.1 75.5,380.6 75.9,380.0 76.4,379.4 76.8,378.8 77.2,378.0 77.7,377.3 78.1,376.4 78.5,375.5 79.0,374.5 79.4,373.5 79.8,372.4 80.3,371.3 80.7,370.1 81.1,368.9 81.6,367.6 82.0,366.3 82.4,364.9 82.8,363.6 83.3,362.2 83.7,360.8 84.1,359.4 84.6,358.1 85.0,356.8 85.4,355.5 85.9,354.3 86.3,353.2 86.7,352.1 87.2,351.1 87.6,350.2 88.0,349.5 88.5,348.8 88.9,348.3 89.3,347.9 89.8,347.6 90.2,347.5 90.6,347.5 91.1,347.5 91.5,347.7 91.9,347.9 92.3,348.2 92.8,348.5 93.2,349.0 93.6,349.5 94.1,350.0 94.5,350.6 94.9,351.3 95.4,352.0 95.8,352.7 96.2,353.5 96.7,354.4 97.1,355.2 97.5,356.1 98.0,357.0 98.4,358.0 98.8,358.9 99.3,359.9 99.7,360.8 100.1,361.8 100.5,362.7 101.0,363.7 101.4,364.6 101.8,365.5 102.3,366.4 102.7,367.3 103.1,368.2 103.6,369.0 104.0,369.8 104.4,370.6 104.9,371.3 105.3,372.0 105.7,372.7 106.2,373.4 106.6,374.0 107.0,374.6 107.5,375.1 107.9,375.6 108.3,376.1 108.7,376.6 109.2,377.0 109.6,377.4 110.0,377.8 110.5,378.1 110.9,378.5 111.3,378.7 111.8,379.0 112.2,379.3 112.6,379.5 113.1,379.7 113.5,379.9 113.9,380.1 114.4,380.2 114.8,380.4 115.2,380.5 115.7,380.6 116.1,380.7 116.5,380.8 116.9,380.9 117.4,380.9 117.8,381.0 118.2,381.1 118.7,381.1 119.1,381.2 119.5,381.2 120.0,381.2 120.4,381.3 120.8,381.3 121.3,381.3 121.7,381.3 122.1,381.3 122.6,381.4 123.0,381.4 123.4,381.4" fill="none" stroke="#00b050" stroke-width="1.15" stroke-linejoin="round" opacity="1.0"/>
<polyline points="37.1,384.5 37.5,384.5 38.0,384.5 38.4,384.4 38.8,384.4 39.3,384.4 39.7,384.4 40.1,384.4 40.6,384.3 41.0,384.3 41.4,384.3 41.8,384.3 42.3,384.3 42.7,384.2 43.1,384.2 43.6,384.2 44.0,384.2 44.4,384.2 44.9,384.1 45.3,384.1 45.7,384.1 46.2,384.1 46.6,384.1 47.0,384.1 47.5,384.0 47.9,384.0 48.3,384.0 48.8,384.0 49.2,384.0 49.6,384.0 50.0,384.0 50.5,384.0 50.9,384.0 51.3,384.0 51.8,384.0 52.2,384.0 52.6,384.0 53.1,384.0 53.5,384.0 53.9,384.0 54.4,384.0 54.8,384.0 55.2,384.0 55.7,384.0 56.1,384.1 56.5,384.1 57.0,384.1 57.4,384.1 57.8,384.1 58.2,384.1 58.7,384.2 59.1,384.2 59.5,384.2 60.0,384.2 60.4,384.2 60.8,384.3 61.3,384.3 61.7,384.3 62.1,384.3 62.6,384.3 63.0,384.3 63.4,384.4 63.9,384.4 64.3,384.4 64.7,384.4 65.2,384.4 65.6,384.4 66.0,384.4 66.4,384.3 66.9,384.3 67.3,384.3 67.7,384.2 68.2,384.2 68.6,384.1 69.0,384.1 69.5,384.0 69.9,383.8 70.3,383.7 70.8,383.6 71.2,383.4 71.6,383.2 72.1,382.9 72.5,382.6 72.9,382.3 73.4,381.9 73.8,381.5 74.2,381.0 74.6,380.5 75.1,379.9 75.5,379.2 75.9,378.5 76.4,377.7 76.8,376.8 77.2,375.9 77.7,374.9 78.1,373.7 78.5,372.5 79.0,371.3 79.4,369.9 79.8,368.5 80.3,367.0 80.7,365.4 81.1,363.7 81.6,362.0 82.0,360.3 82.4,358.5 82.8,356.7 83.3,354.9 83.7,353.0 84.1,351.2 84.6,349.5 85.0,347.7 85.4,346.0 85.9,344.4 86.3,342.9 86.7,341.5 87.2,340.2 87.6,339.0 88.0,338.0 88.5,337.2 88.9,336.5 89.3,335.9 89.8,335.6 90.2,335.4 90.6,335.4 91.1,335.5 91.5,335.7 91.9,336.0 92.3,336.3 92.8,336.8 93.2,337.4 93.6,338.0 94.1,338.8 94.5,339.6 94.9,340.5 95.4,341.4 95.8,342.4 96.2,343.5 96.7,344.6 97.1,345.7 97.5,346.9 98.0,348.2 98.4,349.4 98.8,350.7 99.3,351.9 99.7,353.2 100.1,354.5 100.5,355.7 101.0,357.0 101.4,358.2 101.8,359.5 102.3,360.7 102.7,361.8 103.1,363.0 103.6,364.1 104.0,365.2 104.4,366.2 104.9,367.2 105.3,368.1 105.7,369.1 106.2,369.9 106.6,370.7 107.0,371.5 107.5,372.3 107.9,373.0 108.3,373.6 108.7,374.2 109.2,374.8 109.6,375.4 110.0,375.9 110.5,376.3 110.9,376.7 111.3,377.1 111.8,377.5 112.2,377.8 112.6,378.1 113.1,378.4 113.5,378.7 113.9,378.9 114.4,379.1 114.8,379.3 115.2,379.5 115.7,379.6 116.1,379.8 116.5,379.9 116.9,380.0 117.4,380.1 117.8,380.2 118.2,380.3 118.7,380.3 119.1,380.4 119.5,380.4 120.0,380.5 120.4,380.5 120.8,380.6 121.3,380.6 121.7,380.6 122.1,380.6 122.6,380.6 123.0,380.7 123.4,380.7" fill="none" stroke="#00b050" stroke-width="1.15" stroke-linejoin="round" opacity="1.0"/>
<polyline points="37.1,384.5 37.5,384.5 38.0,384.5 38.4,384.4 38.8,384.4 39.3,384.4 39.7,384.4 40.1,384.4 40.6,384.3 41.0,384.3 41.4,384.3 41.8,384.3 42.3,384.3 42.7,384.2 43.1,384.2 43.6,384.2 44.0,384.2 44.4,384.2 44.9,384.1 45.3,384.1 45.7,384.1 46.2,384.1 46.6,384.1 47.0,384.1 47.5,384.0 47.9,384.0 48.3,384.0 48.8,384.0 49.2,384.0 49.6,384.0 50.0,384.0 50.5,384.0 50.9,384.0 51.3,384.0 51.8,384.0 52.2,384.0 52.6,384.0 53.1,384.0 53.5,384.0 53.9,384.0 54.4,384.0 54.8,384.0 55.2,384.0 55.7,384.0 56.1,384.1 56.5,384.1 57.0,384.1 57.4,384.1 57.8,384.1 58.2,384.1 58.7,384.2 59.1,384.2 59.5,384.2 60.0,384.2 60.4,384.2 60.8,384.3 61.3,384.3 61.7,384.3 62.1,384.3 62.6,384.3 63.0,384.3 63.4,384.3 63.9,384.4 64.3,384.4 64.7,384.4 65.2,384.4 65.6,384.3 66.0,384.3 66.4,384.3 66.9,384.3 67.3,384.2 67.7,384.2 68.2,384.1 68.6,384.0 69.0,383.9 69.5,383.8 69.9,383.7 70.3,383.5 70.8,383.3 71.2,383.1 71.6,382.8 72.1,382.5 72.5,382.1 72.9,381.7 73.4,381.3 73.8,380.8 74.2,380.2 74.6,379.5 75.1,378.8 75.5,378.0 75.9,377.1 76.4,376.1 76.8,375.0 77.2,373.8 77.7,372.6 78.1,371.2 78.5,369.7 79.0,368.1 79.4,366.5 79.8,364.7 80.3,362.8 80.7,360.9 81.1,358.8 81.6,356.7 82.0,354.6 82.4,352.4 82.8,350.2 83.3,347.9 83.7,345.7 84.1,343.4 84.6,341.2 85.0,339.1 85.4,337.0 85.9,335.0 86.3,333.2 86.7,331.4 87.2,329.8 87.6,328.4 88.0,327.1 88.5,326.1 88.9,325.2 89.3,324.5 89.8,324.1 90.2,323.9 90.6,323.9 91.1,324.0 91.5,324.2 91.9,324.6 92.3,325.1 92.8,325.7 93.2,326.4 93.6,327.2 94.1,328.1 94.5,329.1 94.9,330.2 95.4,331.3 95.8,332.6 96.2,333.9 96.7,335.3 97.1,336.7 97.5,338.2 98.0,339.7 98.4,341.2 98.8,342.8 99.3,344.3 99.7,345.9 100.1,347.5 100.5,349.1 101.0,350.6 101.4,352.2 101.8,353.7 102.3,355.2 102.7,356.6 103.1,358.0 103.6,359.4 104.0,360.7 104.4,362.0 104.9,363.3 105.3,364.4 105.7,365.6 106.2,366.6 106.6,367.7 107.0,368.6 107.5,369.6 107.9,370.4 108.3,371.2 108.7,372.0 109.2,372.7 109.6,373.4 110.0,374.0 110.5,374.6 110.9,375.1 111.3,375.6 111.8,376.1 112.2,376.5 112.6,376.8 113.1,377.2 113.5,377.5 113.9,377.8 114.4,378.1 114.8,378.3 115.2,378.5 115.7,378.7 116.1,378.9 116.5,379.0 116.9,379.2 117.4,379.3 117.8,379.4 118.2,379.5 118.7,379.6 119.1,379.6 119.5,379.7 120.0,379.8 120.4,379.8 120.8,379.9 121.3,379.9 121.7,379.9 122.1,379.9 122.6,380.0 123.0,380.0 123.4,380.0" fill="none" stroke="#00b050" stroke-width="1.15" stroke-linejoin="round" opacity="1.0"/>
<polyline points="37.1,384.5 37.5,384.5 38.0,384.5 38.4,384.4 38.8,384.4 39.3,384.4 39.7,384.4 40.1,384.4 40.6,384.3 41.0,384.3 41.4,384.3 41.8,384.3 42.3,384.3 42.7,384.2 43.1,384.2 43.6,384.2 44.0,384.2 44.4,384.2 44.9,384.1 45.3,384.1 45.7,384.1 46.2,384.1 46.6,384.1 47.0,384.1 47.5,384.0 47.9,384.0 48.3,384.0 48.8,384.0 49.2,384.0 49.6,384.0 50.0,384.0 50.5,384.0 50.9,384.0 51.3,384.0 51.8,384.0 52.2,384.0 52.6,384.0 53.1,384.0 53.5,384.0 53.9,384.0 54.4,384.0 54.8,384.0 55.2,384.0 55.7,384.0 56.1,384.1 56.5,384.1 57.0,384.1 57.4,384.1 57.8,384.1 58.2,384.1 58.7,384.2 59.1,384.2 59.5,384.2 60.0,384.2 60.4,384.2 60.8,384.3 61.3,384.3 61.7,384.3 62.1,384.3 62.6,384.3 63.0,384.3 63.4,384.3 63.9,384.3 64.3,384.3 64.7,384.3 65.2,384.3 65.6,384.3 66.0,384.3 66.4,384.3 66.9,384.2 67.3,384.2 67.7,384.1 68.2,384.0 68.6,383.9 69.0,383.8 69.5,383.7 69.9,383.5 70.3,383.3 70.8,383.1 71.2,382.8 71.6,382.5 72.1,382.2 72.5,381.8 72.9,381.3 73.4,380.7 73.8,380.1 74.2,379.5 74.6,378.7 75.1,377.9 75.5,376.9 75.9,375.9 76.4,374.7 76.8,373.5 77.2,372.1 77.7,370.6 78.1,369.0 78.5,367.3 79.0,365.5 79.4,363.5 79.8,361.5 80.3,359.3 80.7,357.0 81.1,354.7 81.6,352.2 82.0,349.7 82.4,347.2 82.8,344.6 83.3,342.0 83.7,339.4 84.1,336.8 84.6,334.2 85.0,331.7 85.4,329.3 85.9,327.0 86.3,324.9 86.7,322.8 87.2,321.0 87.6,319.3 88.0,317.9 88.5,316.6 88.9,315.6 89.3,314.9 89.8,314.4 90.2,314.1 90.6,314.1 91.1,314.2 91.5,314.5 91.9,314.9 92.3,315.5 92.8,316.2 93.2,317.0 93.6,317.9 94.1,319.0 94.5,320.2 94.9,321.4 95.4,322.8 95.8,324.2 96.2,325.8 96.7,327.4 97.1,329.0 97.5,330.7 98.0,332.5 98.4,334.3 98.8,336.1 99.3,337.9 99.7,339.7 100.1,341.6 100.5,343.4 101.0,345.2 101.4,347.0 101.8,348.8 102.3,350.5 102.7,352.2 103.1,353.8 103.6,355.4 104.0,357.0 104.4,358.5 104.9,359.9 105.3,361.3 105.7,362.6 106.2,363.9 106.6,365.1 107.0,366.2 107.5,367.3 107.9,368.3 108.3,369.2 108.7,370.1 109.2,370.9 109.6,371.7 110.0,372.4 110.5,373.1 110.9,373.7 111.3,374.3 111.8,374.8 112.2,375.3 112.6,375.8 113.1,376.2 113.5,376.5 113.9,376.9 114.4,377.2 114.8,377.4 115.2,377.7 115.7,377.9 116.1,378.1 116.5,378.3 116.9,378.4 117.4,378.6 117.8,378.7 118.2,378.8 118.7,378.9 119.1,379.0 119.5,379.1 120.0,379.2 120.4,379.2 120.8,379.3 121.3,379.3 121.7,379.3 122.1,379.4 122.6,379.4 123.0,379.4 123.4,379.4" fill="none" stroke="#00b050" stroke-width="1.15" stroke-linejoin="round" opacity="1.0"/>
<polyline points="37.1,384.5 37.5,384.5 38.0,384.5 38.4,384.4 38.8,384.4 39.3,384.4 39.7,384.4 40.1,384.4 40.6,384.3 41.0,384.3 41.4,384.3 41.8,384.3 42.3,384.3 42.7,384.2 43.1,384.2 43.6,384.2 44.0,384.2 44.4,384.2 44.9,384.1 45.3,384.1 45.7,384.1 46.2,384.1 46.6,384.1 47.0,384.1 47.5,384.0 47.9,384.0 48.3,384.0 48.8,384.0 49.2,384.0 49.6,384.0 50.0,384.0 50.5,384.0 50.9,384.0 51.3,384.0 51.8,384.0 52.2,384.0 52.6,384.0 53.1,384.0 53.5,384.0 53.9,384.0 54.4,384.0 54.8,384.0 55.2,384.0 55.7,384.0 56.1,384.1 56.5,384.1 57.0,384.1 57.4,384.1 57.8,384.1 58.2,384.1 58.7,384.2 59.1,384.2 59.5,384.2 60.0,384.2 60.4,384.2 60.8,384.3 61.3,384.3 61.7,384.3 62.1,384.3 62.6,384.3 63.0,384.3 63.4,384.3 63.9,384.3 64.3,384.3 64.7,384.3 65.2,384.3 65.6,384.3 66.0,384.3 66.4,384.2 66.9,384.2 67.3,384.1 67.7,384.1 68.2,384.0 68.6,383.9 69.0,383.7 69.5,383.6 69.9,383.4 70.3,383.1 70.8,382.9 71.2,382.6 71.6,382.2 72.1,381.8 72.5,381.3 72.9,380.8 73.4,380.2 73.8,379.5 74.2,378.7 74.6,377.8 75.1,376.9 75.5,375.8 75.9,374.6 76.4,373.3 76.8,371.8 77.2,370.3 77.7,368.6 78.1,366.7 78.5,364.8 79.0,362.7 79.4,360.4 79.8,358.1 80.3,355.6 80.7,353.0 81.1,350.3 81.6,347.5 82.0,344.6 82.4,341.7 82.8,338.7 83.3,335.7 83.7,332.7 84.1,329.7 84.6,326.8 85.0,324.0 85.4,321.2 85.9,318.6 86.3,316.1 86.7,313.8 87.2,311.6 87.6,309.7 88.0,308.1 88.5,306.6 88.9,305.5 89.3,304.6 89.8,304.0 90.2,303.8 90.6,303.8 91.1,303.9 91.5,304.2 91.9,304.7 92.3,305.4 92.8,306.1 93.2,307.1 93.6,308.2 94.1,309.4 94.5,310.7 94.9,312.2 95.4,313.7 95.8,315.4 96.2,317.1 96.7,319.0 97.1,320.9 97.5,322.8 98.0,324.9 98.4,326.9 98.8,329.0 99.3,331.1 99.7,333.2 100.1,335.3 100.5,337.4 101.0,339.5 101.4,341.6 101.8,343.6 102.3,345.6 102.7,347.5 103.1,349.4 103.6,351.2 104.0,353.0 104.4,354.7 104.9,356.4 105.3,358.0 105.7,359.5 106.2,360.9 106.6,362.3 107.0,363.6 107.5,364.8 107.9,366.0 108.3,367.1 108.7,368.1 109.2,369.0 109.6,369.9 110.0,370.8 110.5,371.5 110.9,372.3 111.3,372.9 111.8,373.5 112.2,374.1 112.6,374.6 113.1,375.1 113.5,375.5 113.9,375.9 114.4,376.2 114.8,376.5 115.2,376.8 115.7,377.1 116.1,377.3 116.5,377.5 116.9,377.7 117.4,377.9 117.8,378.0 118.2,378.1 118.7,378.2 119.1,378.3 119.5,378.4 120.0,378.5 120.4,378.6 120.8,378.6 121.3,378.7 121.7,378.7 122.1,378.8 122.6,378.8 123.0,378.8 123.4,378.8" fill="none" stroke="#00b050" stroke-width="1.15" stroke-linejoin="round" opacity="1.0"/>
<polyline points="37.1,384.5 37.5,384.5 38.0,384.5 38.4,384.4 38.8,384.4 39.3,384.4 39.7,384.4 40.1,384.4 40.6,384.3 41.0,384.3 41.4,384.3 41.8,384.3 42.3,384.3 42.7,384.2 43.1,384.2 43.6,384.2 44.0,384.2 44.4,384.2 44.9,384.1 45.3,384.1 45.7,384.1 46.2,384.1 46.6,384.1 47.0,384.1 47.5,384.0 47.9,384.0 48.3,384.0 48.8,384.0 49.2,384.0 49.6,384.0 50.0,384.0 50.5,384.0 50.9,384.0 51.3,384.0 51.8,384.0 52.2,384.0 52.6,384.0 53.1,384.0 53.5,384.0 53.9,384.0 54.4,384.0 54.8,384.0 55.2,384.0 55.7,384.0 56.1,384.1 56.5,384.1 57.0,384.1 57.4,384.1 57.8,384.1 58.2,384.1 58.7,384.2 59.1,384.2 59.5,384.2 60.0,384.2 60.4,384.2 60.8,384.3 61.3,384.3 61.7,384.3 62.1,384.3 62.6,384.3 63.0,384.3 63.4,384.3 63.9,384.3 64.3,384.3 64.7,384.3 65.2,384.3 65.6,384.3 66.0,384.3 66.4,384.2 66.9,384.2 67.3,384.1 67.7,384.0 68.2,383.9 68.6,383.8 69.0,383.6 69.5,383.5 69.9,383.2 70.3,383.0 70.8,382.7 71.2,382.4 71.6,382.0 72.1,381.5 72.5,381.0 72.9,380.4 73.4,379.7 73.8,378.9 74.2,378.1 74.6,377.1 75.1,376.0 75.5,374.8 75.9,373.5 76.4,372.1 76.8,370.5 77.2,368.7 77.7,366.8 78.1,364.8 78.5,362.6 79.0,360.3 79.4,357.8 79.8,355.2 80.3,352.5 80.7,349.6 81.1,346.6 81.6,343.5 82.0,340.3 82.4,337.1 82.8,333.8 83.3,330.5 83.7,327.2 84.1,323.9 84.6,320.7 85.0,317.5 85.4,314.4 85.9,311.5 86.3,308.8 86.7,306.2 87.2,303.9 87.6,301.7 88.0,299.9 88.5,298.3 88.9,297.1 89.3,296.1 89.8,295.5 90.2,295.1 90.6,295.1 91.1,295.3 91.5,295.7 91.9,296.2 92.3,296.9 92.8,297.8 93.2,298.8 93.6,300.0 94.1,301.3 94.5,302.8 94.9,304.4 95.4,306.2 95.8,308.0 96.2,310.0 96.7,312.0 97.1,314.1 97.5,316.3 98.0,318.5 98.4,320.8 98.8,323.1 99.3,325.4 99.7,327.7 100.1,330.1 100.5,332.4 101.0,334.7 101.4,337.0 101.8,339.2 102.3,341.4 102.7,343.6 103.1,345.7 103.6,347.7 104.0,349.7 104.4,351.6 104.9,353.4 105.3,355.2 105.7,356.9 106.2,358.5 106.6,360.0 107.0,361.4 107.5,362.8 107.9,364.1 108.3,365.3 108.7,366.4 109.2,367.5 109.6,368.5 110.0,369.4 110.5,370.2 110.9,371.0 111.3,371.8 111.8,372.4 112.2,373.1 112.6,373.6 113.1,374.1 113.5,374.6 113.9,375.0 114.4,375.4 114.8,375.8 115.2,376.1 115.7,376.4 116.1,376.6 116.5,376.9 116.9,377.1 117.4,377.2 117.8,377.4 118.2,377.6 118.7,377.7 119.1,377.8 119.5,377.9 120.0,378.0 120.4,378.0 120.8,378.1 121.3,378.2 121.7,378.2 122.1,378.2 122.6,378.3 123.0,378.3 123.4,378.3" fill="none" stroke="#00b050" stroke-width="1.15" stroke-linejoin="round" opacity="1.0"/>
<text x="186.20" y="376.24" font-size="9.60" fill="#00b050" font-weight="normal" font-style="normal" text-anchor="start" textLength="57.70" lengthAdjust="spacingAndGlyphs" stroke="#00b050" stroke-width="0.32">15Au-SP/BDDE</text>
<rect x="135.60" y="222.60" width="105.70" height="91.40" fill="none" stroke="#5a5a5a" stroke-width="1.1"/>
<text x="128.60" y="316.40" font-size="6.70" fill="#2c2c2c" font-weight="normal" font-style="normal" text-anchor="end" textLength="3.77" lengthAdjust="spacingAndGlyphs" stroke="#2c2c2c" stroke-width="0.2">0</text>
<line x1="135.60" y1="291.15" x2="138.10" y2="291.15" stroke="#5a5a5a" stroke-width="0.9"/>
<text x="128.60" y="293.55" font-size="6.70" fill="#2c2c2c" font-weight="normal" font-style="normal" text-anchor="end" textLength="9.42" lengthAdjust="spacingAndGlyphs" stroke="#2c2c2c" stroke-width="0.2">0.4</text>
<line x1="135.60" y1="268.30" x2="138.10" y2="268.30" stroke="#5a5a5a" stroke-width="0.9"/>
<text x="128.60" y="270.70" font-size="6.70" fill="#2c2c2c" font-weight="normal" font-style="normal" text-anchor="end" textLength="9.42" lengthAdjust="spacingAndGlyphs" stroke="#2c2c2c" stroke-width="0.2">0.8</text>
<line x1="135.60" y1="245.45" x2="138.10" y2="245.45" stroke="#5a5a5a" stroke-width="0.9"/>
<text x="128.60" y="247.85" font-size="6.70" fill="#2c2c2c" font-weight="normal" font-style="normal" text-anchor="end" textLength="9.42" lengthAdjust="spacingAndGlyphs" stroke="#2c2c2c" stroke-width="0.2">1.2</text>
<text x="128.60" y="225.00" font-size="6.70" fill="#2c2c2c" font-weight="normal" font-style="normal" text-anchor="end" textLength="9.42" lengthAdjust="spacingAndGlyphs" stroke="#2c2c2c" stroke-width="0.2">1.6</text>
<text x="135.60" y="325.50" font-size="6.70" fill="#2c2c2c" font-weight="normal" font-style="normal" text-anchor="middle" textLength="3.75" lengthAdjust="spacingAndGlyphs" stroke="#2c2c2c" stroke-width="0.2">0</text>
<line x1="170.83" y1="314.00" x2="170.83" y2="311.50" stroke="#5a5a5a" stroke-width="0.9"/>
<text x="170.83" y="325.50" font-size="6.70" fill="#2c2c2c" font-weight="normal" font-style="normal" text-anchor="middle" textLength="3.75" lengthAdjust="spacingAndGlyphs" stroke="#2c2c2c" stroke-width="0.2">5</text>
<line x1="206.07" y1="314.00" x2="206.07" y2="311.50" stroke="#5a5a5a" stroke-width="0.9"/>
<text x="206.07" y="325.50" font-size="6.70" fill="#2c2c2c" font-weight="normal" font-style="normal" text-anchor="middle" textLength="7.50" lengthAdjust="spacingAndGlyphs" stroke="#2c2c2c" stroke-width="0.2">10</text>
<text x="241.30" y="325.50" font-size="6.70" fill="#2c2c2c" font-weight="normal" font-style="normal" text-anchor="middle" textLength="7.50" lengthAdjust="spacingAndGlyphs" stroke="#2c2c2c" stroke-width="0.2">15</text>
<line x1="142.65" y1="300.29" x2="241.30" y2="222.60" stroke="#60d090" stroke-width="0.8"/>
<line x1="142.65" y1="302.57" x2="142.65" y2="304.86" stroke="#555" stroke-width="0.7"/>
<line x1="141.35" y1="302.57" x2="143.95" y2="302.57" stroke="#555" stroke-width="0.7"/>
<line x1="141.35" y1="304.86" x2="143.95" y2="304.86" stroke="#555" stroke-width="0.7"/>
<line x1="156.74" y1="289.44" x2="156.74" y2="291.72" stroke="#555" stroke-width="0.7"/>
<line x1="155.44" y1="289.44" x2="158.04" y2="289.44" stroke="#555" stroke-width="0.7"/>
<line x1="155.44" y1="291.72" x2="158.04" y2="291.72" stroke="#555" stroke-width="0.7"/>
<line x1="170.83" y1="275.73" x2="170.83" y2="280.30" stroke="#555" stroke-width="0.7"/>
<line x1="169.53" y1="275.73" x2="172.13" y2="275.73" stroke="#555" stroke-width="0.7"/>
<line x1="169.53" y1="280.30" x2="172.13" y2="280.30" stroke="#555" stroke-width="0.7"/>
<line x1="184.93" y1="264.87" x2="184.93" y2="267.16" stroke="#555" stroke-width="0.7"/>
<line x1="183.63" y1="264.87" x2="186.23" y2="264.87" stroke="#555" stroke-width="0.7"/>
<line x1="183.63" y1="267.16" x2="186.23" y2="267.16" stroke="#555" stroke-width="0.7"/>
<line x1="199.02" y1="253.45" x2="199.02" y2="255.73" stroke="#555" stroke-width="0.7"/>
<line x1="197.72" y1="253.45" x2="200.32" y2="253.45" stroke="#555" stroke-width="0.7"/>
<line x1="197.72" y1="255.73" x2="200.32" y2="255.73" stroke="#555" stroke-width="0.7"/>
<line x1="213.11" y1="243.74" x2="213.11" y2="246.02" stroke="#555" stroke-width="0.7"/>
<line x1="211.81" y1="243.74" x2="214.41" y2="243.74" stroke="#555" stroke-width="0.7"/>
<line x1="211.81" y1="246.02" x2="214.41" y2="246.02" stroke="#555" stroke-width="0.7"/>
<line x1="227.21" y1="233.45" x2="227.21" y2="236.88" stroke="#555" stroke-width="0.7"/>
<line x1="225.91" y1="233.45" x2="228.51" y2="233.45" stroke="#555" stroke-width="0.7"/>
<line x1="225.91" y1="236.88" x2="228.51" y2="236.88" stroke="#555" stroke-width="0.7"/>
<line x1="241.30" y1="224.88" x2="241.30" y2="227.17" stroke="#555" stroke-width="0.7"/>
<line x1="240.00" y1="224.88" x2="242.60" y2="224.88" stroke="#555" stroke-width="0.7"/>
<line x1="240.00" y1="227.17" x2="242.60" y2="227.17" stroke="#555" stroke-width="0.7"/>
<circle cx="142.65" cy="303.72" r="1.6" fill="#00b050"/>
<circle cx="156.74" cy="290.58" r="1.6" fill="#00b050"/>
<circle cx="170.83" cy="278.01" r="1.6" fill="#00b050"/>
<circle cx="184.93" cy="266.01" r="1.6" fill="#00b050"/>
<circle cx="199.02" cy="254.59" r="1.6" fill="#00b050"/>
<circle cx="213.11" cy="244.88" r="1.6" fill="#00b050"/>
<circle cx="227.21" cy="235.17" r="1.6" fill="#00b050"/>
<circle cx="241.30" cy="226.03" r="1.6" fill="#00b050"/>
<g transform="translate(112.80,230.70) rotate(-90)"><text x="0" y="2.4" font-size="6.8" font-weight="bold" text-anchor="middle" textLength="19.2" lengthAdjust="spacingAndGlyphs" fill="#222" stroke="#222" stroke-width="0.1"><tspan font-style="italic">I</tspan><tspan font-size="4.6" dy="1.5" font-style="italic">p</tspan><tspan dy="-1.5"> [μA]</tspan></text></g>
<text x="212.50" y="332.00" font-size="6.8" font-weight="bold" textLength="35.30" lengthAdjust="spacingAndGlyphs" fill="#222"><tspan font-style="italic">c</tspan> [μmol L<tspan font-size="4.6" dy="-2.2">−1</tspan><tspan dy="2.2">]</tspan></text>
<rect x="301.00" y="215.10" width="215.50" height="171.00" fill="none" stroke="#606060" stroke-width="1.2"/>
<text x="292.00" y="389.54" font-size="9.60" fill="#2c2c2c" font-weight="normal" font-style="normal" text-anchor="end" textLength="4.97" lengthAdjust="spacingAndGlyphs" stroke="#2c2c2c" stroke-width="0.32">0</text>
<line x1="301.00" y1="329.10" x2="304.00" y2="329.10" stroke="#606060" stroke-width="1"/>
<text x="292.00" y="332.54" font-size="9.60" fill="#2c2c2c" font-weight="normal" font-style="normal" text-anchor="end" textLength="4.97" lengthAdjust="spacingAndGlyphs" stroke="#2c2c2c" stroke-width="0.32">1</text>
<line x1="301.00" y1="272.10" x2="304.00" y2="272.10" stroke="#606060" stroke-width="1"/>
<text x="292.00" y="275.54" font-size="9.60" fill="#2c2c2c" font-weight="normal" font-style="normal" text-anchor="end" textLength="4.97" lengthAdjust="spacingAndGlyphs" stroke="#2c2c2c" stroke-width="0.32">2</text>
<text x="292.00" y="218.54" font-size="9.60" fill="#2c2c2c" font-weight="normal" font-style="normal" text-anchor="end" textLength="4.97" lengthAdjust="spacingAndGlyphs" stroke="#2c2c2c" stroke-width="0.32">3</text>
<text x="301.00" y="402.94" font-size="9.60" fill="#2c2c2c" font-weight="normal" font-style="normal" text-anchor="middle" textLength="17.90" lengthAdjust="spacingAndGlyphs" stroke="#2c2c2c" stroke-width="0.32">-300</text>
<line x1="344.10" y1="386.10" x2="344.10" y2="383.10" stroke="#606060" stroke-width="1"/>
<text x="344.10" y="402.94" font-size="9.60" fill="#2c2c2c" font-weight="normal" font-style="normal" text-anchor="middle" textLength="4.97" lengthAdjust="spacingAndGlyphs" stroke="#2c2c2c" stroke-width="0.32">0</text>
<line x1="387.20" y1="386.10" x2="387.20" y2="383.10" stroke="#606060" stroke-width="1"/>
<text x="387.20" y="402.94" font-size="9.60" fill="#2c2c2c" font-weight="normal" font-style="normal" text-anchor="middle" textLength="14.91" lengthAdjust="spacingAndGlyphs" stroke="#2c2c2c" stroke-width="0.32">300</text>
<line x1="430.30" y1="386.10" x2="430.30" y2="383.10" stroke="#606060" stroke-width="1"/>
<text x="430.30" y="402.94" font-size="9.60" fill="#2c2c2c" font-weight="normal" font-style="normal" text-anchor="middle" textLength="14.91" lengthAdjust="spacingAndGlyphs" stroke="#2c2c2c" stroke-width="0.32">600</text>
<line x1="473.40" y1="386.10" x2="473.40" y2="383.10" stroke="#606060" stroke-width="1"/>
<text x="473.40" y="402.94" font-size="9.60" fill="#2c2c2c" font-weight="normal" font-style="normal" text-anchor="middle" textLength="14.91" lengthAdjust="spacingAndGlyphs" stroke="#2c2c2c" stroke-width="0.32">900</text>
<text x="516.50" y="402.94" font-size="9.60" fill="#2c2c2c" font-weight="normal" font-style="normal" text-anchor="middle" textLength="19.87" lengthAdjust="spacingAndGlyphs" stroke="#2c2c2c" stroke-width="0.32">1200</text>
<g transform="translate(274.00,232.00) rotate(-90)"><text x="0" y="3.3" font-size="9.2" font-weight="bold" text-anchor="middle" textLength="22" lengthAdjust="spacingAndGlyphs" fill="#111" stroke="#111" stroke-width="0.3"><tspan font-style="italic">I</tspan> [μA]</text></g>
<text x="483.60" y="413.00" font-size="9.2" font-weight="bold" textLength="26.90" lengthAdjust="spacingAndGlyphs" fill="#111" stroke="#111" stroke-width="0.3"><tspan font-style="italic">E</tspan> [mV]</text>
<polyline points="301.0,385.0 301.4,385.0 301.9,385.0 302.3,385.0 302.7,385.0 303.2,385.0 303.6,385.0 304.0,385.0 304.4,385.0 304.9,385.0 305.3,385.0 305.7,385.0 306.2,385.0 306.6,385.0 307.0,385.0 307.5,385.0 307.9,385.0 308.3,385.0 308.8,385.0 309.2,385.0 309.6,385.0 310.1,385.0 310.5,385.0 310.9,385.0 311.3,385.0 311.8,385.0 312.2,385.0 312.6,385.0 313.1,385.0 313.5,385.0 313.9,385.0 314.4,385.0 314.8,385.0 315.2,385.0 315.7,385.0 316.1,385.0 316.5,385.0 316.9,385.0 317.4,385.0 317.8,385.0 318.2,385.0 318.7,385.0 319.1,385.0 319.5,385.0 320.0,385.0 320.4,385.0 320.8,385.0 321.3,385.0 321.7,385.0 322.1,385.0 322.6,385.0 323.0,385.0 323.4,385.0 323.8,385.0 324.3,385.0 324.7,385.0 325.1,385.0 325.6,385.0 326.0,385.0 326.4,385.0 326.9,385.0 327.3,385.0 327.7,385.0 328.2,384.9 328.6,384.9 329.0,384.9 329.4,384.9 329.9,384.9 330.3,384.9 330.7,384.9 331.2,384.9 331.6,384.9 332.0,384.9 332.5,384.9 332.9,384.9 333.3,384.9 333.8,384.8 334.2,384.8 334.6,384.8 335.0,384.8 335.5,384.7 335.9,384.7 336.3,384.7 336.8,384.6 337.2,384.6 337.6,384.5 338.1,384.5 338.5,384.4 338.9,384.3 339.4,384.2 339.8,384.2 340.2,384.1 340.7,384.0 341.1,383.9 341.5,383.8 341.9,383.7 342.4,383.5 342.8,383.4 343.2,383.3 343.7,383.1 344.1,383.0 344.5,382.9 345.0,382.7 345.4,382.6 345.8,382.4 346.3,382.3 346.7,382.1 347.1,382.0 347.5,381.9 348.0,381.7 348.4,381.6 348.8,381.5 349.3,381.4 349.7,381.3 350.1,381.2 350.6,381.1 351.0,381.0 351.4,381.0 351.9,380.9 352.3,380.9 352.7,380.9 353.2,380.9 353.6,380.9 354.0,380.9 354.4,380.9 354.9,380.9 355.3,380.9 355.7,381.0 356.2,381.0 356.6,381.1 357.0,381.1 357.5,381.2 357.9,381.2 358.3,381.3 358.8,381.3 359.2,381.4 359.6,381.5 360.0,381.5 360.5,381.6 360.9,381.7 361.3,381.8 361.8,381.8 362.2,381.9 362.6,382.0 363.1,382.0 363.5,382.1 363.9,382.2 364.4,382.3 364.8,382.3 365.2,382.4 365.6,382.4 366.1,382.5 366.5,382.6 366.9,382.6 367.4,382.7 367.8,382.7 368.2,382.8 368.7,382.8 369.1,382.9 369.5,382.9 370.0,383.0 370.4,383.0 370.8,383.0 371.3,383.1 371.7,383.1 372.1,383.1 372.5,383.2 373.0,383.2 373.4,383.2 373.8,383.2 374.3,383.3 374.7,383.3 375.1,383.3 375.6,383.3 376.0,383.3 376.4,383.4 376.9,383.4 377.3,383.4 377.7,383.4 378.1,383.4 378.6,383.4 379.0,383.4 379.4,383.4 379.9,383.4 380.3,383.5 380.7,383.5 381.2,383.5 381.6,383.5 382.0,383.5 382.5,383.5 382.9,383.5 383.3,383.5 383.8,383.5 384.2,383.5 384.6,383.5 385.0,383.5 385.5,383.5 385.9,383.5 386.3,383.5 386.8,383.5 387.2,383.5" fill="none" stroke="#548235" stroke-width="1.15" stroke-linejoin="round" opacity="1.0"/>
<polyline points="301.0,385.0 301.4,385.0 301.9,385.0 302.3,385.0 302.7,385.0 303.2,385.0 303.6,385.0 304.0,385.0 304.4,385.0 304.9,385.0 305.3,385.0 305.7,385.0 306.2,385.0 306.6,385.0 307.0,385.0 307.5,385.0 307.9,385.0 308.3,385.0 308.8,385.0 309.2,385.0 309.6,385.0 310.1,385.0 310.5,385.0 310.9,385.0 311.3,385.0 311.8,385.0 312.2,385.0 312.6,385.0 313.1,385.0 313.5,385.0 313.9,385.0 314.4,385.0 314.8,385.0 315.2,385.0 315.7,385.0 316.1,385.0 316.5,385.0 316.9,385.0 317.4,385.0 317.8,385.0 318.2,385.0 318.7,385.0 319.1,385.0 319.5,385.0 320.0,385.0 320.4,385.0 320.8,385.0 321.3,385.0 321.7,385.0 322.1,385.0 322.6,385.0 323.0,385.0 323.4,385.0 323.8,385.0 324.3,385.0 324.7,385.0 325.1,385.0 325.6,385.0 326.0,384.9 326.4,384.9 326.9,384.9 327.3,384.9 327.7,384.9 328.2,384.9 328.6,384.9 329.0,384.9 329.4,384.9 329.9,384.9 330.3,384.9 330.7,384.9 331.2,384.8 331.6,384.8 332.0,384.8 332.5,384.8 332.9,384.7 333.3,384.7 333.8,384.6 334.2,384.6 334.6,384.5 335.0,384.4 335.5,384.3 335.9,384.3 336.3,384.2 336.8,384.0 337.2,383.9 337.6,383.8 338.1,383.6 338.5,383.4 338.9,383.2 339.4,383.0 339.8,382.8 340.2,382.6 340.7,382.3 341.1,382.0 341.5,381.7 341.9,381.4 342.4,381.1 342.8,380.8 343.2,380.4 343.7,380.0 344.1,379.7 344.5,379.3 345.0,378.9 345.4,378.5 345.8,378.1 346.3,377.7 346.7,377.3 347.1,376.9 347.5,376.6 348.0,376.2 348.4,375.9 348.8,375.5 349.3,375.2 349.7,375.0 350.1,374.7 350.6,374.5 351.0,374.3 351.4,374.2 351.9,374.1 352.3,374.0 352.7,374.0 353.2,374.0 353.6,374.0 354.0,374.0 354.4,374.1 354.9,374.1 355.3,374.2 355.7,374.3 356.2,374.4 356.6,374.6 357.0,374.7 357.5,374.9 357.9,375.1 358.3,375.3 358.8,375.5 359.2,375.7 359.6,375.9 360.0,376.1 360.5,376.3 360.9,376.5 361.3,376.8 361.8,377.0 362.2,377.2 362.6,377.5 363.1,377.7 363.5,377.9 363.9,378.1 364.4,378.4 364.8,378.6 365.2,378.8 365.6,379.0 366.1,379.2 366.5,379.4 366.9,379.6 367.4,379.7 367.8,379.9 368.2,380.1 368.7,380.2 369.1,380.4 369.5,380.5 370.0,380.7 370.4,380.8 370.8,380.9 371.3,381.1 371.7,381.2 372.1,381.3 372.5,381.4 373.0,381.5 373.4,381.6 373.8,381.6 374.3,381.7 374.7,381.8 375.1,381.8 375.6,381.9 376.0,382.0 376.4,382.0 376.9,382.1 377.3,382.1 377.7,382.1 378.1,382.2 378.6,382.2 379.0,382.2 379.4,382.3 379.9,382.3 380.3,382.3 380.7,382.3 381.2,382.3 381.6,382.3 382.0,382.4 382.5,382.4 382.9,382.4 383.3,382.4 383.8,382.4 384.2,382.4 384.6,382.4 385.0,382.4 385.5,382.4 385.9,382.4 386.3,382.4 386.8,382.4 387.2,382.4" fill="none" stroke="#548235" stroke-width="1.15" stroke-linejoin="round" opacity="1.0"/>
<polyline points="301.0,385.0 301.4,385.0 301.9,385.0 302.3,385.0 302.7,385.0 303.2,385.0 303.6,385.0 304.0,385.0 304.4,385.0 304.9,385.0 305.3,385.0 305.7,385.0 306.2,385.0 306.6,385.0 307.0,385.0 307.5,385.0 307.9,385.0 308.3,385.0 308.8,385.0 309.2,385.0 309.6,385.0 310.1,385.0 310.5,385.0 310.9,385.0 311.3,385.0 311.8,385.0 312.2,385.0 312.6,385.0 313.1,385.0 313.5,385.0 313.9,385.0 314.4,385.0 314.8,385.0 315.2,385.0 315.7,385.0 316.1,385.0 316.5,385.0 316.9,385.0 317.4,385.0 317.8,385.0 318.2,385.0 318.7,385.0 319.1,385.0 319.5,385.0 320.0,385.0 320.4,385.0 320.8,385.0 321.3,385.0 321.7,385.0 322.1,385.0 322.6,385.0 323.0,385.0 323.4,385.0 323.8,385.0 324.3,385.0 324.7,385.0 325.1,384.9 325.6,384.9 326.0,384.9 326.4,384.9 326.9,384.9 327.3,384.9 327.7,384.9 328.2,384.9 328.6,384.9 329.0,384.9 329.4,384.9 329.9,384.8 330.3,384.8 330.7,384.8 331.2,384.8 331.6,384.7 332.0,384.7 332.5,384.6 332.9,384.6 333.3,384.5 333.8,384.4 334.2,384.3 334.6,384.2 335.0,384.1 335.5,384.0 335.9,383.8 336.3,383.7 336.8,383.5 337.2,383.3 337.6,383.1 338.1,382.8 338.5,382.5 338.9,382.2 339.4,381.9 339.8,381.6 340.2,381.2 340.7,380.8 341.1,380.3 341.5,379.9 341.9,379.4 342.4,378.9 342.8,378.3 343.2,377.8 343.7,377.2 344.1,376.6 344.5,376.0 345.0,375.4 345.4,374.8 345.8,374.1 346.3,373.5 346.7,372.9 347.1,372.3 347.5,371.7 348.0,371.1 348.4,370.6 348.8,370.1 349.3,369.6 349.7,369.2 350.1,368.8 350.6,368.5 351.0,368.2 351.4,368.0 351.9,367.8 352.3,367.7 352.7,367.6 353.2,367.6 353.6,367.7 354.0,367.7 354.4,367.8 354.9,367.9 355.3,368.1 355.7,368.2 356.2,368.4 356.6,368.6 357.0,368.9 357.5,369.2 357.9,369.4 358.3,369.7 358.8,370.1 359.2,370.4 359.6,370.7 360.0,371.1 360.5,371.5 360.9,371.8 361.3,372.2 361.8,372.6 362.2,372.9 362.6,373.3 363.1,373.7 363.5,374.1 363.9,374.4 364.4,374.8 364.8,375.1 365.2,375.5 365.6,375.8 366.1,376.1 366.5,376.5 366.9,376.8 367.4,377.1 367.8,377.3 368.2,377.6 368.7,377.9 369.1,378.1 369.5,378.4 370.0,378.6 370.4,378.8 370.8,379.0 371.3,379.2 371.7,379.4 372.1,379.6 372.5,379.7 373.0,379.9 373.4,380.0 373.8,380.2 374.3,380.3 374.7,380.4 375.1,380.5 375.6,380.6 376.0,380.7 376.4,380.8 376.9,380.8 377.3,380.9 377.7,381.0 378.1,381.0 378.6,381.1 379.0,381.1 379.4,381.2 379.9,381.2 380.3,381.2 380.7,381.3 381.2,381.3 381.6,381.3 382.0,381.3 382.5,381.4 382.9,381.4 383.3,381.4 383.8,381.4 384.2,381.4 384.6,381.4 385.0,381.4 385.5,381.4 385.9,381.4 386.3,381.4 386.8,381.5 387.2,381.5" fill="none" stroke="#548235" stroke-width="1.15" stroke-linejoin="round" opacity="1.0"/>
<polyline points="301.0,385.0 301.4,385.0 301.9,385.0 302.3,385.0 302.7,385.0 303.2,385.0 303.6,385.0 304.0,385.0 304.4,385.0 304.9,385.0 305.3,385.0 305.7,385.0 306.2,385.0 306.6,385.0 307.0,385.0 307.5,385.0 307.9,385.0 308.3,385.0 308.8,385.0 309.2,385.0 309.6,385.0 310.1,385.0 310.5,385.0 310.9,385.0 311.3,385.0 311.8,385.0 312.2,385.0 312.6,385.0 313.1,385.0 313.5,385.0 313.9,385.0 314.4,385.0 314.8,385.0 315.2,385.0 315.7,385.0 316.1,385.0 316.5,385.0 316.9,385.0 317.4,385.0 317.8,385.0 318.2,385.0 318.7,385.0 319.1,385.0 319.5,385.0 320.0,385.0 320.4,385.0 320.8,385.0 321.3,385.0 321.7,385.0 322.1,385.0 322.6,385.0 323.0,385.0 323.4,385.0 323.8,385.0 324.3,385.0 324.7,384.9 325.1,384.9 325.6,384.9 326.0,384.9 326.4,384.9 326.9,384.9 327.3,384.9 327.7,384.9 328.2,384.9 328.6,384.9 329.0,384.9 329.4,384.8 329.9,384.8 330.3,384.8 330.7,384.7 331.2,384.7 331.6,384.7 332.0,384.6 332.5,384.5 332.9,384.5 333.3,384.4 333.8,384.3 334.2,384.1 334.6,384.0 335.0,383.8 335.5,383.7 335.9,383.5 336.3,383.3 336.8,383.0 337.2,382.7 337.6,382.4 338.1,382.1 338.5,381.7 338.9,381.3 339.4,380.9 339.8,380.4 340.2,379.9 340.7,379.4 341.1,378.8 341.5,378.2 341.9,377.5 342.4,376.8 342.8,376.1 343.2,375.4 343.7,374.6 344.1,373.8 344.5,373.0 345.0,372.2 345.4,371.4 345.8,370.5 346.3,369.7 346.7,368.9 347.1,368.1 347.5,367.3 348.0,366.5 348.4,365.8 348.8,365.1 349.3,364.5 349.7,363.9 350.1,363.4 350.6,363.0 351.0,362.6 351.4,362.3 351.9,362.1 352.3,361.9 352.7,361.9 353.2,361.9 353.6,361.9 354.0,362.0 354.4,362.1 354.9,362.3 355.3,362.5 355.7,362.7 356.2,363.0 356.6,363.3 357.0,363.6 357.5,363.9 357.9,364.3 358.3,364.7 358.8,365.2 359.2,365.6 359.6,366.1 360.0,366.5 360.5,367.0 360.9,367.5 361.3,368.0 361.8,368.5 362.2,369.0 362.6,369.5 363.1,370.1 363.5,370.5 363.9,371.0 364.4,371.5 364.8,372.0 365.2,372.5 365.6,372.9 366.1,373.4 366.5,373.8 366.9,374.2 367.4,374.6 367.8,375.0 368.2,375.4 368.7,375.7 369.1,376.1 369.5,376.4 370.0,376.7 370.4,377.0 370.8,377.3 371.3,377.5 371.7,377.8 372.1,378.0 372.5,378.2 373.0,378.4 373.4,378.6 373.8,378.8 374.3,379.0 374.7,379.1 375.1,379.3 375.6,379.4 376.0,379.5 376.4,379.6 376.9,379.7 377.3,379.8 377.7,379.9 378.1,380.0 378.6,380.1 379.0,380.1 379.4,380.2 379.9,380.2 380.3,380.3 380.7,380.3 381.2,380.4 381.6,380.4 382.0,380.4 382.5,380.4 382.9,380.5 383.3,380.5 383.8,380.5 384.2,380.5 384.6,380.5 385.0,380.5 385.5,380.5 385.9,380.6 386.3,380.6 386.8,380.6 387.2,380.6" fill="none" stroke="#548235" stroke-width="1.15" stroke-linejoin="round" opacity="1.0"/>
<polyline points="301.0,385.0 301.4,385.0 301.9,385.0 302.3,385.0 302.7,385.0 303.2,385.0 303.6,385.0 304.0,385.0 304.4,385.0 304.9,385.0 305.3,385.0 305.7,385.0 306.2,385.0 306.6,385.0 307.0,385.0 307.5,385.0 307.9,385.0 308.3,385.0 308.8,385.0 309.2,385.0 309.6,385.0 310.1,385.0 310.5,385.0 310.9,385.0 311.3,385.0 311.8,385.0 312.2,385.0 312.6,385.0 313.1,385.0 313.5,385.0 313.9,385.0 314.4,385.0 314.8,385.0 315.2,385.0 315.7,385.0 316.1,385.0 316.5,385.0 316.9,385.0 317.4,385.0 317.8,385.0 318.2,385.0 318.7,385.0 319.1,385.0 319.5,385.0 320.0,385.0 320.4,385.0 320.8,385.0 321.3,385.0 321.7,385.0 322.1,385.0 322.6,385.0 323.0,385.0 323.4,385.0 323.8,385.0 324.3,384.9 324.7,384.9 325.1,384.9 325.6,384.9 326.0,384.9 326.4,384.9 326.9,384.9 327.3,384.9 327.7,384.9 328.2,384.9 328.6,384.9 329.0,384.8 329.4,384.8 329.9,384.8 330.3,384.7 330.7,384.7 331.2,384.6 331.6,384.6 332.0,384.5 332.5,384.4 332.9,384.3 333.3,384.2 333.8,384.1 334.2,384.0 334.6,383.8 335.0,383.6 335.5,383.4 335.9,383.1 336.3,382.9 336.8,382.6 337.2,382.2 337.6,381.9 338.1,381.5 338.5,381.0 338.9,380.5 339.4,380.0 339.8,379.4 340.2,378.8 340.7,378.1 341.1,377.4 341.5,376.7 341.9,375.9 342.4,375.0 342.8,374.1 343.2,373.2 343.7,372.3 344.1,371.3 344.5,370.3 345.0,369.3 345.4,368.3 345.8,367.3 346.3,366.3 346.7,365.2 347.1,364.3 347.5,363.3 348.0,362.4 348.4,361.5 348.8,360.7 349.3,359.9 349.7,359.2 350.1,358.6 350.6,358.1 351.0,357.6 351.4,357.2 351.9,357.0 352.3,356.8 352.7,356.7 353.2,356.7 353.6,356.7 354.0,356.8 354.4,357.0 354.9,357.2 355.3,357.4 355.7,357.7 356.2,358.0 356.6,358.4 357.0,358.8 357.5,359.2 357.9,359.7 358.3,360.2 358.8,360.7 359.2,361.3 359.6,361.9 360.0,362.5 360.5,363.1 360.9,363.7 361.3,364.3 361.8,364.9 362.2,365.5 362.6,366.2 363.1,366.8 363.5,367.4 363.9,368.0 364.4,368.6 364.8,369.2 365.2,369.8 365.6,370.3 366.1,370.9 366.5,371.4 366.9,371.9 367.4,372.4 367.8,372.9 368.2,373.3 368.7,373.8 369.1,374.2 369.5,374.6 370.0,375.0 370.4,375.4 370.8,375.7 371.3,376.0 371.7,376.3 372.1,376.6 372.5,376.9 373.0,377.2 373.4,377.4 373.8,377.6 374.3,377.8 374.7,378.0 375.1,378.2 375.6,378.3 376.0,378.5 376.4,378.6 376.9,378.7 377.3,378.9 377.7,379.0 378.1,379.1 378.6,379.1 379.0,379.2 379.4,379.3 379.9,379.4 380.3,379.4 380.7,379.5 381.2,379.5 381.6,379.5 382.0,379.6 382.5,379.6 382.9,379.6 383.3,379.7 383.8,379.7 384.2,379.7 384.6,379.7 385.0,379.7 385.5,379.7 385.9,379.8 386.3,379.8 386.8,379.8 387.2,379.8" fill="none" stroke="#548235" stroke-width="1.15" stroke-linejoin="round" opacity="1.0"/>
<polyline points="301.0,385.0 301.4,385.0 301.9,385.0 302.3,385.0 302.7,385.0 303.2,385.0 303.6,385.0 304.0,385.0 304.4,385.0 304.9,385.0 305.3,385.0 305.7,385.0 306.2,385.0 306.6,385.0 307.0,385.0 307.5,385.0 307.9,385.0 308.3,385.0 308.8,385.0 309.2,385.0 309.6,385.0 310.1,385.0 310.5,385.0 310.9,385.0 311.3,385.0 311.8,385.0 312.2,385.0 312.6,385.0 313.1,385.0 313.5,385.0 313.9,385.0 314.4,385.0 314.8,385.0 315.2,385.0 315.7,385.0 316.1,385.0 316.5,385.0 316.9,385.0 317.4,385.0 317.8,385.0 318.2,385.0 318.7,385.0 319.1,385.0 319.5,385.0 320.0,385.0 320.4,385.0 320.8,385.0 321.3,385.0 321.7,385.0 322.1,385.0 322.6,385.0 323.0,385.0 323.4,385.0 323.8,384.9 324.3,384.9 324.7,384.9 325.1,384.9 325.6,384.9 326.0,384.9 326.4,384.9 326.9,384.9 327.3,384.9 327.7,384.9 328.2,384.9 328.6,384.8 329.0,384.8 329.4,384.8 329.9,384.7 330.3,384.7 330.7,384.7 331.2,384.6 331.6,384.5 332.0,384.4 332.5,384.3 332.9,384.2 333.3,384.1 333.8,383.9 334.2,383.8 334.6,383.6 335.0,383.3 335.5,383.1 335.9,382.8 336.3,382.5 336.8,382.1 337.2,381.7 337.6,381.3 338.1,380.8 338.5,380.3 338.9,379.7 339.4,379.1 339.8,378.4 340.2,377.7 340.7,376.9 341.1,376.0 341.5,375.1 341.9,374.2 342.4,373.2 342.8,372.2 343.2,371.1 343.7,370.0 344.1,368.8 344.5,367.6 345.0,366.4 345.4,365.2 345.8,364.0 346.3,362.8 346.7,361.6 347.1,360.5 347.5,359.3 348.0,358.2 348.4,357.2 348.8,356.2 349.3,355.3 349.7,354.5 350.1,353.8 350.6,353.1 351.0,352.6 351.4,352.1 351.9,351.8 352.3,351.6 352.7,351.5 353.2,351.5 353.6,351.6 354.0,351.7 354.4,351.9 354.9,352.1 355.3,352.4 355.7,352.7 356.2,353.1 356.6,353.5 357.0,354.0 357.5,354.5 357.9,355.1 358.3,355.7 358.8,356.3 359.2,357.0 359.6,357.7 360.0,358.4 360.5,359.1 360.9,359.8 361.3,360.5 361.8,361.3 362.2,362.0 362.6,362.8 363.1,363.5 363.5,364.2 363.9,365.0 364.4,365.7 364.8,366.4 365.2,367.1 365.6,367.7 366.1,368.4 366.5,369.0 366.9,369.6 367.4,370.2 367.8,370.8 368.2,371.3 368.7,371.9 369.1,372.4 369.5,372.8 370.0,373.3 370.4,373.7 370.8,374.1 371.3,374.5 371.7,374.9 372.1,375.2 372.5,375.6 373.0,375.9 373.4,376.1 373.8,376.4 374.3,376.6 374.7,376.9 375.1,377.1 375.6,377.3 376.0,377.4 376.4,377.6 376.9,377.8 377.3,377.9 377.7,378.0 378.1,378.1 378.6,378.2 379.0,378.3 379.4,378.4 379.9,378.5 380.3,378.5 380.7,378.6 381.2,378.7 381.6,378.7 382.0,378.7 382.5,378.8 382.9,378.8 383.3,378.8 383.8,378.9 384.2,378.9 384.6,378.9 385.0,378.9 385.5,378.9 385.9,379.0 386.3,379.0 386.8,379.0 387.2,379.0" fill="none" stroke="#548235" stroke-width="1.15" stroke-linejoin="round" opacity="1.0"/>
<polyline points="301.0,385.0 301.4,385.0 301.9,385.0 302.3,385.0 302.7,385.0 303.2,385.0 303.6,385.0 304.0,385.0 304.4,385.0 304.9,385.0 305.3,385.0 305.7,385.0 306.2,385.0 306.6,385.0 307.0,385.0 307.5,385.0 307.9,385.0 308.3,385.0 308.8,385.0 309.2,385.0 309.6,385.0 310.1,385.0 310.5,385.0 310.9,385.0 311.3,385.0 311.8,385.0 312.2,385.0 312.6,385.0 313.1,385.0 313.5,385.0 313.9,385.0 314.4,385.0 314.8,385.0 315.2,385.0 315.7,385.0 316.1,385.0 316.5,385.0 316.9,385.0 317.4,385.0 317.8,385.0 318.2,385.0 318.7,385.0 319.1,385.0 319.5,385.0 320.0,385.0 320.4,385.0 320.8,385.0 321.3,385.0 321.7,385.0 322.1,385.0 322.6,385.0 323.0,385.0 323.4,385.0 323.8,384.9 324.3,384.9 324.7,384.9 325.1,384.9 325.6,384.9 326.0,384.9 326.4,384.9 326.9,384.9 327.3,384.9 327.7,384.9 328.2,384.8 328.6,384.8 329.0,384.8 329.4,384.8 329.9,384.7 330.3,384.7 330.7,384.6 331.2,384.5 331.6,384.4 332.0,384.4 332.5,384.2 332.9,384.1 333.3,384.0 333.8,383.8 334.2,383.6 334.6,383.4 335.0,383.1 335.5,382.8 335.9,382.5 336.3,382.1 336.8,381.7 337.2,381.2 337.6,380.7 338.1,380.2 338.5,379.6 338.9,378.9 339.4,378.2 339.8,377.4 340.2,376.5 340.7,375.6 341.1,374.6 341.5,373.6 341.9,372.5 342.4,371.4 342.8,370.2 343.2,368.9 343.7,367.6 344.1,366.3 344.5,364.9 345.0,363.6 345.4,362.2 345.8,360.8 346.3,359.4 346.7,358.0 347.1,356.7 347.5,355.4 348.0,354.1 348.4,352.9 348.8,351.8 349.3,350.7 349.7,349.8 350.1,348.9 350.6,348.2 351.0,347.6 351.4,347.1 351.9,346.7 352.3,346.4 352.7,346.3 353.2,346.3 353.6,346.4 354.0,346.5 354.4,346.7 354.9,347.0 355.3,347.3 355.7,347.7 356.2,348.2 356.6,348.7 357.0,349.2 357.5,349.9 357.9,350.5 358.3,351.2 358.8,351.9 359.2,352.7 359.6,353.5 360.0,354.3 360.5,355.1 360.9,355.9 361.3,356.8 361.8,357.7 362.2,358.5 362.6,359.4 363.1,360.2 363.5,361.1 363.9,361.9 364.4,362.8 364.8,363.6 365.2,364.4 365.6,365.1 366.1,365.9 366.5,366.6 366.9,367.3 367.4,368.0 367.8,368.7 368.2,369.3 368.7,369.9 369.1,370.5 369.5,371.1 370.0,371.6 370.4,372.1 370.8,372.6 371.3,373.0 371.7,373.4 372.1,373.8 372.5,374.2 373.0,374.6 373.4,374.9 373.8,375.2 374.3,375.5 374.7,375.7 375.1,376.0 375.6,376.2 376.0,376.4 376.4,376.6 376.9,376.8 377.3,376.9 377.7,377.1 378.1,377.2 378.6,377.3 379.0,377.4 379.4,377.5 379.9,377.6 380.3,377.7 380.7,377.7 381.2,377.8 381.6,377.9 382.0,377.9 382.5,378.0 382.9,378.0 383.3,378.0 383.8,378.1 384.2,378.1 384.6,378.1 385.0,378.1 385.5,378.1 385.9,378.2 386.3,378.2 386.8,378.2 387.2,378.2" fill="none" stroke="#548235" stroke-width="1.15" stroke-linejoin="round" opacity="1.0"/>
<polyline points="301.0,385.0 301.4,385.0 301.9,385.0 302.3,385.0 302.7,385.0 303.2,385.0 303.6,385.0 304.0,385.0 304.4,385.0 304.9,385.0 305.3,385.0 305.7,385.0 306.2,385.0 306.6,385.0 307.0,385.0 307.5,385.0 307.9,385.0 308.3,385.0 308.8,385.0 309.2,385.0 309.6,385.0 310.1,385.0 310.5,385.0 310.9,385.0 311.3,385.0 311.8,385.0 312.2,385.0 312.6,385.0 313.1,385.0 313.5,385.0 313.9,385.0 314.4,385.0 314.8,385.0 315.2,385.0 315.7,385.0 316.1,385.0 316.5,385.0 316.9,385.0 317.4,385.0 317.8,385.0 318.2,385.0 318.7,385.0 319.1,385.0 319.5,385.0 320.0,385.0 320.4,385.0 320.8,385.0 321.3,385.0 321.7,385.0 322.1,385.0 322.6,385.0 323.0,385.0 323.4,384.9 323.8,384.9 324.3,384.9 324.7,384.9 325.1,384.9 325.6,384.9 326.0,384.9 326.4,384.9 326.9,384.9 327.3,384.9 327.7,384.9 328.2,384.8 328.6,384.8 329.0,384.8 329.4,384.7 329.9,384.7 330.3,384.6 330.7,384.6 331.2,384.5 331.6,384.4 332.0,384.3 332.5,384.2 332.9,384.0 333.3,383.8 333.8,383.6 334.2,383.4 334.6,383.2 335.0,382.9 335.5,382.6 335.9,382.2 336.3,381.8 336.8,381.3 337.2,380.8 337.6,380.2 338.1,379.6 338.5,378.9 338.9,378.2 339.4,377.4 339.8,376.5 340.2,375.5 340.7,374.5 341.1,373.4 341.5,372.3 341.9,371.0 342.4,369.8 342.8,368.4 343.2,367.0 343.7,365.6 344.1,364.1 344.5,362.6 345.0,361.0 345.4,359.5 345.8,357.9 346.3,356.3 346.7,354.8 347.1,353.3 347.5,351.8 348.0,350.4 348.4,349.1 348.8,347.8 349.3,346.6 349.7,345.6 350.1,344.6 350.6,343.8 351.0,343.1 351.4,342.5 351.9,342.1 352.3,341.8 352.7,341.7 353.2,341.7 353.6,341.8 354.0,341.9 354.4,342.2 354.9,342.5 355.3,342.8 355.7,343.3 356.2,343.8 356.6,344.4 357.0,345.0 357.5,345.7 357.9,346.4 358.3,347.2 358.8,348.0 359.2,348.9 359.6,349.7 360.0,350.6 360.5,351.6 360.9,352.5 361.3,353.5 361.8,354.4 362.2,355.4 362.6,356.4 363.1,357.3 363.5,358.3 363.9,359.2 364.4,360.2 364.8,361.1 365.2,362.0 365.6,362.8 366.1,363.7 366.5,364.5 366.9,365.3 367.4,366.1 367.8,366.8 368.2,367.5 368.7,368.2 369.1,368.9 369.5,369.5 370.0,370.1 370.4,370.6 370.8,371.2 371.3,371.7 371.7,372.1 372.1,372.6 372.5,373.0 373.0,373.4 373.4,373.8 373.8,374.1 374.3,374.4 374.7,374.7 375.1,375.0 375.6,375.2 376.0,375.5 376.4,375.7 376.9,375.9 377.3,376.1 377.7,376.2 378.1,376.4 378.6,376.5 379.0,376.6 379.4,376.7 379.9,376.8 380.3,376.9 380.7,377.0 381.2,377.1 381.6,377.1 382.0,377.2 382.5,377.2 382.9,377.3 383.3,377.3 383.8,377.3 384.2,377.4 384.6,377.4 385.0,377.4 385.5,377.4 385.9,377.4 386.3,377.5 386.8,377.5 387.2,377.5" fill="none" stroke="#548235" stroke-width="1.15" stroke-linejoin="round" opacity="1.0"/>
<text x="441.50" y="375.34" font-size="9.60" fill="#629044" font-weight="normal" font-style="normal" text-anchor="start" textLength="58.20" lengthAdjust="spacingAndGlyphs" stroke="#629044" stroke-width="0.32">50Au-SP/BDDE</text>
<rect x="403.40" y="222.00" width="100.40" height="90.90" fill="none" stroke="#5a5a5a" stroke-width="1.1"/>
<text x="396.40" y="315.30" font-size="6.70" fill="#2c2c2c" font-weight="normal" font-style="normal" text-anchor="end" textLength="3.77" lengthAdjust="spacingAndGlyphs" stroke="#2c2c2c" stroke-width="0.2">0</text>
<line x1="403.40" y1="290.17" x2="405.90" y2="290.17" stroke="#5a5a5a" stroke-width="0.9"/>
<text x="396.40" y="292.57" font-size="6.70" fill="#2c2c2c" font-weight="normal" font-style="normal" text-anchor="end" textLength="13.19" lengthAdjust="spacingAndGlyphs" stroke="#2c2c2c" stroke-width="0.2">0.25</text>
<line x1="403.40" y1="267.45" x2="405.90" y2="267.45" stroke="#5a5a5a" stroke-width="0.9"/>
<text x="396.40" y="269.85" font-size="6.70" fill="#2c2c2c" font-weight="normal" font-style="normal" text-anchor="end" textLength="9.42" lengthAdjust="spacingAndGlyphs" stroke="#2c2c2c" stroke-width="0.2">0.5</text>
<line x1="403.40" y1="244.72" x2="405.90" y2="244.72" stroke="#5a5a5a" stroke-width="0.9"/>
<text x="396.40" y="247.12" font-size="6.70" fill="#2c2c2c" font-weight="normal" font-style="normal" text-anchor="end" textLength="13.19" lengthAdjust="spacingAndGlyphs" stroke="#2c2c2c" stroke-width="0.2">0.75</text>
<text x="396.40" y="224.40" font-size="6.70" fill="#2c2c2c" font-weight="normal" font-style="normal" text-anchor="end" textLength="3.77" lengthAdjust="spacingAndGlyphs" stroke="#2c2c2c" stroke-width="0.2">1</text>
<text x="403.40" y="324.80" font-size="6.70" fill="#2c2c2c" font-weight="normal" font-style="normal" text-anchor="middle" textLength="3.75" lengthAdjust="spacingAndGlyphs" stroke="#2c2c2c" stroke-width="0.2">0</text>
<line x1="436.87" y1="312.90" x2="436.87" y2="310.40" stroke="#5a5a5a" stroke-width="0.9"/>
<text x="436.87" y="324.80" font-size="6.70" fill="#2c2c2c" font-weight="normal" font-style="normal" text-anchor="middle" textLength="3.75" lengthAdjust="spacingAndGlyphs" stroke="#2c2c2c" stroke-width="0.2">5</text>
<line x1="470.33" y1="312.90" x2="470.33" y2="310.40" stroke="#5a5a5a" stroke-width="0.9"/>
<text x="470.33" y="324.80" font-size="6.70" fill="#2c2c2c" font-weight="normal" font-style="normal" text-anchor="middle" textLength="7.50" lengthAdjust="spacingAndGlyphs" stroke="#2c2c2c" stroke-width="0.2">10</text>
<text x="503.80" y="324.80" font-size="6.70" fill="#2c2c2c" font-weight="normal" font-style="normal" text-anchor="middle" textLength="7.50" lengthAdjust="spacingAndGlyphs" stroke="#2c2c2c" stroke-width="0.2">15</text>
<line x1="410.09" y1="301.08" x2="503.80" y2="236.54" stroke="#8ab870" stroke-width="0.8"/>
<line x1="410.09" y1="301.99" x2="410.09" y2="303.81" stroke="#555" stroke-width="0.7"/>
<line x1="408.79" y1="301.99" x2="411.39" y2="301.99" stroke="#555" stroke-width="0.7"/>
<line x1="408.79" y1="303.81" x2="411.39" y2="303.81" stroke="#555" stroke-width="0.7"/>
<line x1="423.48" y1="290.17" x2="423.48" y2="291.99" stroke="#555" stroke-width="0.7"/>
<line x1="422.18" y1="290.17" x2="424.78" y2="290.17" stroke="#555" stroke-width="0.7"/>
<line x1="422.18" y1="291.99" x2="424.78" y2="291.99" stroke="#555" stroke-width="0.7"/>
<line x1="436.87" y1="280.18" x2="436.87" y2="283.81" stroke="#555" stroke-width="0.7"/>
<line x1="435.57" y1="280.18" x2="438.17" y2="280.18" stroke="#555" stroke-width="0.7"/>
<line x1="435.57" y1="283.81" x2="438.17" y2="283.81" stroke="#555" stroke-width="0.7"/>
<line x1="450.25" y1="270.18" x2="450.25" y2="275.63" stroke="#555" stroke-width="0.7"/>
<line x1="448.95" y1="270.18" x2="451.55" y2="270.18" stroke="#555" stroke-width="0.7"/>
<line x1="448.95" y1="275.63" x2="451.55" y2="275.63" stroke="#555" stroke-width="0.7"/>
<line x1="463.64" y1="260.18" x2="463.64" y2="267.45" stroke="#555" stroke-width="0.7"/>
<line x1="462.34" y1="260.18" x2="464.94" y2="260.18" stroke="#555" stroke-width="0.7"/>
<line x1="462.34" y1="267.45" x2="464.94" y2="267.45" stroke="#555" stroke-width="0.7"/>
<line x1="477.03" y1="252.00" x2="477.03" y2="259.27" stroke="#555" stroke-width="0.7"/>
<line x1="475.73" y1="252.00" x2="478.33" y2="252.00" stroke="#555" stroke-width="0.7"/>
<line x1="475.73" y1="259.27" x2="478.33" y2="259.27" stroke="#555" stroke-width="0.7"/>
<line x1="490.41" y1="242.91" x2="490.41" y2="250.18" stroke="#555" stroke-width="0.7"/>
<line x1="489.11" y1="242.91" x2="491.71" y2="242.91" stroke="#555" stroke-width="0.7"/>
<line x1="489.11" y1="250.18" x2="491.71" y2="250.18" stroke="#555" stroke-width="0.7"/>
<line x1="503.80" y1="232.91" x2="503.80" y2="243.82" stroke="#555" stroke-width="0.7"/>
<line x1="502.50" y1="232.91" x2="505.10" y2="232.91" stroke="#555" stroke-width="0.7"/>
<line x1="502.50" y1="243.82" x2="505.10" y2="243.82" stroke="#555" stroke-width="0.7"/>
<circle cx="410.09" cy="302.90" r="1.6" fill="#548235"/>
<circle cx="423.48" cy="291.08" r="1.6" fill="#548235"/>
<circle cx="436.87" cy="281.99" r="1.6" fill="#548235"/>
<circle cx="450.25" cy="272.90" r="1.6" fill="#548235"/>
<circle cx="463.64" cy="263.81" r="1.6" fill="#548235"/>
<circle cx="477.03" cy="255.63" r="1.6" fill="#548235"/>
<circle cx="490.41" cy="246.54" r="1.6" fill="#548235"/>
<circle cx="503.80" cy="238.36" r="1.6" fill="#548235"/>
<g transform="translate(374.80,229.90) rotate(-90)"><text x="0" y="2.4" font-size="6.8" font-weight="bold" text-anchor="middle" textLength="19.2" lengthAdjust="spacingAndGlyphs" fill="#222" stroke="#222" stroke-width="0.1"><tspan font-style="italic">I</tspan><tspan font-size="4.6" dy="1.5" font-style="italic">p</tspan><tspan dy="-1.5"> [μA]</tspan></text></g>
<text x="474.00" y="331.60" font-size="6.8" font-weight="bold" textLength="35.50" lengthAdjust="spacingAndGlyphs" fill="#222"><tspan font-style="italic">c</tspan> [μmol L<tspan font-size="4.6" dy="-2.2">−1</tspan><tspan dy="2.2">]</tspan></text>
<rect x="564.20" y="216.20" width="217.50" height="172.00" fill="none" stroke="#606060" stroke-width="1.2"/>
<text x="555.20" y="391.64" font-size="9.60" fill="#2c2c2c" font-weight="normal" font-style="normal" text-anchor="end" textLength="4.97" lengthAdjust="spacingAndGlyphs" stroke="#2c2c2c" stroke-width="0.32">0</text>
<line x1="564.20" y1="330.87" x2="567.20" y2="330.87" stroke="#606060" stroke-width="1"/>
<text x="555.20" y="334.30" font-size="9.60" fill="#2c2c2c" font-weight="normal" font-style="normal" text-anchor="end" textLength="4.97" lengthAdjust="spacingAndGlyphs" stroke="#2c2c2c" stroke-width="0.32">1</text>
<line x1="564.20" y1="273.53" x2="567.20" y2="273.53" stroke="#606060" stroke-width="1"/>
<text x="555.20" y="276.97" font-size="9.60" fill="#2c2c2c" font-weight="normal" font-style="normal" text-anchor="end" textLength="4.97" lengthAdjust="spacingAndGlyphs" stroke="#2c2c2c" stroke-width="0.32">2</text>
<text x="555.20" y="219.64" font-size="9.60" fill="#2c2c2c" font-weight="normal" font-style="normal" text-anchor="end" textLength="4.97" lengthAdjust="spacingAndGlyphs" stroke="#2c2c2c" stroke-width="0.32">3</text>
<text x="564.20" y="404.14" font-size="9.60" fill="#2c2c2c" font-weight="normal" font-style="normal" text-anchor="middle" textLength="17.90" lengthAdjust="spacingAndGlyphs" stroke="#2c2c2c" stroke-width="0.32">-300</text>
<line x1="607.70" y1="388.20" x2="607.70" y2="385.20" stroke="#606060" stroke-width="1"/>
<text x="607.70" y="404.14" font-size="9.60" fill="#2c2c2c" font-weight="normal" font-style="normal" text-anchor="middle" textLength="4.97" lengthAdjust="spacingAndGlyphs" stroke="#2c2c2c" stroke-width="0.32">0</text>
<line x1="651.20" y1="388.20" x2="651.20" y2="385.20" stroke="#606060" stroke-width="1"/>
<text x="651.20" y="404.14" font-size="9.60" fill="#2c2c2c" font-weight="normal" font-style="normal" text-anchor="middle" textLength="14.91" lengthAdjust="spacingAndGlyphs" stroke="#2c2c2c" stroke-width="0.32">300</text>
<line x1="694.70" y1="388.20" x2="694.70" y2="385.20" stroke="#606060" stroke-width="1"/>
<text x="694.70" y="404.14" font-size="9.60" fill="#2c2c2c" font-weight="normal" font-style="normal" text-anchor="middle" textLength="14.91" lengthAdjust="spacingAndGlyphs" stroke="#2c2c2c" stroke-width="0.32">600</text>
<line x1="738.20" y1="388.20" x2="738.20" y2="385.20" stroke="#606060" stroke-width="1"/>
<text x="738.20" y="404.14" font-size="9.60" fill="#2c2c2c" font-weight="normal" font-style="normal" text-anchor="middle" textLength="14.91" lengthAdjust="spacingAndGlyphs" stroke="#2c2c2c" stroke-width="0.32">900</text>
<text x="781.70" y="404.14" font-size="9.60" fill="#2c2c2c" font-weight="normal" font-style="normal" text-anchor="middle" textLength="19.87" lengthAdjust="spacingAndGlyphs" stroke="#2c2c2c" stroke-width="0.32">1200</text>
<g transform="translate(537.70,231.00) rotate(-90)"><text x="0" y="3.3" font-size="9.2" font-weight="bold" text-anchor="middle" textLength="22" lengthAdjust="spacingAndGlyphs" fill="#111" stroke="#111" stroke-width="0.3"><tspan font-style="italic">I</tspan> [μA]</text></g>
<text x="747.30" y="413.40" font-size="9.2" font-weight="bold" textLength="26.50" lengthAdjust="spacingAndGlyphs" fill="#111" stroke="#111" stroke-width="0.3"><tspan font-style="italic">E</tspan> [mV]</text>
<polyline points="564.2,387.7 564.6,387.7 565.1,387.7 565.5,387.7 565.9,387.7 566.4,387.7 566.8,387.7 567.2,387.7 567.7,387.7 568.1,387.7 568.6,387.7 569.0,387.7 569.4,387.7 569.9,387.7 570.3,387.7 570.7,387.7 571.2,387.7 571.6,387.7 572.0,387.7 572.5,387.7 572.9,387.7 573.3,387.7 573.8,387.7 574.2,387.7 574.6,387.7 575.1,387.7 575.5,387.7 575.9,387.7 576.4,387.7 576.8,387.7 577.2,387.7 577.7,387.7 578.1,387.7 578.6,387.7 579.0,387.7 579.4,387.7 579.9,387.7 580.3,387.7 580.7,387.7 581.2,387.7 581.6,387.7 582.0,387.7 582.5,387.7 582.9,387.7 583.3,387.7 583.8,387.7 584.2,387.7 584.6,387.7 585.1,387.7 585.5,387.7 586.0,387.7 586.4,387.7 586.8,387.7 587.3,387.7 587.7,387.7 588.1,387.7 588.6,387.7 589.0,387.7 589.4,387.7 589.9,387.7 590.3,387.7 590.7,387.7 591.2,387.7 591.6,387.7 592.0,387.7 592.5,387.7 592.9,387.7 593.3,387.7 593.8,387.7 594.2,387.6 594.7,387.6 595.1,387.6 595.5,387.6 596.0,387.6 596.4,387.6 596.8,387.5 597.3,387.5 597.7,387.5 598.1,387.4 598.6,387.4 599.0,387.3 599.4,387.3 599.9,387.2 600.3,387.2 600.7,387.1 601.2,387.0 601.6,386.9 602.0,386.8 602.5,386.7 602.9,386.6 603.4,386.5 603.8,386.3 604.2,386.2 604.7,386.0 605.1,385.8 605.5,385.6 606.0,385.3 606.4,385.1 606.8,384.8 607.3,384.5 607.7,384.2 608.1,383.9 608.6,383.6 609.0,383.2 609.4,382.8 609.9,382.5 610.3,382.1 610.7,381.7 611.2,381.3 611.6,380.9 612.1,380.6 612.5,380.2 612.9,379.8 613.4,379.5 613.8,379.1 614.2,378.8 614.7,378.5 615.1,378.2 615.5,377.9 616.0,377.7 616.4,377.5 616.8,377.2 617.3,377.0 617.7,376.8 618.1,376.7 618.6,376.5 619.0,376.4 619.4,376.2 619.9,376.1 620.3,376.0 620.8,375.8 621.2,375.7 621.6,375.6 622.1,375.5 622.5,375.4 622.9,375.3 623.4,375.1 623.8,375.0 624.2,374.9 624.7,374.8 625.1,374.7 625.5,374.5 626.0,374.4 626.4,374.2 626.8,374.1 627.3,373.9 627.7,373.7 628.1,373.5 628.6,373.3 629.0,373.1 629.5,372.9 629.9,372.7 630.3,372.4 630.8,372.2 631.2,371.9 631.6,371.6 632.1,371.4 632.5,371.1 632.9,370.8 633.4,370.5 633.8,370.2 634.2,369.9 634.7,369.7 635.1,369.4 635.5,369.1 636.0,368.8 636.4,368.5 636.8,368.3 637.3,368.0 637.7,367.8 638.2,367.6 638.6,367.4 639.0,367.2 639.5,367.0 639.9,366.9 640.3,366.8 640.8,366.7 641.2,366.6 641.6,366.6 642.1,366.5 642.5,366.5 642.9,366.6 643.4,366.6 643.8,366.7 644.2,366.8 644.7,366.9 645.1,367.1 645.5,367.2 646.0,367.4 646.4,367.6 646.9,367.9 647.3,368.1 647.7,368.4 648.2,368.6 648.6,368.9 649.0,369.2 649.5,369.4 649.9,369.7 650.3,370.0 650.8,370.3 651.2,370.6" fill="none" stroke="#ed7d31" stroke-width="1.0" stroke-linejoin="round" opacity="1.0"/>
<polyline points="564.2,387.7 564.6,387.7 565.1,387.7 565.5,387.7 565.9,387.7 566.4,387.7 566.8,387.7 567.2,387.7 567.7,387.7 568.1,387.7 568.6,387.7 569.0,387.7 569.4,387.7 569.9,387.7 570.3,387.7 570.7,387.7 571.2,387.7 571.6,387.7 572.0,387.7 572.5,387.7 572.9,387.7 573.3,387.7 573.8,387.7 574.2,387.7 574.6,387.7 575.1,387.7 575.5,387.7 575.9,387.7 576.4,387.7 576.8,387.7 577.2,387.7 577.7,387.7 578.1,387.7 578.6,387.7 579.0,387.7 579.4,387.7 579.9,387.7 580.3,387.7 580.7,387.7 581.2,387.7 581.6,387.7 582.0,387.7 582.5,387.7 582.9,387.7 583.3,387.7 583.8,387.7 584.2,387.7 584.6,387.7 585.1,387.7 585.5,387.7 586.0,387.7 586.4,387.7 586.8,387.7 587.3,387.7 587.7,387.7 588.1,387.7 588.6,387.7 589.0,387.7 589.4,387.7 589.9,387.7 590.3,387.7 590.7,387.7 591.2,387.7 591.6,387.7 592.0,387.7 592.5,387.7 592.9,387.7 593.3,387.7 593.8,387.7 594.2,387.7 594.7,387.6 595.1,387.6 595.5,387.6 596.0,387.6 596.4,387.6 596.8,387.6 597.3,387.5 597.7,387.5 598.1,387.5 598.6,387.4 599.0,387.4 599.4,387.4 599.9,387.3 600.3,387.2 600.7,387.2 601.2,387.1 601.6,387.0 602.0,386.9 602.5,386.9 602.9,386.7 603.4,386.6 603.8,386.5 604.2,386.4 604.7,386.2 605.1,386.0 605.5,385.8 606.0,385.6 606.4,385.4 606.8,385.2 607.3,384.9 607.7,384.6 608.1,384.4 608.6,384.1 609.0,383.7 609.4,383.4 609.9,383.1 610.3,382.8 610.7,382.4 611.2,382.1 611.6,381.7 612.1,381.4 612.5,381.1 612.9,380.8 613.4,380.5 613.8,380.2 614.2,379.9 614.7,379.6 615.1,379.4 615.5,379.1 616.0,378.9 616.4,378.7 616.8,378.5 617.3,378.3 617.7,378.2 618.1,378.0 618.6,377.9 619.0,377.7 619.4,377.6 619.9,377.5 620.3,377.4 620.8,377.3 621.2,377.2 621.6,377.1 622.1,377.0 622.5,376.9 622.9,376.8 623.4,376.7 623.8,376.6 624.2,376.4 624.7,376.3 625.1,376.2 625.5,376.1 626.0,376.0 626.4,375.8 626.8,375.7 627.3,375.5 627.7,375.4 628.1,375.2 628.6,375.0 629.0,374.9 629.5,374.7 629.9,374.5 630.3,374.3 630.8,374.0 631.2,373.8 631.6,373.6 632.1,373.3 632.5,373.1 632.9,372.8 633.4,372.6 633.8,372.3 634.2,372.1 634.7,371.8 635.1,371.6 635.5,371.3 636.0,371.1 636.4,370.8 636.8,370.6 637.3,370.4 637.7,370.2 638.2,370.0 638.6,369.8 639.0,369.7 639.5,369.5 639.9,369.4 640.3,369.3 640.8,369.2 641.2,369.1 641.6,369.1 642.1,369.1 642.5,369.1 642.9,369.1 643.4,369.2 643.8,369.2 644.2,369.3 644.7,369.4 645.1,369.6 645.5,369.7 646.0,369.9 646.4,370.1 646.9,370.3 647.3,370.5 647.7,370.7 648.2,370.9 648.6,371.2 649.0,371.4 649.5,371.6 649.9,371.9 650.3,372.2 650.8,372.4 651.2,372.7" fill="none" stroke="#ed7d31" stroke-width="1.0" stroke-linejoin="round" opacity="1.0"/>
<polyline points="564.2,387.7 564.6,387.7 565.1,387.7 565.5,387.7 565.9,387.7 566.4,387.7 566.8,387.7 567.2,387.7 567.7,387.7 568.1,387.7 568.6,387.7 569.0,387.7 569.4,387.7 569.9,387.7 570.3,387.7 570.7,387.7 571.2,387.7 571.6,387.7 572.0,387.7 572.5,387.7 572.9,387.7 573.3,387.7 573.8,387.7 574.2,387.7 574.6,387.7 575.1,387.7 575.5,387.7 575.9,387.7 576.4,387.7 576.8,387.7 577.2,387.7 577.7,387.7 578.1,387.7 578.6,387.7 579.0,387.7 579.4,387.7 579.9,387.7 580.3,387.7 580.7,387.7 581.2,387.7 581.6,387.7 582.0,387.7 582.5,387.7 582.9,387.7 583.3,387.7 583.8,387.7 584.2,387.7 584.6,387.7 585.1,387.7 585.5,387.7 586.0,387.7 586.4,387.7 586.8,387.7 587.3,387.7 587.7,387.7 588.1,387.7 588.6,387.7 589.0,387.7 589.4,387.7 589.9,387.7 590.3,387.7 590.7,387.7 591.2,387.7 591.6,387.7 592.0,387.7 592.5,387.7 592.9,387.7 593.3,387.7 593.8,387.7 594.2,387.7 594.7,387.7 595.1,387.6 595.5,387.6 596.0,387.6 596.4,387.6 596.8,387.6 597.3,387.6 597.7,387.5 598.1,387.5 598.6,387.5 599.0,387.4 599.4,387.4 599.9,387.4 600.3,387.3 600.7,387.3 601.2,387.2 601.6,387.1 602.0,387.0 602.5,387.0 602.9,386.9 603.4,386.8 603.8,386.7 604.2,386.5 604.7,386.4 605.1,386.2 605.5,386.1 606.0,385.9 606.4,385.7 606.8,385.5 607.3,385.3 607.7,385.0 608.1,384.8 608.6,384.5 609.0,384.2 609.4,384.0 609.9,383.7 610.3,383.4 610.7,383.1 611.2,382.8 611.6,382.5 612.1,382.2 612.5,381.9 612.9,381.6 613.4,381.4 613.8,381.1 614.2,380.9 614.7,380.6 615.1,380.4 615.5,380.2 616.0,380.0 616.4,379.8 616.8,379.7 617.3,379.5 617.7,379.4 618.1,379.2 618.6,379.1 619.0,379.0 619.4,378.9 619.9,378.8 620.3,378.7 620.8,378.6 621.2,378.5 621.6,378.4 622.1,378.3 622.5,378.2 622.9,378.1 623.4,378.0 623.8,378.0 624.2,377.9 624.7,377.8 625.1,377.7 625.5,377.6 626.0,377.4 626.4,377.3 626.8,377.2 627.3,377.1 627.7,376.9 628.1,376.8 628.6,376.6 629.0,376.5 629.5,376.3 629.9,376.1 630.3,375.9 630.8,375.8 631.2,375.6 631.6,375.3 632.1,375.1 632.5,374.9 632.9,374.7 633.4,374.5 633.8,374.3 634.2,374.0 634.7,373.8 635.1,373.6 635.5,373.4 636.0,373.2 636.4,373.0 636.8,372.8 637.3,372.6 637.7,372.4 638.2,372.2 638.6,372.1 639.0,371.9 639.5,371.8 639.9,371.7 640.3,371.6 640.8,371.5 641.2,371.5 641.6,371.4 642.1,371.4 642.5,371.4 642.9,371.4 643.4,371.5 643.8,371.5 644.2,371.6 644.7,371.7 645.1,371.8 645.5,372.0 646.0,372.1 646.4,372.3 646.9,372.4 647.3,372.6 647.7,372.8 648.2,373.0 648.6,373.2 649.0,373.4 649.5,373.7 649.9,373.9 650.3,374.1 650.8,374.3 651.2,374.5" fill="none" stroke="#ed7d31" stroke-width="1.0" stroke-linejoin="round" opacity="1.0"/>
<polyline points="564.2,387.7 564.6,387.7 565.1,387.7 565.5,387.7 565.9,387.7 566.4,387.7 566.8,387.7 567.2,387.7 567.7,387.7 568.1,387.7 568.6,387.7 569.0,387.7 569.4,387.7 569.9,387.7 570.3,387.7 570.7,387.7 571.2,387.7 571.6,387.7 572.0,387.7 572.5,387.7 572.9,387.7 573.3,387.7 573.8,387.7 574.2,387.7 574.6,387.7 575.1,387.7 575.5,387.7 575.9,387.7 576.4,387.7 576.8,387.7 577.2,387.7 577.7,387.7 578.1,387.7 578.6,387.7 579.0,387.7 579.4,387.7 579.9,387.7 580.3,387.7 580.7,387.7 581.2,387.7 581.6,387.7 582.0,387.7 582.5,387.7 582.9,387.7 583.3,387.7 583.8,387.7 584.2,387.7 584.6,387.7 585.1,387.7 585.5,387.7 586.0,387.7 586.4,387.7 586.8,387.7 587.3,387.7 587.7,387.7 588.1,387.7 588.6,387.7 589.0,387.7 589.4,387.7 589.9,387.7 590.3,387.7 590.7,387.7 591.2,387.7 591.6,387.7 592.0,387.7 592.5,387.7 592.9,387.7 593.3,387.7 593.8,387.7 594.2,387.7 594.7,387.7 595.1,387.7 595.5,387.6 596.0,387.6 596.4,387.6 596.8,387.6 597.3,387.6 597.7,387.6 598.1,387.5 598.6,387.5 599.0,387.5 599.4,387.5 599.9,387.4 600.3,387.4 600.7,387.3 601.2,387.3 601.6,387.2 602.0,387.2 602.5,387.1 602.9,387.0 603.4,386.9 603.8,386.8 604.2,386.7 604.7,386.6 605.1,386.5 605.5,386.3 606.0,386.2 606.4,386.0 606.8,385.8 607.3,385.7 607.7,385.5 608.1,385.2 608.6,385.0 609.0,384.8 609.4,384.6 609.9,384.3 610.3,384.1 610.7,383.8 611.2,383.6 611.6,383.3 612.1,383.1 612.5,382.8 612.9,382.6 613.4,382.4 613.8,382.1 614.2,381.9 614.7,381.7 615.1,381.5 615.5,381.4 616.0,381.2 616.4,381.1 616.8,380.9 617.3,380.8 617.7,380.7 618.1,380.5 618.6,380.4 619.0,380.3 619.4,380.2 619.9,380.2 620.3,380.1 620.8,380.0 621.2,379.9 621.6,379.8 622.1,379.8 622.5,379.7 622.9,379.6 623.4,379.6 623.8,379.5 624.2,379.4 624.7,379.3 625.1,379.2 625.5,379.1 626.0,379.1 626.4,379.0 626.8,378.8 627.3,378.7 627.7,378.6 628.1,378.5 628.6,378.4 629.0,378.2 629.5,378.1 629.9,377.9 630.3,377.8 630.8,377.6 631.2,377.5 631.6,377.3 632.1,377.1 632.5,376.9 632.9,376.7 633.4,376.6 633.8,376.4 634.2,376.2 634.7,376.0 635.1,375.8 635.5,375.6 636.0,375.4 636.4,375.3 636.8,375.1 637.3,374.9 637.7,374.8 638.2,374.6 638.6,374.5 639.0,374.4 639.5,374.3 639.9,374.2 640.3,374.1 640.8,374.0 641.2,374.0 641.6,374.0 642.1,374.0 642.5,374.0 642.9,374.0 643.4,374.0 643.8,374.1 644.2,374.1 644.7,374.2 645.1,374.3 645.5,374.4 646.0,374.5 646.4,374.7 646.9,374.8 647.3,375.0 647.7,375.1 648.2,375.3 648.6,375.5 649.0,375.7 649.5,375.9 649.9,376.0 650.3,376.2 650.8,376.4 651.2,376.6" fill="none" stroke="#ed7d31" stroke-width="1.0" stroke-linejoin="round" opacity="1.0"/>
<polyline points="564.2,387.7 564.6,387.7 565.1,387.7 565.5,387.7 565.9,387.7 566.4,387.7 566.8,387.7 567.2,387.7 567.7,387.7 568.1,387.7 568.6,387.7 569.0,387.7 569.4,387.7 569.9,387.7 570.3,387.7 570.7,387.7 571.2,387.7 571.6,387.7 572.0,387.7 572.5,387.7 572.9,387.7 573.3,387.7 573.8,387.7 574.2,387.7 574.6,387.7 575.1,387.7 575.5,387.7 575.9,387.7 576.4,387.7 576.8,387.7 577.2,387.7 577.7,387.7 578.1,387.7 578.6,387.7 579.0,387.7 579.4,387.7 579.9,387.7 580.3,387.7 580.7,387.7 581.2,387.7 581.6,387.7 582.0,387.7 582.5,387.7 582.9,387.7 583.3,387.7 583.8,387.7 584.2,387.7 584.6,387.7 585.1,387.7 585.5,387.7 586.0,387.7 586.4,387.7 586.8,387.7 587.3,387.7 587.7,387.7 588.1,387.7 588.6,387.7 589.0,387.7 589.4,387.7 589.9,387.7 590.3,387.7 590.7,387.7 591.2,387.7 591.6,387.7 592.0,387.7 592.5,387.7 592.9,387.7 593.3,387.7 593.8,387.7 594.2,387.7 594.7,387.7 595.1,387.7 595.5,387.7 596.0,387.7 596.4,387.6 596.8,387.6 597.3,387.6 597.7,387.6 598.1,387.6 598.6,387.6 599.0,387.5 599.4,387.5 599.9,387.5 600.3,387.4 600.7,387.4 601.2,387.4 601.6,387.3 602.0,387.3 602.5,387.2 602.9,387.1 603.4,387.1 603.8,387.0 604.2,386.9 604.7,386.8 605.1,386.7 605.5,386.6 606.0,386.4 606.4,386.3 606.8,386.2 607.3,386.0 607.7,385.8 608.1,385.7 608.6,385.5 609.0,385.3 609.4,385.1 609.9,384.9 610.3,384.7 610.7,384.5 611.2,384.3 611.6,384.1 612.1,383.9 612.5,383.7 612.9,383.5 613.4,383.3 613.8,383.1 614.2,382.9 614.7,382.8 615.1,382.6 615.5,382.5 616.0,382.3 616.4,382.2 616.8,382.1 617.3,382.0 617.7,381.9 618.1,381.8 618.6,381.7 619.0,381.6 619.4,381.5 619.9,381.4 620.3,381.4 620.8,381.3 621.2,381.2 621.6,381.2 622.1,381.1 622.5,381.1 622.9,381.0 623.4,380.9 623.8,380.9 624.2,380.8 624.7,380.7 625.1,380.7 625.5,380.6 626.0,380.5 626.4,380.4 626.8,380.4 627.3,380.3 627.7,380.2 628.1,380.1 628.6,380.0 629.0,379.8 629.5,379.7 629.9,379.6 630.3,379.5 630.8,379.3 631.2,379.2 631.6,379.1 632.1,378.9 632.5,378.8 632.9,378.6 633.4,378.4 633.8,378.3 634.2,378.1 634.7,378.0 635.1,377.8 635.5,377.7 636.0,377.5 636.4,377.4 636.8,377.2 637.3,377.1 637.7,377.0 638.2,376.9 638.6,376.7 639.0,376.6 639.5,376.6 639.9,376.5 640.3,376.4 640.8,376.4 641.2,376.3 641.6,376.3 642.1,376.3 642.5,376.3 642.9,376.3 643.4,376.3 643.8,376.4 644.2,376.4 644.7,376.5 645.1,376.6 645.5,376.7 646.0,376.8 646.4,376.9 646.9,377.0 647.3,377.1 647.7,377.3 648.2,377.4 648.6,377.6 649.0,377.7 649.5,377.9 649.9,378.0 650.3,378.2 650.8,378.3 651.2,378.5" fill="none" stroke="#ed7d31" stroke-width="1.0" stroke-linejoin="round" opacity="1.0"/>
<polyline points="564.2,387.7 564.6,387.7 565.1,387.7 565.5,387.7 565.9,387.7 566.4,387.7 566.8,387.7 567.2,387.7 567.7,387.7 568.1,387.7 568.6,387.7 569.0,387.7 569.4,387.7 569.9,387.7 570.3,387.7 570.7,387.7 571.2,387.7 571.6,387.7 572.0,387.7 572.5,387.7 572.9,387.7 573.3,387.7 573.8,387.7 574.2,387.7 574.6,387.7 575.1,387.7 575.5,387.7 575.9,387.7 576.4,387.7 576.8,387.7 577.2,387.7 577.7,387.7 578.1,387.7 578.6,387.7 579.0,387.7 579.4,387.7 579.9,387.7 580.3,387.7 580.7,387.7 581.2,387.7 581.6,387.7 582.0,387.7 582.5,387.7 582.9,387.7 583.3,387.7 583.8,387.7 584.2,387.7 584.6,387.7 585.1,387.7 585.5,387.7 586.0,387.7 586.4,387.7 586.8,387.7 587.3,387.7 587.7,387.7 588.1,387.7 588.6,387.7 589.0,387.7 589.4,387.7 589.9,387.7 590.3,387.7 590.7,387.7 591.2,387.7 591.6,387.7 592.0,387.7 592.5,387.7 592.9,387.7 593.3,387.7 593.8,387.7 594.2,387.7 594.7,387.7 595.1,387.7 595.5,387.7 596.0,387.7 596.4,387.7 596.8,387.7 597.3,387.6 597.7,387.6 598.1,387.6 598.6,387.6 599.0,387.6 599.4,387.6 599.9,387.5 600.3,387.5 600.7,387.5 601.2,387.4 601.6,387.4 602.0,387.4 602.5,387.3 602.9,387.3 603.4,387.2 603.8,387.1 604.2,387.1 604.7,387.0 605.1,386.9 605.5,386.8 606.0,386.7 606.4,386.6 606.8,386.5 607.3,386.4 607.7,386.3 608.1,386.1 608.6,386.0 609.0,385.8 609.4,385.7 609.9,385.5 610.3,385.4 610.7,385.2 611.2,385.0 611.6,384.9 612.1,384.7 612.5,384.6 612.9,384.4 613.4,384.3 613.8,384.1 614.2,384.0 614.7,383.9 615.1,383.7 615.5,383.6 616.0,383.5 616.4,383.4 616.8,383.3 617.3,383.2 617.7,383.2 618.1,383.1 618.6,383.0 619.0,383.0 619.4,382.9 619.9,382.8 620.3,382.8 620.8,382.7 621.2,382.7 621.6,382.6 622.1,382.6 622.5,382.5 622.9,382.5 623.4,382.5 623.8,382.4 624.2,382.4 624.7,382.3 625.1,382.2 625.5,382.2 626.0,382.1 626.4,382.1 626.8,382.0 627.3,381.9 627.7,381.8 628.1,381.8 628.6,381.7 629.0,381.6 629.5,381.5 629.9,381.4 630.3,381.3 630.8,381.2 631.2,381.1 631.6,381.0 632.1,380.9 632.5,380.7 632.9,380.6 633.4,380.5 633.8,380.4 634.2,380.3 634.7,380.1 635.1,380.0 635.5,379.9 636.0,379.8 636.4,379.7 636.8,379.6 637.3,379.5 637.7,379.4 638.2,379.3 638.6,379.2 639.0,379.1 639.5,379.0 639.9,379.0 640.3,378.9 640.8,378.9 641.2,378.9 641.6,378.8 642.1,378.8 642.5,378.8 642.9,378.8 643.4,378.9 643.8,378.9 644.2,378.9 644.7,379.0 645.1,379.1 645.5,379.1 646.0,379.2 646.4,379.3 646.9,379.4 647.3,379.5 647.7,379.6 648.2,379.7 648.6,379.8 649.0,379.9 649.5,380.1 649.9,380.2 650.3,380.3 650.8,380.4 651.2,380.5" fill="none" stroke="#ed7d31" stroke-width="1.0" stroke-linejoin="round" opacity="1.0"/>
<polyline points="564.2,387.7 564.6,387.7 565.1,387.7 565.5,387.7 565.9,387.7 566.4,387.7 566.8,387.7 567.2,387.7 567.7,387.7 568.1,387.7 568.6,387.7 569.0,387.7 569.4,387.7 569.9,387.7 570.3,387.7 570.7,387.7 571.2,387.7 571.6,387.7 572.0,387.7 572.5,387.7 572.9,387.7 573.3,387.7 573.8,387.7 574.2,387.7 574.6,387.7 575.1,387.7 575.5,387.7 575.9,387.7 576.4,387.7 576.8,387.7 577.2,387.7 577.7,387.7 578.1,387.7 578.6,387.7 579.0,387.7 579.4,387.7 579.9,387.7 580.3,387.7 580.7,387.7 581.2,387.7 581.6,387.7 582.0,387.7 582.5,387.7 582.9,387.7 583.3,387.7 583.8,387.7 584.2,387.7 584.6,387.7 585.1,387.7 585.5,387.7 586.0,387.7 586.4,387.7 586.8,387.7 587.3,387.7 587.7,387.7 588.1,387.7 588.6,387.7 589.0,387.7 589.4,387.7 589.9,387.7 590.3,387.7 590.7,387.7 591.2,387.7 591.6,387.7 592.0,387.7 592.5,387.7 592.9,387.7 593.3,387.7 593.8,387.7 594.2,387.7 594.7,387.7 595.1,387.7 595.5,387.7 596.0,387.7 596.4,387.7 596.8,387.7 597.3,387.7 597.7,387.7 598.1,387.6 598.6,387.6 599.0,387.6 599.4,387.6 599.9,387.6 600.3,387.6 600.7,387.5 601.2,387.5 601.6,387.5 602.0,387.5 602.5,387.4 602.9,387.4 603.4,387.3 603.8,387.3 604.2,387.3 604.7,387.2 605.1,387.1 605.5,387.1 606.0,387.0 606.4,386.9 606.8,386.8 607.3,386.7 607.7,386.6 608.1,386.5 608.6,386.4 609.0,386.3 609.4,386.2 609.9,386.1 610.3,386.0 610.7,385.9 611.2,385.7 611.6,385.6 612.1,385.5 612.5,385.4 612.9,385.3 613.4,385.2 613.8,385.1 614.2,385.0 614.7,384.9 615.1,384.8 615.5,384.7 616.0,384.6 616.4,384.6 616.8,384.5 617.3,384.4 617.7,384.4 618.1,384.3 618.6,384.3 619.0,384.2 619.4,384.2 619.9,384.1 620.3,384.1 620.8,384.0 621.2,384.0 621.6,384.0 622.1,383.9 622.5,383.9 622.9,383.9 623.4,383.8 623.8,383.8 624.2,383.8 624.7,383.7 625.1,383.7 625.5,383.6 626.0,383.6 626.4,383.5 626.8,383.5 627.3,383.4 627.7,383.4 628.1,383.3 628.6,383.3 629.0,383.2 629.5,383.1 629.9,383.1 630.3,383.0 630.8,382.9 631.2,382.8 631.6,382.8 632.1,382.7 632.5,382.6 632.9,382.5 633.4,382.4 633.8,382.3 634.2,382.2 634.7,382.1 635.1,382.0 635.5,382.0 636.0,381.9 636.4,381.8 636.8,381.7 637.3,381.6 637.7,381.6 638.2,381.5 638.6,381.4 639.0,381.4 639.5,381.3 639.9,381.3 640.3,381.2 640.8,381.2 641.2,381.2 641.6,381.2 642.1,381.2 642.5,381.2 642.9,381.2 643.4,381.2 643.8,381.2 644.2,381.3 644.7,381.3 645.1,381.3 645.5,381.4 646.0,381.4 646.4,381.5 646.9,381.6 647.3,381.7 647.7,381.7 648.2,381.8 648.6,381.9 649.0,382.0 649.5,382.1 649.9,382.2 650.3,382.2 650.8,382.3 651.2,382.4" fill="none" stroke="#ed7d31" stroke-width="1.0" stroke-linejoin="round" opacity="1.0"/>
<polyline points="564.2,387.7 564.6,387.7 565.1,387.7 565.5,387.7 565.9,387.7 566.4,387.7 566.8,387.7 567.2,387.7 567.7,387.7 568.1,387.7 568.6,387.7 569.0,387.7 569.4,387.7 569.9,387.7 570.3,387.7 570.7,387.7 571.2,387.7 571.6,387.7 572.0,387.7 572.5,387.7 572.9,387.7 573.3,387.7 573.8,387.7 574.2,387.7 574.6,387.7 575.1,387.7 575.5,387.7 575.9,387.7 576.4,387.7 576.8,387.7 577.2,387.7 577.7,387.7 578.1,387.7 578.6,387.7 579.0,387.7 579.4,387.7 579.9,387.7 580.3,387.7 580.7,387.7 581.2,387.7 581.6,387.7 582.0,387.7 582.5,387.7 582.9,387.7 583.3,387.7 583.8,387.7 584.2,387.7 584.6,387.7 585.1,387.7 585.5,387.7 586.0,387.7 586.4,387.7 586.8,387.7 587.3,387.7 587.7,387.7 588.1,387.7 588.6,387.7 589.0,387.7 589.4,387.7 589.9,387.7 590.3,387.7 590.7,387.7 591.2,387.7 591.6,387.7 592.0,387.7 592.5,387.7 592.9,387.7 593.3,387.7 593.8,387.7 594.2,387.7 594.7,387.7 595.1,387.7 595.5,387.7 596.0,387.7 596.4,387.7 596.8,387.7 597.3,387.7 597.7,387.7 598.1,387.7 598.6,387.7 599.0,387.7 599.4,387.6 599.9,387.6 600.3,387.6 600.7,387.6 601.2,387.6 601.6,387.6 602.0,387.5 602.5,387.5 602.9,387.5 603.4,387.5 603.8,387.4 604.2,387.4 604.7,387.4 605.1,387.3 605.5,387.3 606.0,387.2 606.4,387.2 606.8,387.1 607.3,387.0 607.7,387.0 608.1,386.9 608.6,386.8 609.0,386.7 609.4,386.7 609.9,386.6 610.3,386.5 610.7,386.4 611.2,386.3 611.6,386.2 612.1,386.2 612.5,386.1 612.9,386.0 613.4,385.9 613.8,385.8 614.2,385.8 614.7,385.7 615.1,385.6 615.5,385.6 616.0,385.5 616.4,385.5 616.8,385.4 617.3,385.4 617.7,385.3 618.1,385.3 618.6,385.3 619.0,385.2 619.4,385.2 619.9,385.2 620.3,385.1 620.8,385.1 621.2,385.1 621.6,385.1 622.1,385.0 622.5,385.0 622.9,385.0 623.4,385.0 623.8,384.9 624.2,384.9 624.7,384.9 625.1,384.9 625.5,384.8 626.0,384.8 626.4,384.8 626.8,384.7 627.3,384.7 627.7,384.7 628.1,384.6 628.6,384.6 629.0,384.5 629.5,384.5 629.9,384.4 630.3,384.4 630.8,384.3 631.2,384.3 631.6,384.2 632.1,384.1 632.5,384.1 632.9,384.0 633.4,384.0 633.8,383.9 634.2,383.8 634.7,383.8 635.1,383.7 635.5,383.6 636.0,383.6 636.4,383.5 636.8,383.5 637.3,383.4 637.7,383.4 638.2,383.3 638.6,383.3 639.0,383.2 639.5,383.2 639.9,383.2 640.3,383.1 640.8,383.1 641.2,383.1 641.6,383.1 642.1,383.1 642.5,383.1 642.9,383.1 643.4,383.1 643.8,383.1 644.2,383.1 644.7,383.2 645.1,383.2 645.5,383.2 646.0,383.3 646.4,383.3 646.9,383.4 647.3,383.4 647.7,383.5 648.2,383.5 648.6,383.6 649.0,383.7 649.5,383.7 649.9,383.8 650.3,383.8 650.8,383.9 651.2,384.0" fill="none" stroke="#ed7d31" stroke-width="1.0" stroke-linejoin="round" opacity="1.0"/>
<polyline points="564.2,387.7 564.6,387.7 565.1,387.7 565.5,387.7 565.9,387.7 566.4,387.7 566.8,387.7 567.2,387.7 567.7,387.7 568.1,387.7 568.6,387.7 569.0,387.7 569.4,387.7 569.9,387.7 570.3,387.7 570.7,387.7 571.2,387.7 571.6,387.7 572.0,387.7 572.5,387.7 572.9,387.7 573.3,387.7 573.8,387.7 574.2,387.7 574.6,387.7 575.1,387.7 575.5,387.7 575.9,387.7 576.4,387.7 576.8,387.7 577.2,387.7 577.7,387.7 578.1,387.7 578.6,387.7 579.0,387.7 579.4,387.7 579.9,387.7 580.3,387.7 580.7,387.7 581.2,387.7 581.6,387.7 582.0,387.7 582.5,387.7 582.9,387.7 583.3,387.7 583.8,387.7 584.2,387.7 584.6,387.7 585.1,387.7 585.5,387.7 586.0,387.7 586.4,387.7 586.8,387.7 587.3,387.7 587.7,387.7 588.1,387.7 588.6,387.7 589.0,387.7 589.4,387.7 589.9,387.7 590.3,387.7 590.7,387.7 591.2,387.7 591.6,387.7 592.0,387.7 592.5,387.7 592.9,387.7 593.3,387.7 593.8,387.7 594.2,387.7 594.7,387.7 595.1,387.7 595.5,387.7 596.0,387.7 596.4,387.7 596.8,387.7 597.3,387.7 597.7,387.7 598.1,387.7 598.6,387.7 599.0,387.7 599.4,387.7 599.9,387.7 600.3,387.7 600.7,387.7 601.2,387.6 601.6,387.6 602.0,387.6 602.5,387.6 602.9,387.6 603.4,387.6 603.8,387.6 604.2,387.5 604.7,387.5 605.1,387.5 605.5,387.5 606.0,387.4 606.4,387.4 606.8,387.4 607.3,387.3 607.7,387.3 608.1,387.2 608.6,387.2 609.0,387.2 609.4,387.1 609.9,387.1 610.3,387.0 610.7,387.0 611.2,386.9 611.6,386.9 612.1,386.8 612.5,386.8 612.9,386.7 613.4,386.7 613.8,386.6 614.2,386.6 614.7,386.5 615.1,386.5 615.5,386.5 616.0,386.4 616.4,386.4 616.8,386.4 617.3,386.3 617.7,386.3 618.1,386.3 618.6,386.3 619.0,386.3 619.4,386.2 619.9,386.2 620.3,386.2 620.8,386.2 621.2,386.2 621.6,386.2 622.1,386.1 622.5,386.1 622.9,386.1 623.4,386.1 623.8,386.1 624.2,386.1 624.7,386.1 625.1,386.0 625.5,386.0 626.0,386.0 626.4,386.0 626.8,386.0 627.3,385.9 627.7,385.9 628.1,385.9 628.6,385.9 629.0,385.8 629.5,385.8 629.9,385.8 630.3,385.7 630.8,385.7 631.2,385.7 631.6,385.6 632.1,385.6 632.5,385.6 632.9,385.5 633.4,385.5 633.8,385.5 634.2,385.4 634.7,385.4 635.1,385.4 635.5,385.3 636.0,385.3 636.4,385.2 636.8,385.2 637.3,385.2 637.7,385.1 638.2,385.1 638.6,385.1 639.0,385.1 639.5,385.0 639.9,385.0 640.3,385.0 640.8,385.0 641.2,385.0 641.6,385.0 642.1,385.0 642.5,385.0 642.9,385.0 643.4,385.0 643.8,385.0 644.2,385.0 644.7,385.0 645.1,385.1 645.5,385.1 646.0,385.1 646.4,385.1 646.9,385.2 647.3,385.2 647.7,385.2 648.2,385.3 648.6,385.3 649.0,385.3 649.5,385.4 649.9,385.4 650.3,385.4 650.8,385.5 651.2,385.5" fill="none" stroke="#ed7d31" stroke-width="1.0" stroke-linejoin="round" opacity="1.0"/>
<text x="706.60" y="375.34" font-size="9.60" fill="#ed7d31" font-weight="normal" font-style="normal" text-anchor="start" textLength="53.20" lengthAdjust="spacingAndGlyphs" stroke="#ed7d31" stroke-width="0.32">pAu-SP/BDDE</text>
<rect x="670.00" y="222.60" width="101.30" height="87.20" fill="none" stroke="#5a5a5a" stroke-width="1.1"/>
<text x="663.00" y="312.20" font-size="6.70" fill="#2c2c2c" font-weight="normal" font-style="normal" text-anchor="end" textLength="3.77" lengthAdjust="spacingAndGlyphs" stroke="#2c2c2c" stroke-width="0.2">0</text>
<line x1="670.00" y1="288.00" x2="672.50" y2="288.00" stroke="#5a5a5a" stroke-width="0.9"/>
<text x="663.00" y="290.40" font-size="6.70" fill="#2c2c2c" font-weight="normal" font-style="normal" text-anchor="end" textLength="9.42" lengthAdjust="spacingAndGlyphs" stroke="#2c2c2c" stroke-width="0.2">0.1</text>
<line x1="670.00" y1="266.20" x2="672.50" y2="266.20" stroke="#5a5a5a" stroke-width="0.9"/>
<text x="663.00" y="268.60" font-size="6.70" fill="#2c2c2c" font-weight="normal" font-style="normal" text-anchor="end" textLength="9.42" lengthAdjust="spacingAndGlyphs" stroke="#2c2c2c" stroke-width="0.2">0.2</text>
<line x1="670.00" y1="244.40" x2="672.50" y2="244.40" stroke="#5a5a5a" stroke-width="0.9"/>
<text x="663.00" y="246.80" font-size="6.70" fill="#2c2c2c" font-weight="normal" font-style="normal" text-anchor="end" textLength="9.42" lengthAdjust="spacingAndGlyphs" stroke="#2c2c2c" stroke-width="0.2">0.3</text>
<text x="663.00" y="225.00" font-size="6.70" fill="#2c2c2c" font-weight="normal" font-style="normal" text-anchor="end" textLength="9.42" lengthAdjust="spacingAndGlyphs" stroke="#2c2c2c" stroke-width="0.2">0.4</text>
<text x="670.00" y="321.90" font-size="6.70" fill="#2c2c2c" font-weight="normal" font-style="normal" text-anchor="middle" textLength="3.75" lengthAdjust="spacingAndGlyphs" stroke="#2c2c2c" stroke-width="0.2">0</text>
<line x1="703.77" y1="309.80" x2="703.77" y2="307.30" stroke="#5a5a5a" stroke-width="0.9"/>
<text x="703.77" y="321.90" font-size="6.70" fill="#2c2c2c" font-weight="normal" font-style="normal" text-anchor="middle" textLength="3.75" lengthAdjust="spacingAndGlyphs" stroke="#2c2c2c" stroke-width="0.2">5</text>
<line x1="737.53" y1="309.80" x2="737.53" y2="307.30" stroke="#5a5a5a" stroke-width="0.9"/>
<text x="737.53" y="321.90" font-size="6.70" fill="#2c2c2c" font-weight="normal" font-style="normal" text-anchor="middle" textLength="7.50" lengthAdjust="spacingAndGlyphs" stroke="#2c2c2c" stroke-width="0.2">10</text>
<text x="771.30" y="321.90" font-size="6.70" fill="#2c2c2c" font-weight="normal" font-style="normal" text-anchor="middle" textLength="7.50" lengthAdjust="spacingAndGlyphs" stroke="#2c2c2c" stroke-width="0.2">15</text>
<line x1="676.75" y1="302.61" x2="771.30" y2="227.40" stroke="#f5a070" stroke-width="0.8"/>
<line x1="703.77" y1="280.37" x2="703.77" y2="283.86" stroke="#555" stroke-width="0.7"/>
<line x1="702.47" y1="280.37" x2="705.07" y2="280.37" stroke="#555" stroke-width="0.7"/>
<line x1="702.47" y1="283.86" x2="705.07" y2="283.86" stroke="#555" stroke-width="0.7"/>
<line x1="717.27" y1="269.03" x2="717.27" y2="273.39" stroke="#555" stroke-width="0.7"/>
<line x1="715.97" y1="269.03" x2="718.57" y2="269.03" stroke="#555" stroke-width="0.7"/>
<line x1="715.97" y1="273.39" x2="718.57" y2="273.39" stroke="#555" stroke-width="0.7"/>
<line x1="730.78" y1="258.79" x2="730.78" y2="261.40" stroke="#555" stroke-width="0.7"/>
<line x1="729.48" y1="258.79" x2="732.08" y2="258.79" stroke="#555" stroke-width="0.7"/>
<line x1="729.48" y1="261.40" x2="732.08" y2="261.40" stroke="#555" stroke-width="0.7"/>
<line x1="744.29" y1="247.02" x2="744.29" y2="252.25" stroke="#555" stroke-width="0.7"/>
<line x1="742.99" y1="247.02" x2="745.59" y2="247.02" stroke="#555" stroke-width="0.7"/>
<line x1="742.99" y1="252.25" x2="745.59" y2="252.25" stroke="#555" stroke-width="0.7"/>
<line x1="757.79" y1="236.33" x2="757.79" y2="241.57" stroke="#555" stroke-width="0.7"/>
<line x1="756.49" y1="236.33" x2="759.09" y2="236.33" stroke="#555" stroke-width="0.7"/>
<line x1="756.49" y1="241.57" x2="759.09" y2="241.57" stroke="#555" stroke-width="0.7"/>
<line x1="771.30" y1="226.96" x2="771.30" y2="229.14" stroke="#555" stroke-width="0.7"/>
<line x1="770.00" y1="226.96" x2="772.60" y2="226.96" stroke="#555" stroke-width="0.7"/>
<line x1="770.00" y1="229.14" x2="772.60" y2="229.14" stroke="#555" stroke-width="0.7"/>
<circle cx="676.75" cy="302.17" r="1.6" fill="#ed7d31"/>
<circle cx="690.26" cy="291.92" r="1.6" fill="#ed7d31"/>
<circle cx="703.77" cy="282.11" r="1.6" fill="#ed7d31"/>
<circle cx="717.27" cy="271.21" r="1.6" fill="#ed7d31"/>
<circle cx="730.78" cy="260.10" r="1.6" fill="#ed7d31"/>
<circle cx="744.29" cy="249.63" r="1.6" fill="#ed7d31"/>
<circle cx="757.79" cy="238.95" r="1.6" fill="#ed7d31"/>
<circle cx="771.30" cy="228.05" r="1.6" fill="#ed7d31"/>
<g transform="translate(643.30,230.50) rotate(-90)"><text x="0" y="2.4" font-size="6.8" font-weight="bold" text-anchor="middle" textLength="19.2" lengthAdjust="spacingAndGlyphs" fill="#222" stroke="#222" stroke-width="0.1"><tspan font-style="italic">I</tspan><tspan font-size="4.6" dy="1.5" font-style="italic">p</tspan><tspan dy="-1.5"> [μA]</tspan></text></g>
<text x="743.30" y="332.20" font-size="6.8" font-weight="bold" textLength="35.30" lengthAdjust="spacingAndGlyphs" fill="#222"><tspan font-style="italic">c</tspan> [μmol L<tspan font-size="4.6" dy="-2.2">−1</tspan><tspan dy="2.2">]</tspan></text>
<rect x="36.50" y="422.60" width="217.60" height="171.30" fill="none" stroke="#606060" stroke-width="1.2"/>
<text x="27.50" y="597.34" font-size="9.60" fill="#2c2c2c" font-weight="normal" font-style="normal" text-anchor="end" textLength="4.97" lengthAdjust="spacingAndGlyphs" stroke="#2c2c2c" stroke-width="0.32">0</text>
<line x1="36.50" y1="536.80" x2="39.50" y2="536.80" stroke="#606060" stroke-width="1"/>
<text x="27.50" y="540.24" font-size="9.60" fill="#2c2c2c" font-weight="normal" font-style="normal" text-anchor="end" textLength="4.97" lengthAdjust="spacingAndGlyphs" stroke="#2c2c2c" stroke-width="0.32">1</text>
<line x1="36.50" y1="479.70" x2="39.50" y2="479.70" stroke="#606060" stroke-width="1"/>
<text x="27.50" y="483.14" font-size="9.60" fill="#2c2c2c" font-weight="normal" font-style="normal" text-anchor="end" textLength="4.97" lengthAdjust="spacingAndGlyphs" stroke="#2c2c2c" stroke-width="0.32">2</text>
<text x="27.50" y="426.04" font-size="9.60" fill="#2c2c2c" font-weight="normal" font-style="normal" text-anchor="end" textLength="4.97" lengthAdjust="spacingAndGlyphs" stroke="#2c2c2c" stroke-width="0.32">3</text>
<text x="36.50" y="610.24" font-size="9.60" fill="#2c2c2c" font-weight="normal" font-style="normal" text-anchor="middle" textLength="17.90" lengthAdjust="spacingAndGlyphs" stroke="#2c2c2c" stroke-width="0.32">-300</text>
<line x1="72.77" y1="593.90" x2="72.77" y2="590.90" stroke="#606060" stroke-width="1"/>
<text x="72.77" y="610.24" font-size="9.60" fill="#2c2c2c" font-weight="normal" font-style="normal" text-anchor="middle" textLength="12.94" lengthAdjust="spacingAndGlyphs" stroke="#2c2c2c" stroke-width="0.32">-50</text>
<line x1="109.03" y1="593.90" x2="109.03" y2="590.90" stroke="#606060" stroke-width="1"/>
<text x="109.03" y="610.24" font-size="9.60" fill="#2c2c2c" font-weight="normal" font-style="normal" text-anchor="middle" textLength="14.91" lengthAdjust="spacingAndGlyphs" stroke="#2c2c2c" stroke-width="0.32">200</text>
<line x1="145.30" y1="593.90" x2="145.30" y2="590.90" stroke="#606060" stroke-width="1"/>
<text x="145.30" y="610.24" font-size="9.60" fill="#2c2c2c" font-weight="normal" font-style="normal" text-anchor="middle" textLength="14.91" lengthAdjust="spacingAndGlyphs" stroke="#2c2c2c" stroke-width="0.32">450</text>
<line x1="181.57" y1="593.90" x2="181.57" y2="590.90" stroke="#606060" stroke-width="1"/>
<text x="181.57" y="610.24" font-size="9.60" fill="#2c2c2c" font-weight="normal" font-style="normal" text-anchor="middle" textLength="14.91" lengthAdjust="spacingAndGlyphs" stroke="#2c2c2c" stroke-width="0.32">700</text>
<line x1="217.83" y1="593.90" x2="217.83" y2="590.90" stroke="#606060" stroke-width="1"/>
<text x="217.83" y="610.24" font-size="9.60" fill="#2c2c2c" font-weight="normal" font-style="normal" text-anchor="middle" textLength="14.91" lengthAdjust="spacingAndGlyphs" stroke="#2c2c2c" stroke-width="0.32">950</text>
<text x="254.10" y="610.24" font-size="9.60" fill="#2c2c2c" font-weight="normal" font-style="normal" text-anchor="middle" textLength="19.87" lengthAdjust="spacingAndGlyphs" stroke="#2c2c2c" stroke-width="0.32">1200</text>
<g transform="translate(12.70,437.00) rotate(-90)"><text x="0" y="3.3" font-size="9.2" font-weight="bold" text-anchor="middle" textLength="22" lengthAdjust="spacingAndGlyphs" fill="#111" stroke="#111" stroke-width="0.3"><tspan font-style="italic">I</tspan> [μA]</text></g>
<text x="219.70" y="619.60" font-size="9.2" font-weight="bold" textLength="26.10" lengthAdjust="spacingAndGlyphs" fill="#111" stroke="#111" stroke-width="0.3"><tspan font-style="italic">E</tspan> [mV]</text>
<polyline points="36.5,593.4 36.9,593.4 37.4,593.4 37.8,593.4 38.2,593.4 38.7,593.4 39.1,593.4 39.5,593.4 40.0,593.4 40.4,593.4 40.9,593.4 41.3,593.4 41.7,593.4 42.2,593.4 42.6,593.4 43.0,593.4 43.5,593.4 43.9,593.4 44.3,593.4 44.8,593.4 45.2,593.4 45.6,593.4 46.1,593.4 46.5,593.4 46.9,593.4 47.4,593.4 47.8,593.4 48.3,593.4 48.7,593.4 49.1,593.4 49.6,593.4 50.0,593.4 50.4,593.4 50.9,593.4 51.3,593.4 51.7,593.4 52.2,593.4 52.6,593.4 53.0,593.4 53.5,593.4 53.9,593.4 54.3,593.4 54.8,593.4 55.2,593.4 55.6,593.4 56.1,593.4 56.5,593.4 57.0,593.4 57.4,593.4 57.8,593.4 58.3,593.4 58.7,593.4 59.1,593.4 59.6,593.4 60.0,593.4 60.4,593.4 60.9,593.4 61.3,593.4 61.7,593.4 62.2,593.4 62.6,593.4 63.0,593.4 63.5,593.4 63.9,593.4 64.4,593.4 64.8,593.4 65.2,593.4 65.7,593.4 66.1,593.4 66.5,593.4 67.0,593.4 67.4,593.4 67.8,593.4 68.3,593.4 68.7,593.4 69.1,593.4 69.6,593.4 70.0,593.4 70.4,593.4 70.9,593.4 71.3,593.4 71.8,593.4 72.2,593.4 72.6,593.4 73.1,593.3 73.5,593.3 73.9,593.3 74.4,593.2 74.8,593.1 75.2,593.0 75.7,592.9 76.1,592.8 76.5,592.7 77.0,592.5 77.4,592.3 77.8,592.0 78.3,591.8 78.7,591.5 79.1,591.1 79.6,590.8 80.0,590.4 80.5,590.0 80.9,589.5 81.3,589.1 81.8,588.6 82.2,588.2 82.6,587.7 83.1,587.3 83.5,586.8 83.9,586.4 84.4,586.0 84.8,585.6 85.2,585.3 85.7,584.9 86.1,584.7 86.5,584.4 87.0,584.2 87.4,584.1 87.9,583.9 88.3,583.9 88.7,583.8 89.2,583.8 89.6,583.7 90.0,583.7 90.5,583.7 90.9,583.8 91.3,583.8 91.8,583.9 92.2,583.9 92.6,584.1 93.1,584.2 93.5,584.4 93.9,584.7 94.4,584.9 94.8,585.3 95.3,585.6 95.7,586.0 96.1,586.4 96.6,586.8 97.0,587.3 97.4,587.7 97.9,588.2 98.3,588.6 98.7,589.1 99.2,589.5 99.6,590.0 100.0,590.4 100.5,590.8 100.9,591.1 101.3,591.4 101.8,591.7 102.2,592.0 102.7,592.2 103.1,592.4 103.5,592.6 104.0,592.7 104.4,592.8 104.8,592.9 105.3,592.9 105.7,593.0 106.1,593.0 106.6,593.0 107.0,593.0 107.4,593.0 107.9,593.0 108.3,592.9 108.7,592.9 109.2,592.9 109.6,592.9 110.0,592.9 110.5,592.9 110.9,592.9 111.4,592.9 111.8,592.9 112.2,592.9 112.7,592.9 113.1,592.9 113.5,592.9 114.0,592.9 114.4,592.9 114.8,592.9 115.3,592.9 115.7,592.9 116.1,592.9 116.6,592.9 117.0,592.9 117.4,592.9 117.9,592.9 118.3,592.9 118.8,592.9 119.2,592.9 119.6,592.9 120.1,592.9 120.5,592.9 120.9,592.9 121.4,592.9 121.8,592.9 122.2,592.9 122.7,592.9 123.1,592.9 123.5,592.9" fill="none" stroke="#ff0000" stroke-width="1.2" stroke-linejoin="round" opacity="1.0"/>
<polyline points="36.5,593.4 36.9,593.4 37.4,593.4 37.8,593.4 38.2,593.4 38.7,593.4 39.1,593.4 39.5,593.4 40.0,593.4 40.4,593.4 40.9,593.4 41.3,593.4 41.7,593.4 42.2,593.4 42.6,593.4 43.0,593.4 43.5,593.4 43.9,593.4 44.3,593.4 44.8,593.4 45.2,593.4 45.6,593.4 46.1,593.4 46.5,593.4 46.9,593.4 47.4,593.4 47.8,593.4 48.3,593.4 48.7,593.4 49.1,593.4 49.6,593.4 50.0,593.4 50.4,593.4 50.9,593.4 51.3,593.4 51.7,593.4 52.2,593.4 52.6,593.4 53.0,593.4 53.5,593.4 53.9,593.4 54.3,593.4 54.8,593.4 55.2,593.4 55.6,593.4 56.1,593.4 56.5,593.4 57.0,593.4 57.4,593.4 57.8,593.4 58.3,593.4 58.7,593.4 59.1,593.4 59.6,593.4 60.0,593.4 60.4,593.4 60.9,593.4 61.3,593.4 61.7,593.4 62.2,593.4 62.6,593.4 63.0,593.4 63.5,593.4 63.9,593.4 64.4,593.4 64.8,593.4 65.2,593.4 65.7,593.4 66.1,593.4 66.5,593.4 67.0,593.4 67.4,593.4 67.8,593.4 68.3,593.4 68.7,593.4 69.1,593.4 69.6,593.4 70.0,593.4 70.4,593.4 70.9,593.4 71.3,593.4 71.8,593.3 72.2,593.3 72.6,593.2 73.1,593.2 73.5,593.1 73.9,592.9 74.4,592.8 74.8,592.6 75.2,592.3 75.7,592.0 76.1,591.6 76.5,591.2 77.0,590.7 77.4,590.1 77.8,589.5 78.3,588.7 78.7,587.8 79.1,586.9 79.6,585.9 80.0,584.8 80.5,583.6 80.9,582.4 81.3,581.2 81.8,579.9 82.2,578.6 82.6,577.3 83.1,576.0 83.5,574.7 83.9,573.5 84.4,572.4 84.8,571.3 85.2,570.3 85.7,569.4 86.1,568.7 86.5,568.0 87.0,567.4 87.4,567.0 87.9,566.6 88.3,566.4 88.7,566.2 89.2,566.1 89.6,566.0 90.0,566.0 90.5,566.0 90.9,566.1 91.3,566.2 91.8,566.4 92.2,566.6 92.6,567.0 93.1,567.4 93.5,568.0 93.9,568.7 94.4,569.4 94.8,570.3 95.3,571.3 95.7,572.4 96.1,573.5 96.6,574.7 97.0,576.0 97.4,577.3 97.9,578.6 98.3,579.9 98.7,581.2 99.2,582.4 99.6,583.6 100.0,584.8 100.5,585.9 100.9,586.9 101.3,587.8 101.8,588.7 102.2,589.4 102.7,590.1 103.1,590.6 103.5,591.1 104.0,591.5 104.4,591.9 104.8,592.2 105.3,592.4 105.7,592.5 106.1,592.6 106.6,592.7 107.0,592.8 107.4,592.8 107.9,592.9 108.3,592.9 108.7,592.9 109.2,592.9 109.6,592.9 110.0,592.9 110.5,592.9 110.9,592.9 111.4,592.9 111.8,592.9 112.2,592.9 112.7,592.9 113.1,592.9 113.5,592.9 114.0,592.9 114.4,592.9 114.8,592.9 115.3,592.9 115.7,592.9 116.1,592.9 116.6,592.9 117.0,592.9 117.4,592.9 117.9,592.9 118.3,592.9 118.8,592.9 119.2,592.9 119.6,592.9 120.1,592.9 120.5,592.9 120.9,592.9 121.4,592.9 121.8,592.9 122.2,592.9 122.7,592.9 123.1,592.9 123.5,592.9" fill="none" stroke="#ff0000" stroke-width="1.2" stroke-linejoin="round" opacity="1.0"/>
<polyline points="36.5,593.4 36.9,593.4 37.4,593.4 37.8,593.4 38.2,593.4 38.7,593.4 39.1,593.4 39.5,593.4 40.0,593.4 40.4,593.4 40.9,593.4 41.3,593.4 41.7,593.4 42.2,593.4 42.6,593.4 43.0,593.4 43.5,593.4 43.9,593.4 44.3,593.4 44.8,593.4 45.2,593.4 45.6,593.4 46.1,593.4 46.5,593.4 46.9,593.4 47.4,593.4 47.8,593.4 48.3,593.4 48.7,593.4 49.1,593.4 49.6,593.4 50.0,593.4 50.4,593.4 50.9,593.4 51.3,593.4 51.7,593.4 52.2,593.4 52.6,593.4 53.0,593.4 53.5,593.4 53.9,593.4 54.3,593.4 54.8,593.4 55.2,593.4 55.6,593.4 56.1,593.4 56.5,593.4 57.0,593.4 57.4,593.4 57.8,593.4 58.3,593.4 58.7,593.4 59.1,593.4 59.6,593.4 60.0,593.4 60.4,593.4 60.9,593.4 61.3,593.4 61.7,593.4 62.2,593.4 62.6,593.4 63.0,593.4 63.5,593.4 63.9,593.4 64.4,593.4 64.8,593.4 65.2,593.4 65.7,593.4 66.1,593.4 66.5,593.4 67.0,593.4 67.4,593.4 67.8,593.4 68.3,593.4 68.7,593.4 69.1,593.4 69.6,593.4 70.0,593.4 70.4,593.4 70.9,593.4 71.3,593.3 71.8,593.3 72.2,593.2 72.6,593.1 73.1,593.0 73.5,592.8 73.9,592.6 74.4,592.3 74.8,592.0 75.2,591.6 75.7,591.1 76.1,590.5 76.5,589.8 77.0,588.9 77.4,588.0 77.8,586.9 78.3,585.6 78.7,584.2 79.1,582.7 79.6,581.0 80.0,579.2 80.5,577.3 80.9,575.3 81.3,573.2 81.8,571.1 82.2,569.0 82.6,566.8 83.1,564.7 83.5,562.6 83.9,560.6 84.4,558.7 84.8,557.0 85.2,555.4 85.7,553.9 86.1,552.7 86.5,551.6 87.0,550.6 87.4,549.9 87.9,549.3 88.3,548.9 88.7,548.6 89.2,548.4 89.6,548.3 90.0,548.3 90.5,548.3 90.9,548.4 91.3,548.6 91.8,548.9 92.2,549.3 92.6,549.9 93.1,550.6 93.5,551.6 93.9,552.7 94.4,553.9 94.8,555.4 95.3,557.0 95.7,558.7 96.1,560.6 96.6,562.6 97.0,564.7 97.4,566.8 97.9,568.9 98.3,571.1 98.7,573.2 99.2,575.3 99.6,577.3 100.0,579.2 100.5,581.0 100.9,582.7 101.3,584.2 101.8,585.6 102.2,586.8 102.7,587.9 103.1,588.9 103.5,589.7 104.0,590.4 104.4,591.0 104.8,591.4 105.3,591.8 105.7,592.1 106.1,592.3 106.6,592.5 107.0,592.6 107.4,592.7 107.9,592.8 108.3,592.8 108.7,592.8 109.2,592.8 109.6,592.9 110.0,592.9 110.5,592.9 110.9,592.9 111.4,592.9 111.8,592.9 112.2,592.9 112.7,592.9 113.1,592.9 113.5,592.9 114.0,592.9 114.4,592.9 114.8,592.9 115.3,592.9 115.7,592.9 116.1,592.9 116.6,592.9 117.0,592.9 117.4,592.9 117.9,592.9 118.3,592.9 118.8,592.9 119.2,592.9 119.6,592.9 120.1,592.9 120.5,592.9 120.9,592.9 121.4,592.9 121.8,592.9 122.2,592.9 122.7,592.9 123.1,592.9 123.5,592.9" fill="none" stroke="#ff0000" stroke-width="1.2" stroke-linejoin="round" opacity="1.0"/>
<polyline points="36.5,593.4 36.9,593.4 37.4,593.4 37.8,593.4 38.2,593.4 38.7,593.4 39.1,593.4 39.5,593.4 40.0,593.4 40.4,593.4 40.9,593.4 41.3,593.4 41.7,593.4 42.2,593.4 42.6,593.4 43.0,593.4 43.5,593.4 43.9,593.4 44.3,593.4 44.8,593.4 45.2,593.4 45.6,593.4 46.1,593.4 46.5,593.4 46.9,593.4 47.4,593.4 47.8,593.4 48.3,593.4 48.7,593.4 49.1,593.4 49.6,593.4 50.0,593.4 50.4,593.4 50.9,593.4 51.3,593.4 51.7,593.4 52.2,593.4 52.6,593.4 53.0,593.4 53.5,593.4 53.9,593.4 54.3,593.4 54.8,593.4 55.2,593.4 55.6,593.4 56.1,593.4 56.5,593.4 57.0,593.4 57.4,593.4 57.8,593.4 58.3,593.4 58.7,593.4 59.1,593.4 59.6,593.4 60.0,593.4 60.4,593.4 60.9,593.4 61.3,593.4 61.7,593.4 62.2,593.4 62.6,593.4 63.0,593.4 63.5,593.4 63.9,593.4 64.4,593.4 64.8,593.4 65.2,593.4 65.7,593.4 66.1,593.4 66.5,593.4 67.0,593.4 67.4,593.4 67.8,593.4 68.3,593.4 68.7,593.4 69.1,593.4 69.6,593.4 70.0,593.4 70.4,593.4 70.9,593.3 71.3,593.3 71.8,593.2 72.2,593.1 72.6,593.0 73.1,592.8 73.5,592.6 73.9,592.3 74.4,591.9 74.8,591.5 75.2,590.9 75.7,590.2 76.1,589.4 76.5,588.4 77.0,587.3 77.4,586.0 77.8,584.5 78.3,582.8 78.7,580.9 79.1,578.8 79.6,576.5 80.0,574.0 80.5,571.4 80.9,568.7 81.3,565.8 81.8,562.9 82.2,560.0 82.6,557.0 83.1,554.1 83.5,551.3 83.9,548.6 84.4,546.0 84.8,543.6 85.2,541.4 85.7,539.4 86.1,537.7 86.5,536.2 87.0,534.9 87.4,533.9 87.9,533.1 88.3,532.5 88.7,532.1 89.2,531.9 89.6,531.8 90.0,531.8 90.5,531.8 90.9,531.9 91.3,532.1 91.8,532.5 92.2,533.1 92.6,533.9 93.1,534.9 93.5,536.2 93.9,537.7 94.4,539.4 94.8,541.4 95.3,543.6 95.7,546.0 96.1,548.6 96.6,551.3 97.0,554.1 97.4,557.0 97.9,560.0 98.3,562.9 98.7,565.8 99.2,568.7 99.6,571.4 100.0,574.0 100.5,576.5 100.9,578.7 101.3,580.8 101.8,582.7 102.2,584.4 102.7,585.9 103.1,587.2 103.5,588.4 104.0,589.3 104.4,590.1 104.8,590.7 105.3,591.3 105.7,591.7 106.1,592.0 106.6,592.2 107.0,592.4 107.4,592.6 107.9,592.7 108.3,592.7 108.7,592.8 109.2,592.8 109.6,592.8 110.0,592.9 110.5,592.9 110.9,592.9 111.4,592.9 111.8,592.9 112.2,592.9 112.7,592.9 113.1,592.9 113.5,592.9 114.0,592.9 114.4,592.9 114.8,592.9 115.3,592.9 115.7,592.9 116.1,592.9 116.6,592.9 117.0,592.9 117.4,592.9 117.9,592.9 118.3,592.9 118.8,592.9 119.2,592.9 119.6,592.9 120.1,592.9 120.5,592.9 120.9,592.9 121.4,592.9 121.8,592.9 122.2,592.9 122.7,592.9 123.1,592.9 123.5,592.9" fill="none" stroke="#ff0000" stroke-width="1.2" stroke-linejoin="round" opacity="1.0"/>
<polyline points="36.5,593.4 36.9,593.4 37.4,593.4 37.8,593.4 38.2,593.4 38.7,593.4 39.1,593.4 39.5,593.4 40.0,593.4 40.4,593.4 40.9,593.4 41.3,593.4 41.7,593.4 42.2,593.4 42.6,593.4 43.0,593.4 43.5,593.4 43.9,593.4 44.3,593.4 44.8,593.4 45.2,593.4 45.6,593.4 46.1,593.4 46.5,593.4 46.9,593.4 47.4,593.4 47.8,593.4 48.3,593.4 48.7,593.4 49.1,593.4 49.6,593.4 50.0,593.4 50.4,593.4 50.9,593.4 51.3,593.4 51.7,593.4 52.2,593.4 52.6,593.4 53.0,593.4 53.5,593.4 53.9,593.4 54.3,593.4 54.8,593.4 55.2,593.4 55.6,593.4 56.1,593.4 56.5,593.4 57.0,593.4 57.4,593.4 57.8,593.4 58.3,593.4 58.7,593.4 59.1,593.4 59.6,593.4 60.0,593.4 60.4,593.4 60.9,593.4 61.3,593.4 61.7,593.4 62.2,593.4 62.6,593.4 63.0,593.4 63.5,593.4 63.9,593.4 64.4,593.4 64.8,593.4 65.2,593.4 65.7,593.4 66.1,593.4 66.5,593.4 67.0,593.4 67.4,593.4 67.8,593.4 68.3,593.4 68.7,593.4 69.1,593.4 69.6,593.4 70.0,593.4 70.4,593.3 70.9,593.3 71.3,593.2 71.8,593.1 72.2,593.0 72.6,592.8 73.1,592.6 73.5,592.3 73.9,592.0 74.4,591.5 74.8,590.9 75.2,590.2 75.7,589.3 76.1,588.3 76.5,587.0 77.0,585.6 77.4,583.9 77.8,582.0 78.3,579.8 78.7,577.4 79.1,574.7 79.6,571.8 80.0,568.6 80.5,565.3 80.9,561.8 81.3,558.2 81.8,554.4 82.2,550.7 82.6,546.9 83.1,543.2 83.5,539.6 83.9,536.1 84.4,532.8 84.8,529.8 85.2,526.9 85.7,524.4 86.1,522.2 86.5,520.3 87.0,518.7 87.4,517.4 87.9,516.3 88.3,515.6 88.7,515.1 89.2,514.8 89.6,514.7 90.0,514.6 90.5,514.7 90.9,514.8 91.3,515.1 91.8,515.6 92.2,516.3 92.6,517.4 93.1,518.7 93.5,520.3 93.9,522.2 94.4,524.4 94.8,526.9 95.3,529.8 95.7,532.8 96.1,536.1 96.6,539.6 97.0,543.2 97.4,546.9 97.9,550.7 98.3,554.4 98.7,558.1 99.2,561.8 99.6,565.3 100.0,568.6 100.5,571.7 100.9,574.7 101.3,577.3 101.8,579.8 102.2,581.9 102.7,583.8 103.1,585.5 103.5,587.0 104.0,588.2 104.4,589.2 104.8,590.0 105.3,590.7 105.7,591.3 106.1,591.7 106.6,592.0 107.0,592.2 107.4,592.4 107.9,592.6 108.3,592.7 108.7,592.7 109.2,592.8 109.6,592.8 110.0,592.8 110.5,592.9 110.9,592.9 111.4,592.9 111.8,592.9 112.2,592.9 112.7,592.9 113.1,592.9 113.5,592.9 114.0,592.9 114.4,592.9 114.8,592.9 115.3,592.9 115.7,592.9 116.1,592.9 116.6,592.9 117.0,592.9 117.4,592.9 117.9,592.9 118.3,592.9 118.8,592.9 119.2,592.9 119.6,592.9 120.1,592.9 120.5,592.9 120.9,592.9 121.4,592.9 121.8,592.9 122.2,592.9 122.7,592.9 123.1,592.9 123.5,592.9" fill="none" stroke="#ff0000" stroke-width="1.2" stroke-linejoin="round" opacity="1.0"/>
<polyline points="36.5,593.4 36.9,593.4 37.4,593.4 37.8,593.4 38.2,593.4 38.7,593.4 39.1,593.4 39.5,593.4 40.0,593.4 40.4,593.4 40.9,593.4 41.3,593.4 41.7,593.4 42.2,593.4 42.6,593.4 43.0,593.4 43.5,593.4 43.9,593.4 44.3,593.4 44.8,593.4 45.2,593.4 45.6,593.4 46.1,593.4 46.5,593.4 46.9,593.4 47.4,593.4 47.8,593.4 48.3,593.4 48.7,593.4 49.1,593.4 49.6,593.4 50.0,593.4 50.4,593.4 50.9,593.4 51.3,593.4 51.7,593.4 52.2,593.4 52.6,593.4 53.0,593.4 53.5,593.4 53.9,593.4 54.3,593.4 54.8,593.4 55.2,593.4 55.6,593.4 56.1,593.4 56.5,593.4 57.0,593.4 57.4,593.4 57.8,593.4 58.3,593.4 58.7,593.4 59.1,593.4 59.6,593.4 60.0,593.4 60.4,593.4 60.9,593.4 61.3,593.4 61.7,593.4 62.2,593.4 62.6,593.4 63.0,593.4 63.5,593.4 63.9,593.4 64.4,593.4 64.8,593.4 65.2,593.4 65.7,593.4 66.1,593.4 66.5,593.4 67.0,593.4 67.4,593.4 67.8,593.4 68.3,593.4 68.7,593.4 69.1,593.4 69.6,593.4 70.0,593.4 70.4,593.3 70.9,593.3 71.3,593.2 71.8,593.1 72.2,592.9 72.6,592.7 73.1,592.4 73.5,592.1 73.9,591.7 74.4,591.1 74.8,590.4 75.2,589.5 75.7,588.5 76.1,587.2 76.5,585.7 77.0,583.9 77.4,581.9 77.8,579.6 78.3,576.9 78.7,574.0 79.1,570.7 79.6,567.2 80.0,563.4 80.5,559.4 80.9,555.1 81.3,550.7 81.8,546.2 82.2,541.7 82.6,537.1 83.1,532.6 83.5,528.2 83.9,524.0 84.4,520.1 84.8,516.4 85.2,513.0 85.7,509.9 86.1,507.2 86.5,504.9 87.0,503.0 87.4,501.4 87.9,500.1 88.3,499.2 88.7,498.6 89.2,498.3 89.6,498.1 90.0,498.1 90.5,498.1 90.9,498.3 91.3,498.6 91.8,499.2 92.2,500.1 92.6,501.4 93.1,503.0 93.5,504.9 93.9,507.2 94.4,509.9 94.8,513.0 95.3,516.4 95.7,520.1 96.1,524.0 96.6,528.2 97.0,532.6 97.4,537.1 97.9,541.7 98.3,546.2 98.7,550.7 99.2,555.1 99.6,559.4 100.0,563.4 100.5,567.2 100.9,570.7 101.3,574.0 101.8,576.9 102.2,579.5 102.7,581.8 103.1,583.9 103.5,585.6 104.0,587.1 104.4,588.3 104.8,589.4 105.3,590.2 105.7,590.8 106.1,591.4 106.6,591.8 107.0,592.1 107.4,592.3 107.9,592.5 108.3,592.6 108.7,592.7 109.2,592.7 109.6,592.8 110.0,592.8 110.5,592.8 110.9,592.9 111.4,592.9 111.8,592.9 112.2,592.9 112.7,592.9 113.1,592.9 113.5,592.9 114.0,592.9 114.4,592.9 114.8,592.9 115.3,592.9 115.7,592.9 116.1,592.9 116.6,592.9 117.0,592.9 117.4,592.9 117.9,592.9 118.3,592.9 118.8,592.9 119.2,592.9 119.6,592.9 120.1,592.9 120.5,592.9 120.9,592.9 121.4,592.9 121.8,592.9 122.2,592.9 122.7,592.9 123.1,592.9 123.5,592.9" fill="none" stroke="#ff0000" stroke-width="1.2" stroke-linejoin="round" opacity="1.0"/>
<polyline points="36.5,593.4 36.9,593.4 37.4,593.4 37.8,593.4 38.2,593.4 38.7,593.4 39.1,593.4 39.5,593.4 40.0,593.4 40.4,593.4 40.9,593.4 41.3,593.4 41.7,593.4 42.2,593.4 42.6,593.4 43.0,593.4 43.5,593.4 43.9,593.4 44.3,593.4 44.8,593.4 45.2,593.4 45.6,593.4 46.1,593.4 46.5,593.4 46.9,593.4 47.4,593.4 47.8,593.4 48.3,593.4 48.7,593.4 49.1,593.4 49.6,593.4 50.0,593.4 50.4,593.4 50.9,593.4 51.3,593.4 51.7,593.4 52.2,593.4 52.6,593.4 53.0,593.4 53.5,593.4 53.9,593.4 54.3,593.4 54.8,593.4 55.2,593.4 55.6,593.4 56.1,593.4 56.5,593.4 57.0,593.4 57.4,593.4 57.8,593.4 58.3,593.4 58.7,593.4 59.1,593.4 59.6,593.4 60.0,593.4 60.4,593.4 60.9,593.4 61.3,593.4 61.7,593.4 62.2,593.4 62.6,593.4 63.0,593.4 63.5,593.4 63.9,593.4 64.4,593.4 64.8,593.4 65.2,593.4 65.7,593.4 66.1,593.4 66.5,593.4 67.0,593.4 67.4,593.4 67.8,593.4 68.3,593.4 68.7,593.4 69.1,593.4 69.6,593.4 70.0,593.3 70.4,593.3 70.9,593.2 71.3,593.1 71.8,593.0 72.2,592.8 72.6,592.6 73.1,592.3 73.5,591.8 73.9,591.3 74.4,590.7 74.8,589.8 75.2,588.8 75.7,587.5 76.1,586.0 76.5,584.3 77.0,582.2 77.4,579.7 77.8,577.0 78.3,573.8 78.7,570.4 79.1,566.5 79.6,562.3 80.0,557.8 80.5,553.0 80.9,548.0 81.3,542.8 81.8,537.5 82.2,532.1 82.6,526.7 83.1,521.3 83.5,516.1 83.9,511.2 84.4,506.4 84.8,502.1 85.2,498.0 85.7,494.4 86.1,491.2 86.5,488.5 87.0,486.2 87.4,484.3 87.9,482.8 88.3,481.8 88.7,481.0 89.2,480.6 89.6,480.4 90.0,480.4 90.5,480.4 90.9,480.6 91.3,481.0 91.8,481.8 92.2,482.8 92.6,484.3 93.1,486.2 93.5,488.5 93.9,491.2 94.4,494.4 94.8,498.0 95.3,502.1 95.7,506.4 96.1,511.2 96.6,516.1 97.0,521.3 97.4,526.7 97.9,532.1 98.3,537.5 98.7,542.8 99.2,548.0 99.6,553.0 100.0,557.8 100.5,562.3 100.9,566.5 101.3,570.3 101.8,573.8 102.2,576.9 102.7,579.7 103.1,582.1 103.5,584.2 104.0,585.9 104.4,587.4 104.8,588.6 105.3,589.6 105.7,590.4 106.1,591.0 106.6,591.5 107.0,591.9 107.4,592.2 107.9,592.4 108.3,592.5 108.7,592.6 109.2,592.7 109.6,592.8 110.0,592.8 110.5,592.8 110.9,592.8 111.4,592.9 111.8,592.9 112.2,592.9 112.7,592.9 113.1,592.9 113.5,592.9 114.0,592.9 114.4,592.9 114.8,592.9 115.3,592.9 115.7,592.9 116.1,592.9 116.6,592.9 117.0,592.9 117.4,592.9 117.9,592.9 118.3,592.9 118.8,592.9 119.2,592.9 119.6,592.9 120.1,592.9 120.5,592.9 120.9,592.9 121.4,592.9 121.8,592.9 122.2,592.9 122.7,592.9 123.1,592.9 123.5,592.9" fill="none" stroke="#ff0000" stroke-width="1.2" stroke-linejoin="round" opacity="1.0"/>
<polyline points="36.5,593.4 36.9,593.4 37.4,593.4 37.8,593.4 38.2,593.4 38.7,593.4 39.1,593.4 39.5,593.4 40.0,593.4 40.4,593.4 40.9,593.4 41.3,593.4 41.7,593.4 42.2,593.4 42.6,593.4 43.0,593.4 43.5,593.4 43.9,593.4 44.3,593.4 44.8,593.4 45.2,593.4 45.6,593.4 46.1,593.4 46.5,593.4 46.9,593.4 47.4,593.4 47.8,593.4 48.3,593.4 48.7,593.4 49.1,593.4 49.6,593.4 50.0,593.4 50.4,593.4 50.9,593.4 51.3,593.4 51.7,593.4 52.2,593.4 52.6,593.4 53.0,593.4 53.5,593.4 53.9,593.4 54.3,593.4 54.8,593.4 55.2,593.4 55.6,593.4 56.1,593.4 56.5,593.4 57.0,593.4 57.4,593.4 57.8,593.4 58.3,593.4 58.7,593.4 59.1,593.4 59.6,593.4 60.0,593.4 60.4,593.4 60.9,593.4 61.3,593.4 61.7,593.4 62.2,593.4 62.6,593.4 63.0,593.4 63.5,593.4 63.9,593.4 64.4,593.4 64.8,593.4 65.2,593.4 65.7,593.4 66.1,593.4 66.5,593.4 67.0,593.4 67.4,593.4 67.8,593.4 68.3,593.4 68.7,593.4 69.1,593.4 69.6,593.4 70.0,593.3 70.4,593.3 70.9,593.2 71.3,593.1 71.8,592.9 72.2,592.7 72.6,592.4 73.1,592.1 73.5,591.6 73.9,591.0 74.4,590.2 74.8,589.3 75.2,588.1 75.7,586.7 76.1,584.9 76.5,582.9 77.0,580.5 77.4,577.7 77.8,574.5 78.3,570.9 78.7,566.9 79.1,562.4 79.6,557.6 80.0,552.4 80.5,546.9 80.9,541.1 81.3,535.1 81.8,529.0 82.2,522.8 82.6,516.5 83.1,510.4 83.5,504.4 83.9,498.7 84.4,493.3 84.8,488.2 85.2,483.6 85.7,479.4 86.1,475.7 86.5,472.6 87.0,469.9 87.4,467.7 87.9,466.1 88.3,464.8 88.7,464.0 89.2,463.5 89.6,463.3 90.0,463.3 90.5,463.3 90.9,463.5 91.3,464.0 91.8,464.8 92.2,466.1 92.6,467.7 93.1,469.9 93.5,472.6 93.9,475.7 94.4,479.4 94.8,483.6 95.3,488.2 95.7,493.3 96.1,498.7 96.6,504.4 97.0,510.4 97.4,516.5 97.9,522.8 98.3,529.0 98.7,535.1 99.2,541.1 99.6,546.9 100.0,552.4 100.5,557.6 100.9,562.4 101.3,566.8 101.8,570.9 102.2,574.4 102.7,577.6 103.1,580.4 103.5,582.8 104.0,584.8 104.4,586.5 104.8,587.9 105.3,589.1 105.7,590.0 106.1,590.7 106.6,591.3 107.0,591.7 107.4,592.0 107.9,592.3 108.3,592.5 108.7,592.6 109.2,592.7 109.6,592.7 110.0,592.8 110.5,592.8 110.9,592.8 111.4,592.9 111.8,592.9 112.2,592.9 112.7,592.9 113.1,592.9 113.5,592.9 114.0,592.9 114.4,592.9 114.8,592.9 115.3,592.9 115.7,592.9 116.1,592.9 116.6,592.9 117.0,592.9 117.4,592.9 117.9,592.9 118.3,592.9 118.8,592.9 119.2,592.9 119.6,592.9 120.1,592.9 120.5,592.9 120.9,592.9 121.4,592.9 121.8,592.9 122.2,592.9 122.7,592.9 123.1,592.9 123.5,592.9" fill="none" stroke="#ff0000" stroke-width="1.2" stroke-linejoin="round" opacity="1.0"/>
<text x="180.50" y="585.34" font-size="9.60" fill="#ff0000" font-weight="normal" font-style="normal" text-anchor="start" textLength="65.80" lengthAdjust="spacingAndGlyphs" stroke="#ff0000" stroke-width="0.32">eAu-SP/SP/BDDE</text>
<rect x="139.60" y="429.50" width="107.80" height="91.80" fill="none" stroke="#5a5a5a" stroke-width="1.1"/>
<text x="132.60" y="523.70" font-size="6.70" fill="#2c2c2c" font-weight="normal" font-style="normal" text-anchor="end" textLength="3.77" lengthAdjust="spacingAndGlyphs" stroke="#2c2c2c" stroke-width="0.2">0</text>
<line x1="139.60" y1="502.94" x2="142.10" y2="502.94" stroke="#5a5a5a" stroke-width="0.9"/>
<text x="132.60" y="505.34" font-size="6.70" fill="#2c2c2c" font-weight="normal" font-style="normal" text-anchor="end" textLength="9.42" lengthAdjust="spacingAndGlyphs" stroke="#2c2c2c" stroke-width="0.2">0.5</text>
<line x1="139.60" y1="484.58" x2="142.10" y2="484.58" stroke="#5a5a5a" stroke-width="0.9"/>
<text x="132.60" y="486.98" font-size="6.70" fill="#2c2c2c" font-weight="normal" font-style="normal" text-anchor="end" textLength="3.77" lengthAdjust="spacingAndGlyphs" stroke="#2c2c2c" stroke-width="0.2">1</text>
<line x1="139.60" y1="466.22" x2="142.10" y2="466.22" stroke="#5a5a5a" stroke-width="0.9"/>
<text x="132.60" y="468.62" font-size="6.70" fill="#2c2c2c" font-weight="normal" font-style="normal" text-anchor="end" textLength="9.42" lengthAdjust="spacingAndGlyphs" stroke="#2c2c2c" stroke-width="0.2">1.5</text>
<line x1="139.60" y1="447.86" x2="142.10" y2="447.86" stroke="#5a5a5a" stroke-width="0.9"/>
<text x="132.60" y="450.26" font-size="6.70" fill="#2c2c2c" font-weight="normal" font-style="normal" text-anchor="end" textLength="3.77" lengthAdjust="spacingAndGlyphs" stroke="#2c2c2c" stroke-width="0.2">2</text>
<text x="132.60" y="431.90" font-size="6.70" fill="#2c2c2c" font-weight="normal" font-style="normal" text-anchor="end" textLength="9.42" lengthAdjust="spacingAndGlyphs" stroke="#2c2c2c" stroke-width="0.2">2.5</text>
<text x="139.60" y="533.20" font-size="6.70" fill="#2c2c2c" font-weight="normal" font-style="normal" text-anchor="middle" textLength="3.75" lengthAdjust="spacingAndGlyphs" stroke="#2c2c2c" stroke-width="0.2">0</text>
<line x1="175.53" y1="521.30" x2="175.53" y2="518.80" stroke="#5a5a5a" stroke-width="0.9"/>
<text x="175.53" y="533.20" font-size="6.70" fill="#2c2c2c" font-weight="normal" font-style="normal" text-anchor="middle" textLength="3.75" lengthAdjust="spacingAndGlyphs" stroke="#2c2c2c" stroke-width="0.2">5</text>
<line x1="211.47" y1="521.30" x2="211.47" y2="518.80" stroke="#5a5a5a" stroke-width="0.9"/>
<text x="211.47" y="533.20" font-size="6.70" fill="#2c2c2c" font-weight="normal" font-style="normal" text-anchor="middle" textLength="7.50" lengthAdjust="spacingAndGlyphs" stroke="#2c2c2c" stroke-width="0.2">10</text>
<text x="247.40" y="533.20" font-size="6.70" fill="#2c2c2c" font-weight="normal" font-style="normal" text-anchor="middle" textLength="7.50" lengthAdjust="spacingAndGlyphs" stroke="#2c2c2c" stroke-width="0.2">15</text>
<line x1="146.79" y1="514.69" x2="247.40" y2="436.11" stroke="#ff8080" stroke-width="0.8"/>
<line x1="218.65" y1="458.14" x2="218.65" y2="461.81" stroke="#555" stroke-width="0.7"/>
<line x1="217.35" y1="458.14" x2="219.95" y2="458.14" stroke="#555" stroke-width="0.7"/>
<line x1="217.35" y1="461.81" x2="219.95" y2="461.81" stroke="#555" stroke-width="0.7"/>
<circle cx="146.79" cy="513.96" r="1.6" fill="#ff0000"/>
<circle cx="161.16" cy="502.21" r="1.6" fill="#ff0000"/>
<circle cx="175.53" cy="491.56" r="1.6" fill="#ff0000"/>
<circle cx="189.91" cy="480.91" r="1.6" fill="#ff0000"/>
<circle cx="204.28" cy="469.89" r="1.6" fill="#ff0000"/>
<circle cx="218.65" cy="459.98" r="1.6" fill="#ff0000"/>
<circle cx="233.03" cy="447.49" r="1.6" fill="#ff0000"/>
<circle cx="247.40" cy="436.84" r="1.6" fill="#ff0000"/>
<g transform="translate(119.20,437.50) rotate(-90)"><text x="0" y="2.4" font-size="6.8" font-weight="bold" text-anchor="middle" textLength="19.2" lengthAdjust="spacingAndGlyphs" fill="#222" stroke="#222" stroke-width="0.1"><tspan font-style="italic">I</tspan><tspan font-size="4.6" dy="1.5" font-style="italic">p</tspan><tspan dy="-1.5"> [μA]</tspan></text></g>
<text x="218.10" y="539.40" font-size="6.8" font-weight="bold" textLength="35.00" lengthAdjust="spacingAndGlyphs" fill="#222"><tspan font-style="italic">c</tspan> [μmol L<tspan font-size="4.6" dy="-2.2">−1</tspan><tspan dy="2.2">]</tspan></text>
<rect x="300.10" y="425.30" width="219.40" height="171.60" fill="none" stroke="#606060" stroke-width="1.2"/>
<text x="291.10" y="600.34" font-size="9.60" fill="#2c2c2c" font-weight="normal" font-style="normal" text-anchor="end" textLength="4.97" lengthAdjust="spacingAndGlyphs" stroke="#2c2c2c" stroke-width="0.32">0</text>
<line x1="300.10" y1="539.70" x2="303.10" y2="539.70" stroke="#606060" stroke-width="1"/>
<text x="291.10" y="543.14" font-size="9.60" fill="#2c2c2c" font-weight="normal" font-style="normal" text-anchor="end" textLength="4.97" lengthAdjust="spacingAndGlyphs" stroke="#2c2c2c" stroke-width="0.32">1</text>
<line x1="300.10" y1="482.50" x2="303.10" y2="482.50" stroke="#606060" stroke-width="1"/>
<text x="291.10" y="485.94" font-size="9.60" fill="#2c2c2c" font-weight="normal" font-style="normal" text-anchor="end" textLength="4.97" lengthAdjust="spacingAndGlyphs" stroke="#2c2c2c" stroke-width="0.32">2</text>
<text x="291.10" y="428.74" font-size="9.60" fill="#2c2c2c" font-weight="normal" font-style="normal" text-anchor="end" textLength="4.97" lengthAdjust="spacingAndGlyphs" stroke="#2c2c2c" stroke-width="0.32">3</text>
<text x="300.10" y="612.84" font-size="9.60" fill="#2c2c2c" font-weight="normal" font-style="normal" text-anchor="middle" textLength="17.90" lengthAdjust="spacingAndGlyphs" stroke="#2c2c2c" stroke-width="0.32">-300</text>
<line x1="343.98" y1="596.90" x2="343.98" y2="593.90" stroke="#606060" stroke-width="1"/>
<text x="343.98" y="612.84" font-size="9.60" fill="#2c2c2c" font-weight="normal" font-style="normal" text-anchor="middle" textLength="4.97" lengthAdjust="spacingAndGlyphs" stroke="#2c2c2c" stroke-width="0.32">0</text>
<line x1="387.86" y1="596.90" x2="387.86" y2="593.90" stroke="#606060" stroke-width="1"/>
<text x="387.86" y="612.84" font-size="9.60" fill="#2c2c2c" font-weight="normal" font-style="normal" text-anchor="middle" textLength="14.91" lengthAdjust="spacingAndGlyphs" stroke="#2c2c2c" stroke-width="0.32">300</text>
<line x1="431.74" y1="596.90" x2="431.74" y2="593.90" stroke="#606060" stroke-width="1"/>
<text x="431.74" y="612.84" font-size="9.60" fill="#2c2c2c" font-weight="normal" font-style="normal" text-anchor="middle" textLength="14.91" lengthAdjust="spacingAndGlyphs" stroke="#2c2c2c" stroke-width="0.32">600</text>
<line x1="475.62" y1="596.90" x2="475.62" y2="593.90" stroke="#606060" stroke-width="1"/>
<text x="475.62" y="612.84" font-size="9.60" fill="#2c2c2c" font-weight="normal" font-style="normal" text-anchor="middle" textLength="14.91" lengthAdjust="spacingAndGlyphs" stroke="#2c2c2c" stroke-width="0.32">900</text>
<text x="519.50" y="612.84" font-size="9.60" fill="#2c2c2c" font-weight="normal" font-style="normal" text-anchor="middle" textLength="19.87" lengthAdjust="spacingAndGlyphs" stroke="#2c2c2c" stroke-width="0.32">1200</text>
<g transform="translate(277.50,439.50) rotate(-90)"><text x="0" y="3.3" font-size="9.2" font-weight="bold" text-anchor="middle" textLength="22" lengthAdjust="spacingAndGlyphs" fill="#111" stroke="#111" stroke-width="0.3"><tspan font-style="italic">I</tspan> [μA]</text></g>
<text x="485.00" y="622.10" font-size="9.2" font-weight="bold" textLength="26.50" lengthAdjust="spacingAndGlyphs" fill="#111" stroke="#111" stroke-width="0.3"><tspan font-style="italic">E</tspan> [mV]</text>
<polyline points="300.1,593.1 300.5,593.1 301.0,593.2 301.4,593.2 301.9,593.3 302.3,593.4 302.7,593.5 303.2,593.6 303.6,593.7 304.0,593.8 304.5,594.0 304.9,594.1 305.4,594.3 305.8,594.5 306.2,594.7 306.7,594.9 307.1,595.1 307.6,595.3 308.0,595.5 308.4,595.7 308.9,595.8 309.3,596.0 309.8,596.1 310.2,596.2 310.6,596.3 311.1,596.4 311.5,596.5 311.9,596.6 312.4,596.6 312.8,596.7 313.3,596.7 313.7,596.7 314.1,596.8 314.6,596.8 315.0,596.8 315.5,596.8 315.9,596.8 316.3,596.9 316.8,596.9 317.2,596.9 317.7,596.9 318.1,596.9 318.5,596.9 319.0,596.9 319.4,596.9 319.8,596.9 320.3,596.9 320.7,596.9 321.2,596.9 321.6,596.9 322.0,596.9 322.5,596.9 322.9,596.9 323.4,596.9 323.8,596.9 324.2,596.9 324.7,596.9 325.1,596.9 325.6,596.9 326.0,596.9 326.4,596.9 326.9,596.9 327.3,596.9 327.7,596.9 328.2,596.9 328.6,596.9 329.1,596.9 329.5,596.9 329.9,596.9 330.4,596.9 330.8,596.9 331.3,596.9 331.7,596.9 332.1,596.9 332.6,596.9 333.0,596.8 333.4,596.8 333.9,596.8 334.3,596.8 334.8,596.7 335.2,596.6 335.6,596.6 336.1,596.4 336.5,596.3 337.0,596.1 337.4,595.9 337.8,595.6 338.3,595.3 338.7,594.9 339.2,594.5 339.6,594.1 340.0,593.6 340.5,593.2 340.9,592.8 341.3,592.5 341.8,592.1 342.2,591.9 342.7,591.7 343.1,591.5 343.5,591.3 344.0,591.2 344.4,591.1 344.9,591.0 345.3,590.9 345.7,590.8 346.2,590.8 346.6,590.7 347.1,590.6 347.5,590.6 347.9,590.5 348.4,590.5 348.8,590.4 349.2,590.4 349.7,590.3 350.1,590.3 350.6,590.2 351.0,590.2 351.4,590.2 351.9,590.1 352.3,590.1 352.8,590.1 353.2,590.1 353.6,590.1 354.1,590.1 354.5,590.0 355.0,590.0 355.4,590.1 355.8,590.1 356.3,590.1 356.7,590.1 357.1,590.1 357.6,590.2 358.0,590.2 358.5,590.3 358.9,590.3 359.3,590.4 359.8,590.5 360.2,590.7 360.7,590.8 361.1,591.0 361.5,591.2 362.0,591.5 362.4,591.8 362.8,592.2 363.3,592.6 363.7,593.0 364.2,593.5 364.6,594.0 365.0,594.5 365.5,594.9 365.9,595.3 366.4,595.6 366.8,595.9 367.2,596.1 367.7,596.3 368.1,596.5 368.6,596.6 369.0,596.7 369.4,596.7 369.9,596.8 370.3,596.8 370.7,596.8 371.2,596.8 371.6,596.9 372.1,596.9 372.5,596.9 372.9,596.9 373.4,596.9 373.8,596.9 374.3,596.9 374.7,596.9 375.1,596.9 375.6,596.9 376.0,596.9 376.5,596.9 376.9,596.9 377.3,596.9 377.8,596.9 378.2,596.9 378.6,596.9 379.1,596.9 379.5,596.9 380.0,596.9 380.4,596.9 380.8,596.9 381.3,596.9 381.7,596.9 382.2,596.9 382.6,596.9 383.0,596.9 383.5,596.9 383.9,596.9 384.3,596.9 384.8,596.9 385.2,596.9 385.7,596.9 386.1,596.9 386.5,596.9 387.0,596.9 387.4,596.9 387.9,596.9" fill="none" stroke="#c00000" stroke-width="1.15" stroke-linejoin="round" opacity="1.0"/>
<polyline points="300.1,593.1 300.5,593.1 301.0,593.2 301.4,593.2 301.9,593.3 302.3,593.4 302.7,593.5 303.2,593.6 303.6,593.7 304.0,593.8 304.5,594.0 304.9,594.1 305.4,594.3 305.8,594.5 306.2,594.7 306.7,594.9 307.1,595.1 307.6,595.3 308.0,595.5 308.4,595.7 308.9,595.8 309.3,596.0 309.8,596.1 310.2,596.2 310.6,596.3 311.1,596.4 311.5,596.5 311.9,596.6 312.4,596.6 312.8,596.7 313.3,596.7 313.7,596.7 314.1,596.8 314.6,596.8 315.0,596.8 315.5,596.8 315.9,596.8 316.3,596.9 316.8,596.9 317.2,596.9 317.7,596.9 318.1,596.9 318.5,596.9 319.0,596.9 319.4,596.9 319.8,596.9 320.3,596.9 320.7,596.9 321.2,596.9 321.6,596.9 322.0,596.9 322.5,596.9 322.9,596.9 323.4,596.9 323.8,596.9 324.2,596.9 324.7,596.9 325.1,596.9 325.6,596.9 326.0,596.9 326.4,596.9 326.9,596.9 327.3,596.9 327.7,596.9 328.2,596.9 328.6,596.9 329.1,596.9 329.5,596.9 329.9,596.9 330.4,596.9 330.8,596.8 331.3,596.8 331.7,596.8 332.1,596.7 332.6,596.7 333.0,596.6 333.4,596.5 333.9,596.4 334.3,596.2 334.8,596.0 335.2,595.7 335.6,595.3 336.1,594.8 336.5,594.2 337.0,593.3 337.4,592.3 337.8,591.1 338.3,589.6 338.7,587.9 339.2,586.1 339.6,584.1 340.0,582.1 340.5,580.2 340.9,578.5 341.3,576.9 341.8,575.5 342.2,574.3 342.7,573.3 343.1,572.5 343.5,571.8 344.0,571.2 344.4,570.7 344.9,570.3 345.3,569.9 345.7,569.5 346.2,569.2 346.6,569.0 347.1,568.7 347.5,568.4 347.9,568.2 348.4,568.0 348.8,567.7 349.2,567.5 349.7,567.3 350.1,567.1 350.6,566.9 351.0,566.8 351.4,566.6 351.9,566.5 352.3,566.4 352.8,566.3 353.2,566.2 353.6,566.1 354.1,566.1 354.5,566.1 355.0,566.1 355.4,566.1 355.8,566.1 356.3,566.2 356.7,566.3 357.1,566.5 357.6,566.6 358.0,566.8 358.5,567.1 358.9,567.4 359.3,567.8 359.8,568.3 360.2,568.8 360.7,569.5 361.1,570.3 361.5,571.3 362.0,572.5 362.4,574.0 362.8,575.6 363.3,577.5 363.7,579.5 364.2,581.6 364.6,583.8 365.0,585.9 365.5,587.9 365.9,589.6 366.4,591.2 366.8,592.4 367.2,593.5 367.7,594.3 368.1,594.9 368.6,595.4 369.0,595.8 369.4,596.1 369.9,596.3 370.3,596.4 370.7,596.6 371.2,596.6 371.6,596.7 372.1,596.8 372.5,596.8 372.9,596.8 373.4,596.8 373.8,596.9 374.3,596.9 374.7,596.9 375.1,596.9 375.6,596.9 376.0,596.9 376.5,596.9 376.9,596.9 377.3,596.9 377.8,596.9 378.2,596.9 378.6,596.9 379.1,596.9 379.5,596.9 380.0,596.9 380.4,596.9 380.8,596.9 381.3,596.9 381.7,596.9 382.2,596.9 382.6,596.9 383.0,596.9 383.5,596.9 383.9,596.9 384.3,596.9 384.8,596.9 385.2,596.9 385.7,596.9 386.1,596.9 386.5,596.9 387.0,596.9 387.4,596.9 387.9,596.9" fill="none" stroke="#c00000" stroke-width="1.15" stroke-linejoin="round" opacity="1.0"/>
<polyline points="300.1,593.1 300.5,593.1 301.0,593.2 301.4,593.2 301.9,593.3 302.3,593.4 302.7,593.5 303.2,593.6 303.6,593.7 304.0,593.8 304.5,594.0 304.9,594.1 305.4,594.3 305.8,594.5 306.2,594.7 306.7,594.9 307.1,595.1 307.6,595.3 308.0,595.5 308.4,595.7 308.9,595.8 309.3,596.0 309.8,596.1 310.2,596.2 310.6,596.3 311.1,596.4 311.5,596.5 311.9,596.6 312.4,596.6 312.8,596.7 313.3,596.7 313.7,596.7 314.1,596.8 314.6,596.8 315.0,596.8 315.5,596.8 315.9,596.8 316.3,596.9 316.8,596.9 317.2,596.9 317.7,596.9 318.1,596.9 318.5,596.9 319.0,596.9 319.4,596.9 319.8,596.9 320.3,596.9 320.7,596.9 321.2,596.9 321.6,596.9 322.0,596.9 322.5,596.9 322.9,596.9 323.4,596.9 323.8,596.9 324.2,596.9 324.7,596.9 325.1,596.9 325.6,596.9 326.0,596.9 326.4,596.9 326.9,596.9 327.3,596.9 327.7,596.9 328.2,596.9 328.6,596.9 329.1,596.9 329.5,596.9 329.9,596.8 330.4,596.8 330.8,596.8 331.3,596.8 331.7,596.7 332.1,596.6 332.6,596.6 333.0,596.4 333.4,596.3 333.9,596.1 334.3,595.8 334.8,595.4 335.2,594.9 335.6,594.2 336.1,593.3 336.5,592.2 337.0,590.8 337.4,589.0 337.8,586.8 338.3,584.3 338.7,581.4 339.2,578.2 339.6,574.9 340.0,571.5 340.5,568.2 340.9,565.2 341.3,562.4 341.8,560.0 342.2,558.0 342.7,556.3 343.1,554.8 343.5,553.6 344.0,552.6 344.4,551.8 344.9,551.0 345.3,550.4 345.7,549.8 346.2,549.3 346.6,548.8 347.1,548.3 347.5,547.9 347.9,547.4 348.4,547.0 348.8,546.7 349.2,546.3 349.7,545.9 350.1,545.6 350.6,545.3 351.0,545.0 351.4,544.8 351.9,544.5 352.3,544.3 352.8,544.1 353.2,544.0 353.6,543.9 354.1,543.8 354.5,543.8 355.0,543.8 355.4,543.8 355.8,543.9 356.3,544.1 356.7,544.2 357.1,544.5 357.6,544.8 358.0,545.1 358.5,545.6 358.9,546.1 359.3,546.8 359.8,547.6 360.2,548.6 360.7,549.7 361.1,551.2 361.5,552.9 362.0,554.9 362.4,557.4 362.8,560.2 363.3,563.4 363.7,566.9 364.2,570.6 364.6,574.4 365.0,578.0 365.5,581.4 365.9,584.4 366.4,587.0 366.8,589.2 367.2,591.0 367.7,592.4 368.1,593.5 368.6,594.3 369.0,595.0 369.4,595.5 369.9,595.8 370.3,596.1 370.7,596.3 371.2,596.5 371.6,596.6 372.1,596.7 372.5,596.7 372.9,596.8 373.4,596.8 373.8,596.8 374.3,596.8 374.7,596.9 375.1,596.9 375.6,596.9 376.0,596.9 376.5,596.9 376.9,596.9 377.3,596.9 377.8,596.9 378.2,596.9 378.6,596.9 379.1,596.9 379.5,596.9 380.0,596.9 380.4,596.9 380.8,596.9 381.3,596.9 381.7,596.9 382.2,596.9 382.6,596.9 383.0,596.9 383.5,596.9 383.9,596.9 384.3,596.9 384.8,596.9 385.2,596.9 385.7,596.9 386.1,596.9 386.5,596.9 387.0,596.9 387.4,596.9 387.9,596.9" fill="none" stroke="#c00000" stroke-width="1.15" stroke-linejoin="round" opacity="1.0"/>
<polyline points="300.1,593.1 300.5,593.1 301.0,593.2 301.4,593.2 301.9,593.3 302.3,593.4 302.7,593.5 303.2,593.6 303.6,593.7 304.0,593.8 304.5,594.0 304.9,594.1 305.4,594.3 305.8,594.5 306.2,594.7 306.7,594.9 307.1,595.1 307.6,595.3 308.0,595.5 308.4,595.7 308.9,595.8 309.3,596.0 309.8,596.1 310.2,596.2 310.6,596.3 311.1,596.4 311.5,596.5 311.9,596.6 312.4,596.6 312.8,596.7 313.3,596.7 313.7,596.7 314.1,596.8 314.6,596.8 315.0,596.8 315.5,596.8 315.9,596.8 316.3,596.9 316.8,596.9 317.2,596.9 317.7,596.9 318.1,596.9 318.5,596.9 319.0,596.9 319.4,596.9 319.8,596.9 320.3,596.9 320.7,596.9 321.2,596.9 321.6,596.9 322.0,596.9 322.5,596.9 322.9,596.9 323.4,596.9 323.8,596.9 324.2,596.9 324.7,596.9 325.1,596.9 325.6,596.9 326.0,596.9 326.4,596.9 326.9,596.9 327.3,596.9 327.7,596.9 328.2,596.9 328.6,596.9 329.1,596.9 329.5,596.8 329.9,596.8 330.4,596.8 330.8,596.7 331.3,596.7 331.7,596.6 332.1,596.5 332.6,596.4 333.0,596.2 333.4,596.0 333.9,595.7 334.3,595.3 334.8,594.7 335.2,594.0 335.6,593.0 336.1,591.7 336.5,590.1 337.0,588.1 337.4,585.5 337.8,582.4 338.3,578.7 338.7,574.6 339.2,570.0 339.6,565.2 340.0,560.3 340.5,555.6 340.9,551.2 341.3,547.2 341.8,543.8 342.2,540.9 342.7,538.4 343.1,536.3 343.5,534.6 344.0,533.1 344.4,531.9 344.9,530.8 345.3,529.9 345.7,529.0 346.2,528.3 346.6,527.5 347.1,526.9 347.5,526.2 347.9,525.6 348.4,525.1 348.8,524.5 349.2,524.0 349.7,523.5 350.1,523.0 350.6,522.6 351.0,522.2 351.4,521.8 351.9,521.4 352.3,521.1 352.8,520.9 353.2,520.7 353.6,520.5 354.1,520.4 354.5,520.4 355.0,520.4 355.4,520.4 355.8,520.6 356.3,520.8 356.7,521.0 357.1,521.4 357.6,521.8 358.0,522.3 358.5,523.0 358.9,523.8 359.3,524.7 359.8,525.8 360.2,527.2 360.7,528.9 361.1,531.0 361.5,533.5 362.0,536.4 362.4,540.0 362.8,544.0 363.3,548.7 363.7,553.7 364.2,559.0 364.6,564.4 365.0,569.7 365.5,574.5 365.9,578.9 366.4,582.7 366.8,585.8 367.2,588.4 367.7,590.4 368.1,592.0 368.6,593.2 369.0,594.1 369.4,594.8 369.9,595.4 370.3,595.8 370.7,596.1 371.2,596.3 371.6,596.4 372.1,596.6 372.5,596.6 372.9,596.7 373.4,596.8 373.8,596.8 374.3,596.8 374.7,596.8 375.1,596.9 375.6,596.9 376.0,596.9 376.5,596.9 376.9,596.9 377.3,596.9 377.8,596.9 378.2,596.9 378.6,596.9 379.1,596.9 379.5,596.9 380.0,596.9 380.4,596.9 380.8,596.9 381.3,596.9 381.7,596.9 382.2,596.9 382.6,596.9 383.0,596.9 383.5,596.9 383.9,596.9 384.3,596.9 384.8,596.9 385.2,596.9 385.7,596.9 386.1,596.9 386.5,596.9 387.0,596.9 387.4,596.9 387.9,596.9" fill="none" stroke="#c00000" stroke-width="1.15" stroke-linejoin="round" opacity="1.0"/>
<polyline points="300.1,593.1 300.5,593.1 301.0,593.2 301.4,593.2 301.9,593.3 302.3,593.4 302.7,593.5 303.2,593.6 303.6,593.7 304.0,593.8 304.5,594.0 304.9,594.1 305.4,594.3 305.8,594.5 306.2,594.7 306.7,594.9 307.1,595.1 307.6,595.3 308.0,595.5 308.4,595.7 308.9,595.8 309.3,596.0 309.8,596.1 310.2,596.2 310.6,596.3 311.1,596.4 311.5,596.5 311.9,596.6 312.4,596.6 312.8,596.7 313.3,596.7 313.7,596.7 314.1,596.8 314.6,596.8 315.0,596.8 315.5,596.8 315.9,596.8 316.3,596.9 316.8,596.9 317.2,596.9 317.7,596.9 318.1,596.9 318.5,596.9 319.0,596.9 319.4,596.9 319.8,596.9 320.3,596.9 320.7,596.9 321.2,596.9 321.6,596.9 322.0,596.9 322.5,596.9 322.9,596.9 323.4,596.9 323.8,596.9 324.2,596.9 324.7,596.9 325.1,596.9 325.6,596.9 326.0,596.9 326.4,596.9 326.9,596.9 327.3,596.9 327.7,596.9 328.2,596.9 328.6,596.9 329.1,596.8 329.5,596.8 329.9,596.8 330.4,596.8 330.8,596.7 331.3,596.6 331.7,596.5 332.1,596.4 332.6,596.2 333.0,596.0 333.4,595.7 333.9,595.3 334.3,594.8 334.8,594.0 335.2,593.1 335.6,591.8 336.1,590.2 336.5,588.0 337.0,585.3 337.4,582.0 337.8,578.0 338.3,573.2 338.7,567.7 339.2,561.8 339.6,555.5 340.0,549.1 340.5,542.9 340.9,537.2 341.3,532.1 341.8,527.6 342.2,523.7 342.7,520.5 343.1,517.8 343.5,515.5 344.0,513.6 344.4,512.0 344.9,510.6 345.3,509.4 345.7,508.3 346.2,507.3 346.6,506.3 347.1,505.5 347.5,504.6 347.9,503.8 348.4,503.1 348.8,502.4 349.2,501.7 349.7,501.0 350.1,500.4 350.6,499.8 351.0,499.3 351.4,498.8 351.9,498.3 352.3,498.0 352.8,497.6 353.2,497.4 353.6,497.2 354.1,497.0 354.5,496.9 355.0,497.0 355.4,497.0 355.8,497.2 356.3,497.5 356.7,497.8 357.1,498.3 357.6,498.8 358.0,499.5 358.5,500.3 358.9,501.4 359.3,502.6 359.8,504.1 360.2,505.9 360.7,508.1 361.1,510.8 361.5,514.1 362.0,518.0 362.4,522.5 362.8,527.9 363.3,533.9 363.7,540.5 364.2,547.4 364.6,554.5 365.0,561.3 365.5,567.7 365.9,573.4 366.4,578.3 366.8,582.4 367.2,585.7 367.7,588.4 368.1,590.5 368.6,592.1 369.0,593.3 369.4,594.2 369.9,594.9 370.3,595.4 370.7,595.8 371.2,596.1 371.6,596.3 372.1,596.5 372.5,596.6 372.9,596.7 373.4,596.7 373.8,596.8 374.3,596.8 374.7,596.8 375.1,596.8 375.6,596.9 376.0,596.9 376.5,596.9 376.9,596.9 377.3,596.9 377.8,596.9 378.2,596.9 378.6,596.9 379.1,596.9 379.5,596.9 380.0,596.9 380.4,596.9 380.8,596.9 381.3,596.9 381.7,596.9 382.2,596.9 382.6,596.9 383.0,596.9 383.5,596.9 383.9,596.9 384.3,596.9 384.8,596.9 385.2,596.9 385.7,596.9 386.1,596.9 386.5,596.9 387.0,596.9 387.4,596.9 387.9,596.9" fill="none" stroke="#c00000" stroke-width="1.15" stroke-linejoin="round" opacity="1.0"/>
<polyline points="300.1,593.1 300.5,593.1 301.0,593.2 301.4,593.2 301.9,593.3 302.3,593.4 302.7,593.5 303.2,593.6 303.6,593.7 304.0,593.8 304.5,594.0 304.9,594.1 305.4,594.3 305.8,594.5 306.2,594.7 306.7,594.9 307.1,595.1 307.6,595.3 308.0,595.5 308.4,595.7 308.9,595.8 309.3,596.0 309.8,596.1 310.2,596.2 310.6,596.3 311.1,596.4 311.5,596.5 311.9,596.6 312.4,596.6 312.8,596.7 313.3,596.7 313.7,596.7 314.1,596.8 314.6,596.8 315.0,596.8 315.5,596.8 315.9,596.8 316.3,596.9 316.8,596.9 317.2,596.9 317.7,596.9 318.1,596.9 318.5,596.9 319.0,596.9 319.4,596.9 319.8,596.9 320.3,596.9 320.7,596.9 321.2,596.9 321.6,596.9 322.0,596.9 322.5,596.9 322.9,596.9 323.4,596.9 323.8,596.9 324.2,596.9 324.7,596.9 325.1,596.9 325.6,596.9 326.0,596.9 326.4,596.9 326.9,596.9 327.3,596.9 327.7,596.9 328.2,596.9 328.6,596.8 329.1,596.8 329.5,596.8 329.9,596.8 330.4,596.7 330.8,596.7 331.3,596.6 331.7,596.5 332.1,596.3 332.6,596.1 333.0,595.8 333.4,595.4 333.9,594.9 334.3,594.3 334.8,593.4 335.2,592.2 335.6,590.7 336.1,588.6 336.5,586.1 337.0,582.8 337.4,578.7 337.8,573.7 338.3,567.9 338.7,561.2 339.2,553.9 339.6,546.2 340.0,538.4 340.5,530.9 340.9,523.9 341.3,517.6 341.8,512.1 342.2,507.4 342.7,503.4 343.1,500.1 343.5,497.4 344.0,495.0 344.4,493.1 344.9,491.4 345.3,489.9 345.7,488.5 346.2,487.3 346.6,486.1 347.1,485.1 347.5,484.1 347.9,483.1 348.4,482.2 348.8,481.3 349.2,480.5 349.7,479.7 350.1,478.9 350.6,478.2 351.0,477.5 351.4,476.9 351.9,476.4 352.3,475.9 352.8,475.5 353.2,475.2 353.6,474.9 354.1,474.8 354.5,474.7 355.0,474.7 355.4,474.8 355.8,475.0 356.3,475.3 356.7,475.7 357.1,476.3 357.6,477.0 358.0,477.8 358.5,478.8 358.9,480.1 359.3,481.6 359.8,483.4 360.2,485.7 360.7,488.4 361.1,491.6 361.5,495.6 362.0,500.4 362.4,506.0 362.8,512.5 363.3,519.9 363.7,527.9 364.2,536.4 364.6,545.0 365.0,553.4 365.5,561.2 365.9,568.1 366.4,574.1 366.8,579.2 367.2,583.3 367.7,586.5 368.1,589.0 368.6,591.0 369.0,592.5 369.4,593.6 369.9,594.4 370.3,595.1 370.7,595.5 371.2,595.9 371.6,596.2 372.1,596.4 372.5,596.5 372.9,596.6 373.4,596.7 373.8,596.7 374.3,596.8 374.7,596.8 375.1,596.8 375.6,596.9 376.0,596.9 376.5,596.9 376.9,596.9 377.3,596.9 377.8,596.9 378.2,596.9 378.6,596.9 379.1,596.9 379.5,596.9 380.0,596.9 380.4,596.9 380.8,596.9 381.3,596.9 381.7,596.9 382.2,596.9 382.6,596.9 383.0,596.9 383.5,596.9 383.9,596.9 384.3,596.9 384.8,596.9 385.2,596.9 385.7,596.9 386.1,596.9 386.5,596.9 387.0,596.9 387.4,596.9 387.9,596.9" fill="none" stroke="#c00000" stroke-width="1.15" stroke-linejoin="round" opacity="1.0"/>
<polyline points="300.1,593.1 300.5,593.1 301.0,593.2 301.4,593.2 301.9,593.3 302.3,593.4 302.7,593.5 303.2,593.6 303.6,593.7 304.0,593.8 304.5,594.0 304.9,594.1 305.4,594.3 305.8,594.5 306.2,594.7 306.7,594.9 307.1,595.1 307.6,595.3 308.0,595.5 308.4,595.7 308.9,595.8 309.3,596.0 309.8,596.1 310.2,596.2 310.6,596.3 311.1,596.4 311.5,596.5 311.9,596.6 312.4,596.6 312.8,596.7 313.3,596.7 313.7,596.7 314.1,596.8 314.6,596.8 315.0,596.8 315.5,596.8 315.9,596.8 316.3,596.9 316.8,596.9 317.2,596.9 317.7,596.9 318.1,596.9 318.5,596.9 319.0,596.9 319.4,596.9 319.8,596.9 320.3,596.9 320.7,596.9 321.2,596.9 321.6,596.9 322.0,596.9 322.5,596.9 322.9,596.9 323.4,596.9 323.8,596.9 324.2,596.9 324.7,596.9 325.1,596.9 325.6,596.9 326.0,596.9 326.4,596.9 326.9,596.9 327.3,596.9 327.7,596.9 328.2,596.9 328.6,596.8 329.1,596.8 329.5,596.8 329.9,596.7 330.4,596.7 330.8,596.6 331.3,596.5 331.7,596.4 332.1,596.2 332.6,596.0 333.0,595.6 333.4,595.2 333.9,594.6 334.3,593.8 334.8,592.7 335.2,591.4 335.6,589.5 336.1,587.1 336.5,584.1 337.0,580.2 337.4,575.4 337.8,569.5 338.3,562.6 338.7,554.7 339.2,546.1 339.6,537.0 340.0,527.8 340.5,518.9 340.9,510.6 341.3,503.1 341.8,496.6 342.2,491.1 342.7,486.4 343.1,482.5 343.5,479.2 344.0,476.5 344.4,474.1 344.9,472.1 345.3,470.3 345.7,468.8 346.2,467.3 346.6,466.0 347.1,464.7 347.5,463.5 347.9,462.4 348.4,461.3 348.8,460.2 349.2,459.2 349.7,458.3 350.1,457.4 350.6,456.6 351.0,455.8 351.4,455.1 351.9,454.4 352.3,453.9 352.8,453.4 353.2,453.0 353.6,452.7 354.1,452.5 354.5,452.4 355.0,452.4 355.4,452.5 355.8,452.8 356.3,453.1 356.7,453.6 357.1,454.3 357.6,455.1 358.0,456.1 358.5,457.3 358.9,458.8 359.3,460.6 359.8,462.7 360.2,465.4 360.7,468.6 361.1,472.5 361.5,477.1 362.0,482.8 362.4,489.4 362.8,497.1 363.3,505.8 363.7,515.3 364.2,525.4 364.6,535.6 365.0,545.5 365.5,554.7 365.9,562.9 366.4,570.0 366.8,575.9 367.2,580.8 367.7,584.6 368.1,587.6 368.6,589.9 369.0,591.7 369.4,593.0 369.9,594.0 370.3,594.7 370.7,595.3 371.2,595.7 371.6,596.0 372.1,596.3 372.5,596.4 372.9,596.5 373.4,596.6 373.8,596.7 374.3,596.8 374.7,596.8 375.1,596.8 375.6,596.8 376.0,596.9 376.5,596.9 376.9,596.9 377.3,596.9 377.8,596.9 378.2,596.9 378.6,596.9 379.1,596.9 379.5,596.9 380.0,596.9 380.4,596.9 380.8,596.9 381.3,596.9 381.7,596.9 382.2,596.9 382.6,596.9 383.0,596.9 383.5,596.9 383.9,596.9 384.3,596.9 384.8,596.9 385.2,596.9 385.7,596.9 386.1,596.9 386.5,596.9 387.0,596.9 387.4,596.9 387.9,596.9" fill="none" stroke="#c00000" stroke-width="1.15" stroke-linejoin="round" opacity="1.0"/>
<polyline points="300.1,593.1 300.5,593.1 301.0,593.2 301.4,593.2 301.9,593.3 302.3,593.4 302.7,593.5 303.2,593.6 303.6,593.7 304.0,593.8 304.5,594.0 304.9,594.1 305.4,594.3 305.8,594.5 306.2,594.7 306.7,594.9 307.1,595.1 307.6,595.3 308.0,595.5 308.4,595.7 308.9,595.8 309.3,596.0 309.8,596.1 310.2,596.2 310.6,596.3 311.1,596.4 311.5,596.5 311.9,596.6 312.4,596.6 312.8,596.7 313.3,596.7 313.7,596.7 314.1,596.8 314.6,596.8 315.0,596.8 315.5,596.8 315.9,596.8 316.3,596.9 316.8,596.9 317.2,596.9 317.7,596.9 318.1,596.9 318.5,596.9 319.0,596.9 319.4,596.9 319.8,596.9 320.3,596.9 320.7,596.9 321.2,596.9 321.6,596.9 322.0,596.9 322.5,596.9 322.9,596.9 323.4,596.9 323.8,596.9 324.2,596.9 324.7,596.9 325.1,596.9 325.6,596.9 326.0,596.9 326.4,596.9 326.9,596.9 327.3,596.9 327.7,596.9 328.2,596.8 328.6,596.8 329.1,596.8 329.5,596.8 329.9,596.7 330.4,596.7 330.8,596.6 331.3,596.5 331.7,596.3 332.1,596.1 332.6,595.8 333.0,595.4 333.4,594.9 333.9,594.2 334.3,593.3 334.8,592.1 335.2,590.5 335.6,588.3 336.1,585.6 336.5,582.0 337.0,577.5 337.4,571.9 337.8,565.1 338.3,557.0 338.7,547.9 339.2,537.8 339.6,527.3 340.0,516.6 340.5,506.2 340.9,496.6 341.3,488.0 341.8,480.4 342.2,473.9 342.7,468.5 343.1,464.0 343.5,460.2 344.0,457.0 344.4,454.2 344.9,451.9 345.3,449.8 345.7,448.0 346.2,446.3 346.6,444.7 347.1,443.3 347.5,441.9 347.9,440.6 348.4,439.3 348.8,438.1 349.2,436.9 349.7,435.8 350.1,434.8 350.6,433.8 351.0,432.9 351.4,432.1 351.9,431.3 352.3,430.7 352.8,430.1 353.2,429.7 353.6,429.3 354.1,429.1 354.5,429.0 355.0,429.0 355.4,429.1 355.8,429.4 356.3,429.8 356.7,430.4 357.1,431.2 357.6,432.1 358.0,433.3 358.5,434.7 358.9,436.4 359.3,438.5 359.8,441.0 360.2,444.1 360.7,447.8 361.1,452.3 361.5,457.7 362.0,464.3 362.4,472.0 362.8,480.9 363.3,491.1 363.7,502.1 364.2,513.8 364.6,525.6 365.0,537.1 365.5,547.8 365.9,557.4 366.4,565.6 366.8,572.5 367.2,578.1 367.7,582.6 368.1,586.1 368.6,588.8 369.0,590.8 369.4,592.4 369.9,593.5 370.3,594.4 370.7,595.0 371.2,595.5 371.6,595.9 372.1,596.1 372.5,596.3 372.9,596.5 373.4,596.6 373.8,596.7 374.3,596.7 374.7,596.8 375.1,596.8 375.6,596.8 376.0,596.8 376.5,596.9 376.9,596.9 377.3,596.9 377.8,596.9 378.2,596.9 378.6,596.9 379.1,596.9 379.5,596.9 380.0,596.9 380.4,596.9 380.8,596.9 381.3,596.9 381.7,596.9 382.2,596.9 382.6,596.9 383.0,596.9 383.5,596.9 383.9,596.9 384.3,596.9 384.8,596.9 385.2,596.9 385.7,596.9 386.1,596.9 386.5,596.9 387.0,596.9 387.4,596.9 387.9,596.9" fill="none" stroke="#c00000" stroke-width="1.15" stroke-linejoin="round" opacity="1.0"/>
<text x="449.60" y="583.44" font-size="9.60" fill="#c00000" font-weight="normal" font-style="normal" text-anchor="start" textLength="53.00" lengthAdjust="spacingAndGlyphs" stroke="#c00000" stroke-width="0.32">eAu-SP/BDDE</text>
<text x="449.60" y="593.80" font-size="9.60" fill="#c00000" font-weight="normal" font-style="normal" text-anchor="start" textLength="53.00" lengthAdjust="spacingAndGlyphs" stroke="#c00000" stroke-width="0.32">low scan rate</text>
<rect x="401.00" y="430.90" width="110.70" height="91.70" fill="none" stroke="#5a5a5a" stroke-width="1.1"/>
<text x="394.00" y="525.00" font-size="6.70" fill="#2c2c2c" font-weight="normal" font-style="normal" text-anchor="end" textLength="3.77" lengthAdjust="spacingAndGlyphs" stroke="#2c2c2c" stroke-width="0.2">0</text>
<line x1="401.00" y1="492.03" x2="403.50" y2="492.03" stroke="#5a5a5a" stroke-width="0.9"/>
<text x="394.00" y="494.43" font-size="6.70" fill="#2c2c2c" font-weight="normal" font-style="normal" text-anchor="end" textLength="3.77" lengthAdjust="spacingAndGlyphs" stroke="#2c2c2c" stroke-width="0.2">1</text>
<line x1="401.00" y1="461.47" x2="403.50" y2="461.47" stroke="#5a5a5a" stroke-width="0.9"/>
<text x="394.00" y="463.87" font-size="6.70" fill="#2c2c2c" font-weight="normal" font-style="normal" text-anchor="end" textLength="3.77" lengthAdjust="spacingAndGlyphs" stroke="#2c2c2c" stroke-width="0.2">2</text>
<text x="394.00" y="433.30" font-size="6.70" fill="#2c2c2c" font-weight="normal" font-style="normal" text-anchor="end" textLength="3.77" lengthAdjust="spacingAndGlyphs" stroke="#2c2c2c" stroke-width="0.2">3</text>
<text x="401.00" y="534.30" font-size="6.70" fill="#2c2c2c" font-weight="normal" font-style="normal" text-anchor="middle" textLength="3.75" lengthAdjust="spacingAndGlyphs" stroke="#2c2c2c" stroke-width="0.2">0</text>
<line x1="437.90" y1="522.60" x2="437.90" y2="520.10" stroke="#5a5a5a" stroke-width="0.9"/>
<text x="437.90" y="534.30" font-size="6.70" fill="#2c2c2c" font-weight="normal" font-style="normal" text-anchor="middle" textLength="3.75" lengthAdjust="spacingAndGlyphs" stroke="#2c2c2c" stroke-width="0.2">5</text>
<line x1="474.80" y1="522.60" x2="474.80" y2="520.10" stroke="#5a5a5a" stroke-width="0.9"/>
<text x="474.80" y="534.30" font-size="6.70" fill="#2c2c2c" font-weight="normal" font-style="normal" text-anchor="middle" textLength="7.50" lengthAdjust="spacingAndGlyphs" stroke="#2c2c2c" stroke-width="0.2">10</text>
<text x="511.70" y="534.30" font-size="6.70" fill="#2c2c2c" font-weight="normal" font-style="normal" text-anchor="middle" textLength="7.50" lengthAdjust="spacingAndGlyphs" stroke="#2c2c2c" stroke-width="0.2">15</text>
<line x1="408.38" y1="518.32" x2="511.70" y2="432.12" stroke="#e07070" stroke-width="0.8"/>
<line x1="423.14" y1="503.95" x2="423.14" y2="505.79" stroke="#555" stroke-width="0.7"/>
<line x1="421.84" y1="503.95" x2="424.44" y2="503.95" stroke="#555" stroke-width="0.7"/>
<line x1="421.84" y1="505.79" x2="424.44" y2="505.79" stroke="#555" stroke-width="0.7"/>
<line x1="452.66" y1="479.81" x2="452.66" y2="481.64" stroke="#555" stroke-width="0.7"/>
<line x1="451.36" y1="479.81" x2="453.96" y2="479.81" stroke="#555" stroke-width="0.7"/>
<line x1="451.36" y1="481.64" x2="453.96" y2="481.64" stroke="#555" stroke-width="0.7"/>
<line x1="482.18" y1="455.35" x2="482.18" y2="457.80" stroke="#555" stroke-width="0.7"/>
<line x1="480.88" y1="455.35" x2="483.48" y2="455.35" stroke="#555" stroke-width="0.7"/>
<line x1="480.88" y1="457.80" x2="483.48" y2="457.80" stroke="#555" stroke-width="0.7"/>
<circle cx="408.38" cy="518.01" r="1.6" fill="#c00000"/>
<circle cx="423.14" cy="504.87" r="1.6" fill="#c00000"/>
<circle cx="437.90" cy="492.95" r="1.6" fill="#c00000"/>
<circle cx="452.66" cy="480.72" r="1.6" fill="#c00000"/>
<circle cx="467.42" cy="468.80" r="1.6" fill="#c00000"/>
<circle cx="482.18" cy="456.58" r="1.6" fill="#c00000"/>
<circle cx="496.94" cy="444.35" r="1.6" fill="#c00000"/>
<circle cx="511.70" cy="432.43" r="1.6" fill="#c00000"/>
<g transform="translate(382.80,439.00) rotate(-90)"><text x="0" y="2.4" font-size="6.8" font-weight="bold" text-anchor="middle" textLength="19.2" lengthAdjust="spacingAndGlyphs" fill="#222" stroke="#222" stroke-width="0.1"><tspan font-style="italic">I</tspan><tspan font-size="4.6" dy="1.5" font-style="italic">p</tspan><tspan dy="-1.5"> [μA]</tspan></text></g>
<text x="482.10" y="540.40" font-size="6.8" font-weight="bold" textLength="35.30" lengthAdjust="spacingAndGlyphs" fill="#222"><tspan font-style="italic">c</tspan> [μmol L<tspan font-size="4.6" dy="-2.2">−1</tspan><tspan dy="2.2">]</tspan></text>
<rect x="566.4" y="425.0" width="215.40" height="172.10" fill="none" stroke="#606060" stroke-width="1.2"/>
<text x="558.40" y="599.96" font-size="8.00" fill="#2c2c2c" font-weight="normal" font-style="normal" text-anchor="end" textLength="4.26" lengthAdjust="spacingAndGlyphs" stroke="#2c2c2c" stroke-width="0.32">0</text>
<line x1="566.40" y1="539.73" x2="569.40" y2="539.73" stroke="#606060" stroke-width="1"/>
<text x="558.40" y="542.60" font-size="8.00" fill="#2c2c2c" font-weight="normal" font-style="normal" text-anchor="end" textLength="4.26" lengthAdjust="spacingAndGlyphs" stroke="#2c2c2c" stroke-width="0.32">1</text>
<line x1="566.40" y1="482.37" x2="569.40" y2="482.37" stroke="#606060" stroke-width="1"/>
<text x="558.40" y="485.23" font-size="8.00" fill="#2c2c2c" font-weight="normal" font-style="normal" text-anchor="end" textLength="4.26" lengthAdjust="spacingAndGlyphs" stroke="#2c2c2c" stroke-width="0.32">2</text>
<text x="558.40" y="427.86" font-size="8.00" fill="#2c2c2c" font-weight="normal" font-style="normal" text-anchor="end" textLength="4.26" lengthAdjust="spacingAndGlyphs" stroke="#2c2c2c" stroke-width="0.32">3</text>
<text x="566.40" y="611.56" font-size="8.00" fill="#2c2c2c" font-weight="normal" font-style="normal" text-anchor="middle" textLength="4.11" lengthAdjust="spacingAndGlyphs" stroke="#2c2c2c" stroke-width="0.32">0</text>
<line x1="638.20" y1="597.10" x2="638.20" y2="594.10" stroke="#606060" stroke-width="1"/>
<text x="638.20" y="611.56" font-size="8.00" fill="#2c2c2c" font-weight="normal" font-style="normal" text-anchor="middle" textLength="4.11" lengthAdjust="spacingAndGlyphs" stroke="#2c2c2c" stroke-width="0.32">5</text>
<line x1="710.00" y1="597.10" x2="710.00" y2="594.10" stroke="#606060" stroke-width="1"/>
<text x="710.00" y="611.56" font-size="8.00" fill="#2c2c2c" font-weight="normal" font-style="normal" text-anchor="middle" textLength="8.21" lengthAdjust="spacingAndGlyphs" stroke="#2c2c2c" stroke-width="0.32">10</text>
<text x="781.80" y="611.56" font-size="8.00" fill="#2c2c2c" font-weight="normal" font-style="normal" text-anchor="middle" textLength="8.21" lengthAdjust="spacingAndGlyphs" stroke="#2c2c2c" stroke-width="0.32">15</text>
<g transform="translate(539.5,450.0) rotate(-90)"><text x="0" y="3.4" font-size="9.8" font-weight="bold" text-anchor="middle" textLength="24.5" lengthAdjust="spacingAndGlyphs" fill="#111" stroke="#111" stroke-width="0.3"><tspan font-style="italic">I</tspan><tspan font-size="6.6" dy="2" font-style="italic">p</tspan><tspan dy="-2"> [μA]</tspan></text></g>
<text x="717.8" y="621.5" font-size="9.2" font-weight="bold" textLength="54.7" lengthAdjust="spacingAndGlyphs" fill="#111" stroke="#111" stroke-width="0.3"><tspan font-style="italic">c</tspan><tspan font-size="6" dy="2">DA</tspan><tspan dy="-2"> [μmol L</tspan><tspan font-size="6" dy="-3">−1</tspan><tspan dy="3">]</tspan></text>
<clipPath id="c9"><rect x="566.4" y="425.0" width="218.39999999999998" height="172.10000000000002"/></clipPath><g clip-path="url(#c9)">
<line x1="580.76" y1="598.25" x2="781.80" y2="589.07" stroke="#000000" stroke-width="1.2"/>
<line x1="580.76" y1="595.95" x2="781.80" y2="573.58" stroke="#0000ff" stroke-width="1.2"/>
<line x1="580.76" y1="572.43" x2="781.80" y2="429.02" stroke="#92d050" stroke-width="1.2"/>
<line x1="580.76" y1="583.91" x2="781.80" y2="507.03" stroke="#00b050" stroke-width="1.2"/>
<line x1="580.76" y1="589.64" x2="781.80" y2="550.06" stroke="#548235" stroke-width="1.2"/>
<line x1="580.76" y1="595.38" x2="781.80" y2="575.30" stroke="#ed7d31" stroke-width="1.2"/>
<line x1="580.76" y1="585.63" x2="781.80" y2="464.01" stroke="#ff0000" stroke-width="1.2"/>
<line x1="580.76" y1="588.50" x2="781.80" y2="427.87" stroke="#c00000" stroke-width="1.2"/>
<circle cx="580.76" cy="597.10" r="1.7" fill="#000000"/>
<circle cx="609.48" cy="596.53" r="1.7" fill="#000000"/>
<circle cx="638.20" cy="596.53" r="1.7" fill="#000000"/>
<circle cx="666.92" cy="595.95" r="1.7" fill="#000000"/>
<circle cx="695.64" cy="595.38" r="1.7" fill="#000000"/>
<circle cx="724.36" cy="592.51" r="1.7" fill="#000000"/>
<circle cx="753.08" cy="590.22" r="1.7" fill="#000000"/>
<circle cx="781.80" cy="587.92" r="1.7" fill="#000000"/>
<circle cx="580.76" cy="596.53" r="1.7" fill="#0000ff"/>
<circle cx="609.48" cy="592.51" r="1.7" fill="#0000ff"/>
<circle cx="638.20" cy="589.07" r="1.7" fill="#0000ff"/>
<circle cx="666.92" cy="585.63" r="1.7" fill="#0000ff"/>
<circle cx="695.64" cy="582.76" r="1.7" fill="#0000ff"/>
<circle cx="724.36" cy="579.32" r="1.7" fill="#0000ff"/>
<circle cx="753.08" cy="576.45" r="1.7" fill="#0000ff"/>
<circle cx="781.80" cy="573.58" r="1.7" fill="#0000ff"/>
<line x1="609.48" y1="551.21" x2="609.48" y2="555.80" stroke="#666" stroke-width="0.7"/>
<line x1="607.98" y1="551.21" x2="610.98" y2="551.21" stroke="#666" stroke-width="0.7"/>
<line x1="607.98" y1="555.80" x2="610.98" y2="555.80" stroke="#666" stroke-width="0.7"/>
<line x1="638.20" y1="525.39" x2="638.20" y2="532.28" stroke="#666" stroke-width="0.7"/>
<line x1="636.70" y1="525.39" x2="639.70" y2="525.39" stroke="#666" stroke-width="0.7"/>
<line x1="636.70" y1="532.28" x2="639.70" y2="532.28" stroke="#666" stroke-width="0.7"/>
<line x1="666.92" y1="505.89" x2="666.92" y2="511.62" stroke="#666" stroke-width="0.7"/>
<line x1="665.42" y1="505.89" x2="668.42" y2="505.89" stroke="#666" stroke-width="0.7"/>
<line x1="665.42" y1="511.62" x2="668.42" y2="511.62" stroke="#666" stroke-width="0.7"/>
<line x1="695.64" y1="482.94" x2="695.64" y2="490.97" stroke="#666" stroke-width="0.7"/>
<line x1="694.14" y1="482.94" x2="697.14" y2="482.94" stroke="#666" stroke-width="0.7"/>
<line x1="694.14" y1="490.97" x2="697.14" y2="490.97" stroke="#666" stroke-width="0.7"/>
<line x1="724.36" y1="463.44" x2="724.36" y2="476.06" stroke="#666" stroke-width="0.7"/>
<line x1="722.86" y1="463.44" x2="725.86" y2="463.44" stroke="#666" stroke-width="0.7"/>
<line x1="722.86" y1="476.06" x2="725.86" y2="476.06" stroke="#666" stroke-width="0.7"/>
<line x1="753.08" y1="442.21" x2="753.08" y2="460.57" stroke="#666" stroke-width="0.7"/>
<line x1="751.58" y1="442.21" x2="754.58" y2="442.21" stroke="#666" stroke-width="0.7"/>
<line x1="751.58" y1="460.57" x2="754.58" y2="460.57" stroke="#666" stroke-width="0.7"/>
<line x1="781.80" y1="421.56" x2="781.80" y2="444.50" stroke="#666" stroke-width="0.7"/>
<line x1="780.30" y1="421.56" x2="783.30" y2="421.56" stroke="#666" stroke-width="0.7"/>
<line x1="780.30" y1="444.50" x2="783.30" y2="444.50" stroke="#666" stroke-width="0.7"/>
<circle cx="580.76" cy="576.45" r="1.7" fill="#92d050"/>
<circle cx="609.48" cy="553.50" r="1.7" fill="#92d050"/>
<circle cx="638.20" cy="528.83" r="1.7" fill="#92d050"/>
<circle cx="666.92" cy="508.76" r="1.7" fill="#92d050"/>
<circle cx="695.64" cy="486.96" r="1.7" fill="#92d050"/>
<circle cx="724.36" cy="469.75" r="1.7" fill="#92d050"/>
<circle cx="753.08" cy="451.39" r="1.7" fill="#92d050"/>
<circle cx="781.80" cy="433.03" r="1.7" fill="#92d050"/>
<line x1="666.92" y1="547.19" x2="666.92" y2="550.63" stroke="#666" stroke-width="0.7"/>
<line x1="665.42" y1="547.19" x2="668.42" y2="547.19" stroke="#666" stroke-width="0.7"/>
<line x1="665.42" y1="550.63" x2="668.42" y2="550.63" stroke="#666" stroke-width="0.7"/>
<line x1="695.64" y1="535.72" x2="695.64" y2="540.31" stroke="#666" stroke-width="0.7"/>
<line x1="694.14" y1="535.72" x2="697.14" y2="535.72" stroke="#666" stroke-width="0.7"/>
<line x1="694.14" y1="540.31" x2="697.14" y2="540.31" stroke="#666" stroke-width="0.7"/>
<line x1="724.36" y1="526.54" x2="724.36" y2="529.98" stroke="#666" stroke-width="0.7"/>
<line x1="722.86" y1="526.54" x2="725.86" y2="526.54" stroke="#666" stroke-width="0.7"/>
<line x1="722.86" y1="529.98" x2="725.86" y2="529.98" stroke="#666" stroke-width="0.7"/>
<line x1="753.08" y1="516.21" x2="753.08" y2="519.65" stroke="#666" stroke-width="0.7"/>
<line x1="751.58" y1="516.21" x2="754.58" y2="516.21" stroke="#666" stroke-width="0.7"/>
<line x1="751.58" y1="519.65" x2="754.58" y2="519.65" stroke="#666" stroke-width="0.7"/>
<circle cx="580.76" cy="587.35" r="1.7" fill="#00b050"/>
<circle cx="609.48" cy="573.58" r="1.7" fill="#00b050"/>
<circle cx="638.20" cy="560.96" r="1.7" fill="#00b050"/>
<circle cx="666.92" cy="548.91" r="1.7" fill="#00b050"/>
<circle cx="695.64" cy="538.01" r="1.7" fill="#00b050"/>
<circle cx="724.36" cy="528.26" r="1.7" fill="#00b050"/>
<circle cx="753.08" cy="517.93" r="1.7" fill="#00b050"/>
<circle cx="781.80" cy="508.18" r="1.7" fill="#00b050"/>
<circle cx="580.76" cy="591.36" r="1.7" fill="#548235"/>
<circle cx="609.48" cy="583.91" r="1.7" fill="#548235"/>
<circle cx="638.20" cy="578.17" r="1.7" fill="#548235"/>
<circle cx="666.92" cy="571.28" r="1.7" fill="#548235"/>
<circle cx="695.64" cy="566.12" r="1.7" fill="#548235"/>
<circle cx="724.36" cy="560.96" r="1.7" fill="#548235"/>
<circle cx="753.08" cy="555.80" r="1.7" fill="#548235"/>
<circle cx="781.80" cy="550.06" r="1.7" fill="#548235"/>
<circle cx="580.76" cy="595.38" r="1.7" fill="#ed7d31"/>
<circle cx="609.48" cy="592.51" r="1.7" fill="#ed7d31"/>
<circle cx="638.20" cy="590.50" r="1.7" fill="#ed7d31"/>
<circle cx="666.92" cy="586.77" r="1.7" fill="#ed7d31"/>
<circle cx="695.64" cy="583.91" r="1.7" fill="#ed7d31"/>
<circle cx="724.36" cy="581.04" r="1.7" fill="#ed7d31"/>
<circle cx="753.08" cy="578.17" r="1.7" fill="#ed7d31"/>
<circle cx="781.80" cy="575.59" r="1.7" fill="#ed7d31"/>
<circle cx="580.76" cy="584.48" r="1.7" fill="#ff0000"/>
<circle cx="609.48" cy="567.84" r="1.7" fill="#ff0000"/>
<circle cx="638.20" cy="550.63" r="1.7" fill="#ff0000"/>
<circle cx="666.92" cy="534.00" r="1.7" fill="#ff0000"/>
<circle cx="695.64" cy="516.79" r="1.7" fill="#ff0000"/>
<circle cx="724.36" cy="501.30" r="1.7" fill="#ff0000"/>
<circle cx="753.08" cy="481.22" r="1.7" fill="#ff0000"/>
<circle cx="781.80" cy="464.01" r="1.7" fill="#ff0000"/>
<circle cx="580.76" cy="589.07" r="1.7" fill="#c00000"/>
<circle cx="609.48" cy="564.97" r="1.7" fill="#c00000"/>
<circle cx="638.20" cy="542.31" r="1.7" fill="#c00000"/>
<circle cx="666.92" cy="518.51" r="1.7" fill="#c00000"/>
<circle cx="695.64" cy="496.13" r="1.7" fill="#c00000"/>
<circle cx="724.36" cy="473.76" r="1.7" fill="#c00000"/>
<circle cx="753.08" cy="450.82" r="1.7" fill="#c00000"/>
<circle cx="781.80" cy="428.44" r="1.7" fill="#c00000"/>
</g>
<path d="M598.2,430.30 L600.5,432.60 L598.2,434.90 L595.9,432.60 Z" fill="#000000"/>
<text x="605.30" y="435.39" font-size="7.80" fill="#2a2a2a" font-weight="normal" font-style="normal" text-anchor="start" textLength="18.77" lengthAdjust="spacingAndGlyphs" stroke="#2a2a2a" stroke-width="0.35">BDDE</text>
<path d="M598.2,440.12 L600.5,442.42 L598.2,444.72 L595.9,442.42 Z" fill="#0000ff"/>
<text x="605.30" y="445.21" font-size="7.80" fill="#2a2a2a" font-weight="normal" font-style="normal" text-anchor="start" textLength="30.08" lengthAdjust="spacingAndGlyphs" stroke="#2a2a2a" stroke-width="0.35">SP/BDDE</text>
<circle cx="598.2" cy="452.24" r="1.9" fill="#92d050"/>
<text x="605.30" y="455.03" font-size="7.80" fill="#2a2a2a" font-weight="normal" font-style="normal" text-anchor="start" textLength="45.33" lengthAdjust="spacingAndGlyphs" stroke="#2a2a2a" stroke-width="0.35">5Au-SP-BDDE</text>
<circle cx="598.2" cy="462.06" r="1.9" fill="#00b050"/>
<text x="605.30" y="464.85" font-size="7.80" fill="#2a2a2a" font-weight="normal" font-style="normal" text-anchor="start" textLength="49.53" lengthAdjust="spacingAndGlyphs" stroke="#2a2a2a" stroke-width="0.35">15Au-SP-BDDE</text>
<path d="M598.2,469.58 L600.5,471.88 L598.2,474.18 L595.9,471.88 Z" fill="#548235"/>
<text x="605.30" y="474.67" font-size="7.80" fill="#2a2a2a" font-weight="normal" font-style="normal" text-anchor="start" textLength="49.53" lengthAdjust="spacingAndGlyphs" stroke="#2a2a2a" stroke-width="0.35">50Au-SP-BDDE</text>
<circle cx="598.2" cy="481.70" r="1.9" fill="#ed7d31"/>
<text x="605.30" y="484.49" font-size="7.80" fill="#2a2a2a" font-weight="normal" font-style="normal" text-anchor="start" textLength="45.48" lengthAdjust="spacingAndGlyphs" stroke="#2a2a2a" stroke-width="0.35">pAu-SP-BDDE</text>
<circle cx="598.2" cy="491.52" r="1.9" fill="#ff0000"/>
<text x="605.30" y="494.31" font-size="7.80" fill="#2a2a2a" font-weight="normal" font-style="normal" text-anchor="start" textLength="45.25" lengthAdjust="spacingAndGlyphs" stroke="#2a2a2a" stroke-width="0.35">eAu-SP-BDDE</text>
<circle cx="598.2" cy="501.34" r="1.9" fill="#c00000"/>
<text x="605.30" y="504.13" font-size="7.80" fill="#2a2a2a" font-weight="normal" font-style="normal" text-anchor="start" textLength="29.23" lengthAdjust="spacingAndGlyphs" stroke="#2a2a2a" stroke-width="0.35">eAu_LSR</text>
<path d="M707.5,492.5 C716,496 720,503 716,508 C713,512 709,513.5 705,514" fill="none" stroke="#000" stroke-width="3.2"/>
<path d="M703.5,488.5 L711.5,491 L706,496.5 Z" fill="#000"/>
<text x="727.10" y="504.21" font-size="8.40" fill="#333" font-weight="normal" font-style="normal" text-anchor="start" textLength="35.30" lengthAdjust="spacingAndGlyphs" stroke="#333" stroke-width="0.2">Decreased</text>
<text x="728.80" y="513.98" font-size="8.40" fill="#333" font-weight="normal" font-style="normal" text-anchor="start" textLength="31.30" lengthAdjust="spacingAndGlyphs" stroke="#333" stroke-width="0.2">scan rate</text>
</svg></body></html>
